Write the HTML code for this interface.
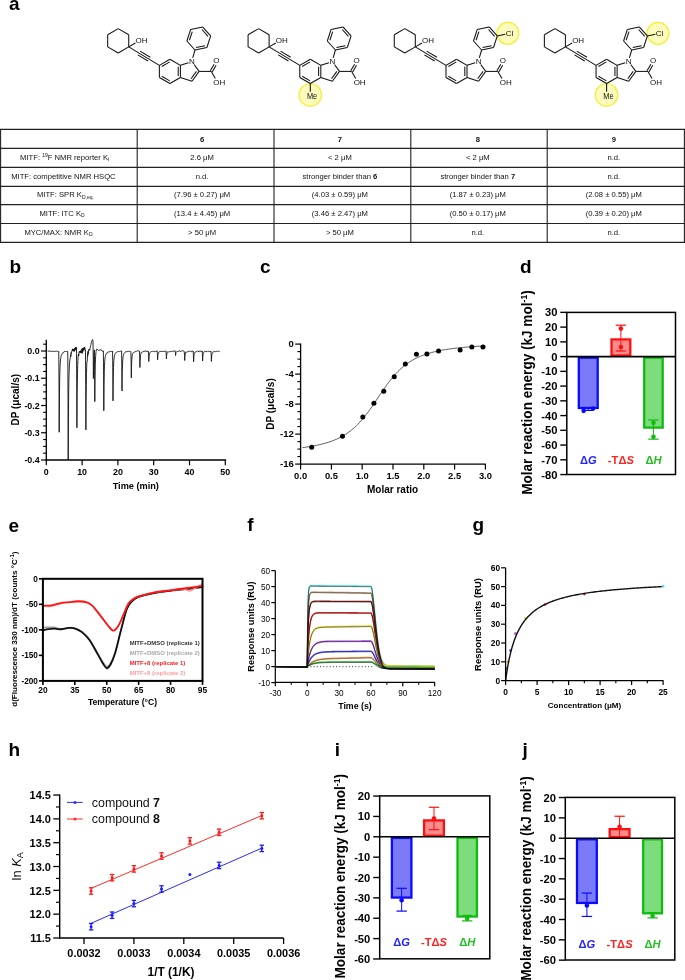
<!DOCTYPE html><html><head><meta charset="utf-8"><style>html,body{margin:0;padding:0;background:#fff;}svg{display:block;will-change:transform;}</style></head><body><svg width="685" height="980" viewBox="0 0 685 980" font-family='"Liberation Sans", sans-serif'>
<rect width="685" height="980" fill="#fff"/>
<text x="9.1" y="9.85" font-size="19" text-anchor="start" font-weight="bold" font-style="normal" fill="#000" >a</text>
<g>
<line x1="118.2" y1="28.65" x2="128.72" y2="34.72" stroke="#111" stroke-width="1.05" />
<line x1="128.72" y1="34.72" x2="128.72" y2="46.88" stroke="#111" stroke-width="1.05" />
<line x1="128.72" y1="46.88" x2="118.2" y2="52.95" stroke="#111" stroke-width="1.05" />
<line x1="118.2" y1="52.95" x2="107.68" y2="46.88" stroke="#111" stroke-width="1.05" />
<line x1="107.68" y1="46.88" x2="107.68" y2="34.72" stroke="#111" stroke-width="1.05" />
<line x1="107.68" y1="34.72" x2="118.2" y2="28.65" stroke="#111" stroke-width="1.05" />
<line x1="128.72" y1="46.88" x2="135.43" y2="43" stroke="#111" stroke-width="1.05" />
<text x="135.44" y="43.4" font-size="8.0" text-anchor="start" font-weight="normal" font-style="normal" fill="#111" >OH</text>
<line x1="128.72" y1="46.88" x2="159.38" y2="65.33" stroke="#111" stroke-width="1.05" />
<line x1="137.81" y1="54.91" x2="148.02" y2="61.06" stroke="#111" stroke-width="1.05" />
<line x1="140.08" y1="51.14" x2="150.29" y2="57.29" stroke="#111" stroke-width="1.05" />
<line x1="169.9" y1="59.25" x2="180.42" y2="65.33" stroke="#111" stroke-width="1.05" />
<line x1="180.42" y1="65.33" x2="180.42" y2="77.48" stroke="#111" stroke-width="1.05" />
<line x1="180.42" y1="77.48" x2="169.9" y2="83.55" stroke="#111" stroke-width="1.05" />
<line x1="169.9" y1="83.55" x2="159.38" y2="77.48" stroke="#111" stroke-width="1.05" />
<line x1="159.38" y1="77.48" x2="159.38" y2="65.33" stroke="#111" stroke-width="1.05" />
<line x1="159.38" y1="65.33" x2="169.9" y2="59.25" stroke="#111" stroke-width="1.05" />
<line x1="161.78" y1="66.48" x2="169.7" y2="61.91" stroke="#111" stroke-width="1.05" />
<line x1="178.22" y1="66.83" x2="178.22" y2="75.98" stroke="#111" stroke-width="1.05" />
<line x1="169.7" y1="80.89" x2="161.78" y2="76.32" stroke="#111" stroke-width="1.05" />
<line x1="180.42" y1="65.33" x2="188.55" y2="62.68" stroke="#111" stroke-width="1.05" />
<line x1="194.09" y1="64.48" x2="199.12" y2="71.4" stroke="#111" stroke-width="1.05" />
<line x1="199.12" y1="71.4" x2="191.98" y2="81.23" stroke="#111" stroke-width="1.05" />
<line x1="191.98" y1="81.23" x2="180.42" y2="77.48" stroke="#111" stroke-width="1.05" />
<line x1="196.46" y1="71.32" x2="191.08" y2="78.72" stroke="#111" stroke-width="1.05" />
<text x="191.98" y="64.37" font-size="8.0" text-anchor="middle" font-weight="normal" font-style="normal" fill="#111" >N</text>
<line x1="192.7" y1="57.92" x2="195.03" y2="50.01" stroke="#111" stroke-width="1.05" />
<line x1="195.03" y1="50.01" x2="206.91" y2="47.49" stroke="#111" stroke-width="1.05" />
<line x1="206.91" y1="47.49" x2="210.67" y2="35.93" stroke="#111" stroke-width="1.05" />
<line x1="210.67" y1="35.93" x2="202.54" y2="26.9" stroke="#111" stroke-width="1.05" />
<line x1="202.54" y1="26.9" x2="190.65" y2="29.43" stroke="#111" stroke-width="1.05" />
<line x1="190.65" y1="29.43" x2="186.9" y2="40.99" stroke="#111" stroke-width="1.05" />
<line x1="186.9" y1="40.99" x2="195.03" y2="50.01" stroke="#111" stroke-width="1.05" />
<line x1="196.04" y1="47.55" x2="204.99" y2="45.65" stroke="#111" stroke-width="1.05" />
<line x1="189.46" y1="40.24" x2="192.28" y2="31.54" stroke="#111" stroke-width="1.05" />
<line x1="201.91" y1="29.49" x2="208.03" y2="36.29" stroke="#111" stroke-width="1.05" />
<line x1="199.12" y1="71.4" x2="211.27" y2="71.4" stroke="#111" stroke-width="1.05" />
<line x1="212.22" y1="71.95" x2="216.1" y2="65.24" stroke="#111" stroke-width="1.05" />
<line x1="210.31" y1="70.85" x2="214.19" y2="64.14" stroke="#111" stroke-width="1.05" />
<line x1="211.27" y1="71.4" x2="215.34" y2="78.46" stroke="#111" stroke-width="1.05" />
<text x="216.34" y="62.88" font-size="8.0" text-anchor="middle" font-weight="normal" font-style="normal" fill="#111" >O</text>
<text x="213.24" y="84.62" font-size="8.0" text-anchor="start" font-weight="normal" font-style="normal" fill="#111" >OH</text>
</g>
<g>
<circle cx="310.3" cy="94.95" r="11.2" fill="#fcfcbf" stroke="#f4ee2c" stroke-width="1.2"/>
<line x1="258.6" y1="28.65" x2="269.12" y2="34.72" stroke="#111" stroke-width="1.05" />
<line x1="269.12" y1="34.72" x2="269.12" y2="46.88" stroke="#111" stroke-width="1.05" />
<line x1="269.12" y1="46.88" x2="258.6" y2="52.95" stroke="#111" stroke-width="1.05" />
<line x1="258.6" y1="52.95" x2="248.08" y2="46.88" stroke="#111" stroke-width="1.05" />
<line x1="248.08" y1="46.88" x2="248.08" y2="34.72" stroke="#111" stroke-width="1.05" />
<line x1="248.08" y1="34.72" x2="258.6" y2="28.65" stroke="#111" stroke-width="1.05" />
<line x1="269.12" y1="46.88" x2="275.83" y2="43" stroke="#111" stroke-width="1.05" />
<text x="275.84" y="43.4" font-size="8.0" text-anchor="start" font-weight="normal" font-style="normal" fill="#111" >OH</text>
<line x1="269.12" y1="46.88" x2="299.78" y2="65.33" stroke="#111" stroke-width="1.05" />
<line x1="278.21" y1="54.91" x2="288.42" y2="61.06" stroke="#111" stroke-width="1.05" />
<line x1="280.48" y1="51.14" x2="290.69" y2="57.29" stroke="#111" stroke-width="1.05" />
<line x1="310.3" y1="59.25" x2="320.82" y2="65.33" stroke="#111" stroke-width="1.05" />
<line x1="320.82" y1="65.33" x2="320.82" y2="77.48" stroke="#111" stroke-width="1.05" />
<line x1="320.82" y1="77.48" x2="310.3" y2="83.55" stroke="#111" stroke-width="1.05" />
<line x1="310.3" y1="83.55" x2="299.78" y2="77.48" stroke="#111" stroke-width="1.05" />
<line x1="299.78" y1="77.48" x2="299.78" y2="65.33" stroke="#111" stroke-width="1.05" />
<line x1="299.78" y1="65.33" x2="310.3" y2="59.25" stroke="#111" stroke-width="1.05" />
<line x1="302.18" y1="66.48" x2="310.1" y2="61.91" stroke="#111" stroke-width="1.05" />
<line x1="318.62" y1="66.83" x2="318.62" y2="75.98" stroke="#111" stroke-width="1.05" />
<line x1="310.1" y1="80.89" x2="302.18" y2="76.32" stroke="#111" stroke-width="1.05" />
<line x1="320.82" y1="65.33" x2="328.95" y2="62.68" stroke="#111" stroke-width="1.05" />
<line x1="334.49" y1="64.48" x2="339.52" y2="71.4" stroke="#111" stroke-width="1.05" />
<line x1="339.52" y1="71.4" x2="332.38" y2="81.23" stroke="#111" stroke-width="1.05" />
<line x1="332.38" y1="81.23" x2="320.82" y2="77.48" stroke="#111" stroke-width="1.05" />
<line x1="336.86" y1="71.32" x2="331.48" y2="78.72" stroke="#111" stroke-width="1.05" />
<text x="332.38" y="64.37" font-size="8.0" text-anchor="middle" font-weight="normal" font-style="normal" fill="#111" >N</text>
<line x1="333.1" y1="57.92" x2="335.43" y2="50.01" stroke="#111" stroke-width="1.05" />
<line x1="335.43" y1="50.01" x2="347.31" y2="47.49" stroke="#111" stroke-width="1.05" />
<line x1="347.31" y1="47.49" x2="351.07" y2="35.93" stroke="#111" stroke-width="1.05" />
<line x1="351.07" y1="35.93" x2="342.94" y2="26.9" stroke="#111" stroke-width="1.05" />
<line x1="342.94" y1="26.9" x2="331.05" y2="29.43" stroke="#111" stroke-width="1.05" />
<line x1="331.05" y1="29.43" x2="327.3" y2="40.99" stroke="#111" stroke-width="1.05" />
<line x1="327.3" y1="40.99" x2="335.43" y2="50.01" stroke="#111" stroke-width="1.05" />
<line x1="336.44" y1="47.55" x2="345.39" y2="45.65" stroke="#111" stroke-width="1.05" />
<line x1="329.86" y1="40.24" x2="332.68" y2="31.54" stroke="#111" stroke-width="1.05" />
<line x1="342.31" y1="29.49" x2="348.43" y2="36.29" stroke="#111" stroke-width="1.05" />
<line x1="339.52" y1="71.4" x2="351.67" y2="71.4" stroke="#111" stroke-width="1.05" />
<line x1="352.62" y1="71.95" x2="356.5" y2="65.24" stroke="#111" stroke-width="1.05" />
<line x1="350.71" y1="70.85" x2="354.59" y2="64.14" stroke="#111" stroke-width="1.05" />
<line x1="351.67" y1="71.4" x2="355.74" y2="78.46" stroke="#111" stroke-width="1.05" />
<text x="356.74" y="62.88" font-size="8.0" text-anchor="middle" font-weight="normal" font-style="normal" fill="#111" >O</text>
<text x="353.64" y="84.62" font-size="8.0" text-anchor="start" font-weight="normal" font-style="normal" fill="#111" >OH</text>
<line x1="310.3" y1="83.55" x2="310.3" y2="91.7" stroke="#111" stroke-width="1.05" />
<text x="307" y="98.7" font-size="8.6" text-anchor="start" font-weight="normal" font-style="normal" fill="#111" textLength="10.2" lengthAdjust="spacingAndGlyphs">Me</text>
</g>
<g>
<circle cx="507.87" cy="33.33" r="10.9" fill="#fcfcbf" stroke="#f4ee2c" stroke-width="1.2"/>
<line x1="404.8" y1="28.65" x2="415.32" y2="34.72" stroke="#111" stroke-width="1.05" />
<line x1="415.32" y1="34.72" x2="415.32" y2="46.88" stroke="#111" stroke-width="1.05" />
<line x1="415.32" y1="46.88" x2="404.8" y2="52.95" stroke="#111" stroke-width="1.05" />
<line x1="404.8" y1="52.95" x2="394.28" y2="46.88" stroke="#111" stroke-width="1.05" />
<line x1="394.28" y1="46.88" x2="394.28" y2="34.72" stroke="#111" stroke-width="1.05" />
<line x1="394.28" y1="34.72" x2="404.8" y2="28.65" stroke="#111" stroke-width="1.05" />
<line x1="415.32" y1="46.88" x2="422.03" y2="43" stroke="#111" stroke-width="1.05" />
<text x="422.04" y="43.4" font-size="8.0" text-anchor="start" font-weight="normal" font-style="normal" fill="#111" >OH</text>
<line x1="415.32" y1="46.88" x2="445.98" y2="65.33" stroke="#111" stroke-width="1.05" />
<line x1="424.41" y1="54.91" x2="434.62" y2="61.06" stroke="#111" stroke-width="1.05" />
<line x1="426.68" y1="51.14" x2="436.89" y2="57.29" stroke="#111" stroke-width="1.05" />
<line x1="456.5" y1="59.25" x2="467.02" y2="65.33" stroke="#111" stroke-width="1.05" />
<line x1="467.02" y1="65.33" x2="467.02" y2="77.48" stroke="#111" stroke-width="1.05" />
<line x1="467.02" y1="77.48" x2="456.5" y2="83.55" stroke="#111" stroke-width="1.05" />
<line x1="456.5" y1="83.55" x2="445.98" y2="77.48" stroke="#111" stroke-width="1.05" />
<line x1="445.98" y1="77.48" x2="445.98" y2="65.33" stroke="#111" stroke-width="1.05" />
<line x1="445.98" y1="65.33" x2="456.5" y2="59.25" stroke="#111" stroke-width="1.05" />
<line x1="448.38" y1="66.48" x2="456.3" y2="61.91" stroke="#111" stroke-width="1.05" />
<line x1="464.82" y1="66.83" x2="464.82" y2="75.98" stroke="#111" stroke-width="1.05" />
<line x1="456.3" y1="80.89" x2="448.38" y2="76.32" stroke="#111" stroke-width="1.05" />
<line x1="467.02" y1="65.33" x2="475.15" y2="62.68" stroke="#111" stroke-width="1.05" />
<line x1="480.69" y1="64.48" x2="485.72" y2="71.4" stroke="#111" stroke-width="1.05" />
<line x1="485.72" y1="71.4" x2="478.58" y2="81.23" stroke="#111" stroke-width="1.05" />
<line x1="478.58" y1="81.23" x2="467.02" y2="77.48" stroke="#111" stroke-width="1.05" />
<line x1="483.06" y1="71.32" x2="477.68" y2="78.72" stroke="#111" stroke-width="1.05" />
<text x="478.58" y="64.37" font-size="8.0" text-anchor="middle" font-weight="normal" font-style="normal" fill="#111" >N</text>
<line x1="479.3" y1="57.92" x2="481.63" y2="50.01" stroke="#111" stroke-width="1.05" />
<line x1="481.63" y1="50.01" x2="493.51" y2="47.49" stroke="#111" stroke-width="1.05" />
<line x1="493.51" y1="47.49" x2="497.27" y2="35.93" stroke="#111" stroke-width="1.05" />
<line x1="497.27" y1="35.93" x2="489.14" y2="26.9" stroke="#111" stroke-width="1.05" />
<line x1="489.14" y1="26.9" x2="477.25" y2="29.43" stroke="#111" stroke-width="1.05" />
<line x1="477.25" y1="29.43" x2="473.5" y2="40.99" stroke="#111" stroke-width="1.05" />
<line x1="473.5" y1="40.99" x2="481.63" y2="50.01" stroke="#111" stroke-width="1.05" />
<line x1="482.64" y1="47.55" x2="491.59" y2="45.65" stroke="#111" stroke-width="1.05" />
<line x1="476.06" y1="40.24" x2="478.88" y2="31.54" stroke="#111" stroke-width="1.05" />
<line x1="488.51" y1="29.49" x2="494.63" y2="36.29" stroke="#111" stroke-width="1.05" />
<line x1="485.72" y1="71.4" x2="497.87" y2="71.4" stroke="#111" stroke-width="1.05" />
<line x1="498.82" y1="71.95" x2="502.7" y2="65.24" stroke="#111" stroke-width="1.05" />
<line x1="496.91" y1="70.85" x2="500.79" y2="64.14" stroke="#111" stroke-width="1.05" />
<line x1="497.87" y1="71.4" x2="501.94" y2="78.46" stroke="#111" stroke-width="1.05" />
<text x="502.94" y="62.88" font-size="8.0" text-anchor="middle" font-weight="normal" font-style="normal" fill="#111" >O</text>
<text x="499.84" y="84.62" font-size="8.0" text-anchor="start" font-weight="normal" font-style="normal" fill="#111" >OH</text>
<line x1="497.27" y1="35.93" x2="505.24" y2="34.24" stroke="#111" stroke-width="1.05" />
<text x="505.65" y="36.01" font-size="8.0" text-anchor="start" font-weight="normal" font-style="normal" fill="#111" >Cl</text>
</g>
<g>
<circle cx="606.6" cy="94.95" r="11.2" fill="#fcfcbf" stroke="#f4ee2c" stroke-width="1.2"/>
<circle cx="657.97" cy="33.33" r="10.9" fill="#fcfcbf" stroke="#f4ee2c" stroke-width="1.2"/>
<line x1="554.9" y1="28.65" x2="565.42" y2="34.72" stroke="#111" stroke-width="1.05" />
<line x1="565.42" y1="34.72" x2="565.42" y2="46.88" stroke="#111" stroke-width="1.05" />
<line x1="565.42" y1="46.88" x2="554.9" y2="52.95" stroke="#111" stroke-width="1.05" />
<line x1="554.9" y1="52.95" x2="544.38" y2="46.88" stroke="#111" stroke-width="1.05" />
<line x1="544.38" y1="46.88" x2="544.38" y2="34.72" stroke="#111" stroke-width="1.05" />
<line x1="544.38" y1="34.72" x2="554.9" y2="28.65" stroke="#111" stroke-width="1.05" />
<line x1="565.42" y1="46.88" x2="572.13" y2="43" stroke="#111" stroke-width="1.05" />
<text x="572.14" y="43.4" font-size="8.0" text-anchor="start" font-weight="normal" font-style="normal" fill="#111" >OH</text>
<line x1="565.42" y1="46.88" x2="596.08" y2="65.33" stroke="#111" stroke-width="1.05" />
<line x1="574.51" y1="54.91" x2="584.72" y2="61.06" stroke="#111" stroke-width="1.05" />
<line x1="576.78" y1="51.14" x2="586.99" y2="57.29" stroke="#111" stroke-width="1.05" />
<line x1="606.6" y1="59.25" x2="617.12" y2="65.33" stroke="#111" stroke-width="1.05" />
<line x1="617.12" y1="65.33" x2="617.12" y2="77.48" stroke="#111" stroke-width="1.05" />
<line x1="617.12" y1="77.48" x2="606.6" y2="83.55" stroke="#111" stroke-width="1.05" />
<line x1="606.6" y1="83.55" x2="596.08" y2="77.48" stroke="#111" stroke-width="1.05" />
<line x1="596.08" y1="77.48" x2="596.08" y2="65.33" stroke="#111" stroke-width="1.05" />
<line x1="596.08" y1="65.33" x2="606.6" y2="59.25" stroke="#111" stroke-width="1.05" />
<line x1="598.48" y1="66.48" x2="606.4" y2="61.91" stroke="#111" stroke-width="1.05" />
<line x1="614.92" y1="66.83" x2="614.92" y2="75.98" stroke="#111" stroke-width="1.05" />
<line x1="606.4" y1="80.89" x2="598.48" y2="76.32" stroke="#111" stroke-width="1.05" />
<line x1="617.12" y1="65.33" x2="625.25" y2="62.68" stroke="#111" stroke-width="1.05" />
<line x1="630.79" y1="64.48" x2="635.82" y2="71.4" stroke="#111" stroke-width="1.05" />
<line x1="635.82" y1="71.4" x2="628.68" y2="81.23" stroke="#111" stroke-width="1.05" />
<line x1="628.68" y1="81.23" x2="617.12" y2="77.48" stroke="#111" stroke-width="1.05" />
<line x1="633.16" y1="71.32" x2="627.78" y2="78.72" stroke="#111" stroke-width="1.05" />
<text x="628.68" y="64.37" font-size="8.0" text-anchor="middle" font-weight="normal" font-style="normal" fill="#111" >N</text>
<line x1="629.4" y1="57.92" x2="631.73" y2="50.01" stroke="#111" stroke-width="1.05" />
<line x1="631.73" y1="50.01" x2="643.61" y2="47.49" stroke="#111" stroke-width="1.05" />
<line x1="643.61" y1="47.49" x2="647.37" y2="35.93" stroke="#111" stroke-width="1.05" />
<line x1="647.37" y1="35.93" x2="639.24" y2="26.9" stroke="#111" stroke-width="1.05" />
<line x1="639.24" y1="26.9" x2="627.35" y2="29.43" stroke="#111" stroke-width="1.05" />
<line x1="627.35" y1="29.43" x2="623.6" y2="40.99" stroke="#111" stroke-width="1.05" />
<line x1="623.6" y1="40.99" x2="631.73" y2="50.01" stroke="#111" stroke-width="1.05" />
<line x1="632.74" y1="47.55" x2="641.69" y2="45.65" stroke="#111" stroke-width="1.05" />
<line x1="626.16" y1="40.24" x2="628.98" y2="31.54" stroke="#111" stroke-width="1.05" />
<line x1="638.61" y1="29.49" x2="644.73" y2="36.29" stroke="#111" stroke-width="1.05" />
<line x1="635.82" y1="71.4" x2="647.97" y2="71.4" stroke="#111" stroke-width="1.05" />
<line x1="648.92" y1="71.95" x2="652.8" y2="65.24" stroke="#111" stroke-width="1.05" />
<line x1="647.01" y1="70.85" x2="650.89" y2="64.14" stroke="#111" stroke-width="1.05" />
<line x1="647.97" y1="71.4" x2="652.04" y2="78.46" stroke="#111" stroke-width="1.05" />
<text x="653.04" y="62.88" font-size="8.0" text-anchor="middle" font-weight="normal" font-style="normal" fill="#111" >O</text>
<text x="649.94" y="84.62" font-size="8.0" text-anchor="start" font-weight="normal" font-style="normal" fill="#111" >OH</text>
<line x1="606.6" y1="83.55" x2="606.6" y2="91.7" stroke="#111" stroke-width="1.05" />
<text x="603.3" y="98.7" font-size="8.6" text-anchor="start" font-weight="normal" font-style="normal" fill="#111" textLength="10.2" lengthAdjust="spacingAndGlyphs">Me</text>
<line x1="647.37" y1="35.93" x2="655.34" y2="34.24" stroke="#111" stroke-width="1.05" />
<text x="655.75" y="36.01" font-size="8.0" text-anchor="start" font-weight="normal" font-style="normal" fill="#111" >Cl</text>
</g>
<line x1="0" y1="129.4" x2="685" y2="129.4" stroke="#222" stroke-width="1.1" />
<line x1="0" y1="148.4" x2="685" y2="148.4" stroke="#222" stroke-width="1.1" />
<line x1="0" y1="167.4" x2="685" y2="167.4" stroke="#222" stroke-width="1.1" />
<line x1="0" y1="186.4" x2="685" y2="186.4" stroke="#222" stroke-width="1.1" />
<line x1="0" y1="204.6" x2="685" y2="204.6" stroke="#222" stroke-width="1.1" />
<line x1="0" y1="223.5" x2="685" y2="223.5" stroke="#222" stroke-width="1.1" />
<line x1="0" y1="242.4" x2="685" y2="242.4" stroke="#222" stroke-width="1.1" />
<line x1="0.6" y1="129.4" x2="0.6" y2="242.4" stroke="#222" stroke-width="1.1" />
<line x1="137.2" y1="129.4" x2="137.2" y2="242.4" stroke="#222" stroke-width="1.1" />
<line x1="274" y1="129.4" x2="274" y2="242.4" stroke="#222" stroke-width="1.1" />
<line x1="410.8" y1="129.4" x2="410.8" y2="242.4" stroke="#222" stroke-width="1.1" />
<line x1="547.2" y1="129.4" x2="547.2" y2="242.4" stroke="#222" stroke-width="1.1" />
<line x1="684.4" y1="129.4" x2="684.4" y2="242.4" stroke="#222" stroke-width="1.1" />
<text x="202.1" y="141.7" font-size="7.65" text-anchor="middle" font-weight="normal" font-style="normal" fill="#111" ><tspan font-weight="bold">6</tspan></text>
<text x="339.9" y="141.7" font-size="7.65" text-anchor="middle" font-weight="normal" font-style="normal" fill="#111" ><tspan font-weight="bold">7</tspan></text>
<text x="477.8" y="141.7" font-size="7.65" text-anchor="middle" font-weight="normal" font-style="normal" fill="#111" ><tspan font-weight="bold">8</tspan></text>
<text x="613.8" y="141.7" font-size="7.65" text-anchor="middle" font-weight="normal" font-style="normal" fill="#111" ><tspan font-weight="bold">9</tspan></text>
<text x="20.1" y="159.7" font-size="7.65" text-anchor="start" font-weight="normal" font-style="normal" fill="#111" >MITF: <tspan font-size="5" dy="-2.6">19</tspan><tspan dy="2.6">F NMR reporter K</tspan><tspan font-size="5" dy="1.6">i</tspan></text>
<text x="202.1" y="159.7" font-size="7.65" text-anchor="middle" font-weight="normal" font-style="normal" fill="#111" >2.6 μM</text>
<text x="339.9" y="159.7" font-size="7.65" text-anchor="middle" font-weight="normal" font-style="normal" fill="#111" >&lt; 2 μM</text>
<text x="477.8" y="159.7" font-size="7.65" text-anchor="middle" font-weight="normal" font-style="normal" fill="#111" >&lt; 2 μM</text>
<text x="613.8" y="159.7" font-size="7.65" text-anchor="middle" font-weight="normal" font-style="normal" fill="#111" >n.d.</text>
<text x="11.2" y="178.7" font-size="7.65" text-anchor="start" font-weight="normal" font-style="normal" fill="#111" >MITF: competitive NMR HSQC</text>
<text x="202.1" y="178.7" font-size="7.65" text-anchor="middle" font-weight="normal" font-style="normal" fill="#111" >n.d.</text>
<text x="339.9" y="178.7" font-size="7.65" text-anchor="middle" font-weight="normal" font-style="normal" fill="#111" >stronger binder than <tspan font-weight="bold">6</tspan></text>
<text x="477.8" y="178.7" font-size="7.65" text-anchor="middle" font-weight="normal" font-style="normal" fill="#111" >stronger binder than <tspan font-weight="bold">7</tspan></text>
<text x="613.8" y="178.7" font-size="7.65" text-anchor="middle" font-weight="normal" font-style="normal" fill="#111" >n.d.</text>
<text x="36.9" y="197.3" font-size="7.65" text-anchor="start" font-weight="normal" font-style="normal" fill="#111" >MITF: SPR K<tspan font-size="5" dy="1.6">D,eq.</tspan></text>
<text x="202.1" y="197.3" font-size="7.65" text-anchor="middle" font-weight="normal" font-style="normal" fill="#111" >(7.96 ± 0.27) μM</text>
<text x="339.9" y="197.3" font-size="7.65" text-anchor="middle" font-weight="normal" font-style="normal" fill="#111" >(4.03 ± 0.59) μM</text>
<text x="477.8" y="197.3" font-size="7.65" text-anchor="middle" font-weight="normal" font-style="normal" fill="#111" >(1.87 ± 0.23) μM</text>
<text x="613.8" y="197.3" font-size="7.65" text-anchor="middle" font-weight="normal" font-style="normal" fill="#111" >(2.08 ± 0.55) μM</text>
<text x="39.4" y="215.85" font-size="7.65" text-anchor="start" font-weight="normal" font-style="normal" fill="#111" >MITF: ITC K<tspan font-size="5" dy="1.6">D</tspan></text>
<text x="202.1" y="215.85" font-size="7.65" text-anchor="middle" font-weight="normal" font-style="normal" fill="#111" >(13.4 ± 4.45) μM</text>
<text x="339.9" y="215.85" font-size="7.65" text-anchor="middle" font-weight="normal" font-style="normal" fill="#111" >(3.46 ± 2.47) μM</text>
<text x="477.8" y="215.85" font-size="7.65" text-anchor="middle" font-weight="normal" font-style="normal" fill="#111" >(0.50 ± 0.17) μM</text>
<text x="613.8" y="215.85" font-size="7.65" text-anchor="middle" font-weight="normal" font-style="normal" fill="#111" >(0.39 ± 0.20) μM</text>
<text x="24.4" y="234.75" font-size="7.65" text-anchor="start" font-weight="normal" font-style="normal" fill="#111" >MYC/MAX: NMR K<tspan font-size="5" dy="1.6">D</tspan></text>
<text x="202.1" y="234.75" font-size="7.65" text-anchor="middle" font-weight="normal" font-style="normal" fill="#111" >&gt; 50 μM</text>
<text x="339.9" y="234.75" font-size="7.65" text-anchor="middle" font-weight="normal" font-style="normal" fill="#111" >&gt; 50 μM</text>
<text x="477.8" y="234.75" font-size="7.65" text-anchor="middle" font-weight="normal" font-style="normal" fill="#111" >n.d.</text>
<text x="613.8" y="234.75" font-size="7.65" text-anchor="middle" font-weight="normal" font-style="normal" fill="#111" >n.d.</text>
<text x="9.6" y="272.8" font-size="19" text-anchor="start" font-weight="bold" font-style="normal" fill="#000" >b</text>
<path d="M47.7,351.04 L47.9,351.13 L48.1,351.08 L48.3,351.19 L48.5,351.27 L48.7,350.98 L48.9,350.78 L49.1,351.15 L49.3,351.02 L49.5,350.94 L49.7,351.34 L49.9,351.27 L50.1,351.44 L50.3,351.33 L50.5,351.36 L50.7,351.09 L50.9,351.21 L51.1,351.43 L51.3,351.35 L51.5,351.44 L51.7,351.44 L51.9,351.08 L52.1,351.29 L52.3,351.31 L52.5,351.14 L52.7,350.89 L52.9,351.23 L53.1,351.2 L53.3,351.33 L53.5,351.51 L53.7,351.51 L53.9,351.64 L54.1,351.4 L54.3,351.5 L54.5,351.35 L54.7,351.55 L54.9,351.64 L55.1,351.22 L55.3,350.99 L55.5,350.91 L55.7,351.3 L55.9,351.22 L56.1,351.29 L56.3,351.13 L56.5,351.17 L56.7,351.11 L56.9,351.06 L57.1,351.17 L57.3,351.23 L57.5,351.46 L57.7,351.47 L57.9,351.62 L58.1,351.66 L58.3,351.77 L58.5,351.65 L58.7,351.27 L58.75,351.46 L58.9,367.16 L59,385.12 L59.1,406.9 L59.2,432.23 L59.3,414.9 L59.45,396.83 L59.5,392.15 L59.7,378.46 L59.9,370.08 L60.1,365.38 L60.3,362.42 L60.5,359.88 L60.7,358.56 L60.9,357.31 L61.1,356.22 L61.3,355.47 L61.5,355.14 L61.7,354.87 L61.9,354.08 L62.1,353.84 L62.3,353.25 L62.5,353.22 L62.7,352.89 L62.9,352.95 L63.1,352.99 L63.3,352.68 L63.5,352.74 L63.7,352.32 L63.9,351.89 L64.1,351.92 L64.3,351.56 L64.5,351.42 L64.7,351.45 L64.9,351.56 L65.1,351.34 L65.3,351.12 L65.5,351.48 L65.7,351.34 L65.9,351.64 L66.1,351.77 L66.3,351.53 L66.5,351.43 L66.7,351.4 L66.9,351.45 L67.1,351.44 L67.3,351.41 L67.5,351.43 L67.7,351.63 L67.75,351.49 L67.9,374.22 L68,400.64 L68.1,432.7 L68.2,460 L68.3,445.19 L68.45,418.23 L68.5,411.39 L68.7,391.17 L68.9,379.25 L69.1,371.97 L69.3,366.95 L69.5,363.96 L69.7,361.84 L69.9,359.91 L70.1,358.8 L70.3,357.78 L70.5,357.06 L70.7,354.78 L70.9,356.27 L71.1,352.71 L71.3,353.7 L71.5,351.69 L71.7,351.74 L71.9,351.14 L72.1,351.11 L72.3,349.14 L72.5,349.45 L72.7,350.59 L72.9,348.78 L73.1,351.01 L73.3,349.52 L73.5,350.96 L73.7,349.56 L73.9,349.94 L74.1,351.53 L74.3,349.3 L74.5,351.13 L74.7,349.42 L74.9,347.98 L75.1,350.18 L75.3,347.61 L75.5,347.59 L75.7,349.77 L75.9,347.36 L76.1,348.95 L76.3,348.91 L76.45,347.36 L76.5,353.36 L76.7,380.19 L76.9,427.72 L77,410.01 L77.1,398.05 L77.15,393.53 L77.3,383.32 L77.5,373.73 L77.7,365.63 L77.9,360.53 L78.1,357.09 L78.3,355.2 L78.5,354.01 L78.7,355.9 L78.9,354.51 L79.1,351.87 L79.3,352.22 L79.5,351.42 L79.7,352.25 L79.9,351.55 L80.1,352.07 L80.3,351.22 L80.5,352.86 L80.7,350.58 L80.9,351.28 L81.1,351.24 L81.3,352.93 L81.5,351.41 L81.7,350.4 L81.9,348.72 L82.1,353.52 L82.3,352.59 L82.5,348.18 L82.7,352.13 L82.9,350.7 L83.1,350.07 L83.3,348.82 L83.5,350.23 L83.7,350.24 L83.9,347.51 L84.1,350.22 L84.3,348.72 L84.5,347.07 L84.7,347.05 L84.9,348.99 L85.1,348.84 L85.3,349.6 L85.45,349.74 L85.5,352.2 L85.7,384.73 L85.9,429.96 L86,411.35 L86.1,398.8 L86.15,396.71 L86.3,385.5 L86.5,373.34 L86.7,366.17 L86.9,362 L87.1,361.73 L87.3,359.96 L87.5,354.56 L87.7,356.1 L87.9,351.4 L88.1,354.39 L88.3,353.65 L88.5,350.85 L88.7,349.31 L88.9,349.6 L89.1,349.17 L89.3,349.35 L89.5,349.88 L89.7,350.35 L89.9,348.82 L90.1,348.6 L90.3,347.46 L90.5,346.06 L90.7,345.54 L90.9,344.61 L91.1,344.03 L91.3,342.16 L91.5,341.63 L91.7,340.85 L91.9,340.56 L92.1,340.37 L92.3,339.69 L92.5,339.79 L92.7,339.64 L92.9,340.08 L92.95,340.41 L93.1,347.79 L93.2,356.21 L93.3,366.75 L93.4,378.52 L93.5,370.73 L93.65,362.5 L93.7,360.64 L93.9,354.83 L94.1,351.49 L94.3,349.87 L94.35,349.83 L94.5,359.15 L94.6,370.75 L94.7,384.89 L94.8,401.64 L94.9,390.09 L95.05,377.46 L95.1,374.14 L95.3,364.61 L95.5,359.02 L95.7,355.38 L95.9,352.84 L96.1,351.24 L96.3,350.12 L96.5,349.67 L96.7,349.02 L96.9,349.21 L97.1,349.12 L97.3,349.27 L97.5,349.41 L97.7,349.83 L97.9,350.15 L98.1,350.25 L98.3,350.28 L98.5,350.43 L98.7,350.57 L98.9,350.33 L99.1,350.32 L99.3,350.4 L99.5,350.11 L99.7,349.76 L99.9,349.54 L100.1,349.7 L100.3,349.79 L100.5,350.05 L100.7,350.19 L100.9,349.97 L101.1,349.86 L101.3,349.91 L101.5,349.95 L101.7,350.34 L101.9,350.73 L102.1,351.02 L102.3,350.85 L102.5,351.15 L102.7,351.02 L102.9,351.02 L103.1,351.4 L103.3,351.09 L103.35,350.92 L103.5,362.7 L103.6,375.76 L103.7,391.9 L103.8,410.7 L103.9,398.27 L104.05,384.47 L104.1,381.06 L104.3,371.16 L104.5,365.24 L104.7,361.4 L104.9,359.17 L105.1,357.88 L105.3,356.6 L105.5,355.76 L105.7,354.86 L105.9,354.28 L106.1,354.05 L106.3,353.48 L106.5,353.5 L106.7,353.45 L106.9,352.85 L107.1,352.94 L107.3,352.6 L107.5,352.58 L107.7,352.51 L107.9,352.16 L108.1,352.14 L108.3,352.09 L108.5,352.12 L108.7,351.79 L108.9,351.86 L109.1,352.01 L109.3,351.91 L109.5,351.76 L109.7,351.4 L109.9,351.4 L110.1,351.31 L110.3,351.46 L110.5,351.52 L110.7,351.48 L110.9,351.22 L111.1,351.34 L111.3,351.4 L111.5,351.16 L111.7,351.44 L111.9,351.46 L112.1,351.15 L112.3,351.45 L112.5,351.15 L112.55,351.09 L112.7,360.81 L112.8,371.82 L112.9,385.27 L113,400.87 L113.1,390.35 L113.25,379.01 L113.3,376 L113.5,367.56 L113.7,362.86 L113.9,359.97 L114.1,357.98 L114.3,356.77 L114.5,355.67 L114.7,354.82 L114.9,354.26 L115.1,354.11 L115.3,353.42 L115.5,353.2 L115.7,352.84 L115.9,352.86 L116.1,352.56 L116.3,352.32 L116.5,352.17 L116.7,352.12 L116.9,352.19 L117.1,351.95 L117.3,352.07 L117.5,351.68 L117.7,351.52 L117.9,351.3 L118.1,351.16 L118.3,351.46 L118.5,351.59 L118.7,351.34 L118.9,351.17 L119.1,351.2 L119.3,351.41 L119.5,351.57 L119.7,351.62 L119.9,351.55 L120.1,351.23 L120.3,351.19 L120.5,351.04 L120.7,351.15 L120.9,351.23 L121.1,351.06 L121.3,350.98 L121.5,351.26 L121.55,350.97 L121.7,358.88 L121.8,367.88 L121.9,378.82 L122,391.02 L122.1,382.62 L122.25,373.65 L122.3,371.4 L122.5,364.99 L122.7,360.97 L122.9,358.24 L123.1,356.83 L123.3,355.65 L123.5,354.9 L123.7,354.42 L123.9,353.6 L124.1,353.48 L124.3,353.27 L124.5,352.97 L124.7,352.75 L124.9,352.52 L125.1,352.17 L125.3,352.12 L125.5,351.76 L125.7,351.79 L125.9,351.86 L126.1,351.76 L126.3,351.75 L126.5,351.96 L126.7,352.02 L126.9,351.59 L127.1,351.72 L127.3,351.68 L127.5,351.3 L127.7,351.25 L127.9,351.13 L128.1,350.96 L128.3,351.13 L128.5,351.46 L128.7,351.29 L128.9,351.51 L129.1,351.53 L129.3,351.21 L129.5,351.44 L129.7,351.43 L129.9,351.61 L130.1,351.59 L130.3,351.59 L130.5,351.35 L130.7,351.49 L130.85,351.64 L130.9,352.67 L131.1,362.36 L131.3,377.82 L131.4,372.14 L131.5,367.61 L131.55,365.67 L131.7,361.56 L131.9,358.16 L132.1,356.07 L132.3,354.95 L132.5,354.32 L132.7,353.78 L132.9,353.31 L133.1,353.1 L133.3,352.7 L133.5,352.5 L133.7,352.51 L133.9,352.26 L134.1,351.93 L134.3,352.14 L134.5,352.12 L134.7,351.87 L134.9,351.7 L135.1,351.68 L135.3,351.68 L135.5,351.45 L135.7,351.16 L135.9,351.09 L136.1,351.39 L136.3,351.17 L136.5,351.23 L136.7,351.09 L136.9,351.01 L137.1,350.93 L137.3,351.02 L137.5,350.93 L137.7,350.78 L137.9,350.74 L138.1,350.75 L138.3,350.95 L138.5,350.8 L138.7,350.69 L138.9,350.88 L139.1,350.96 L139.3,351.19 L139.45,350.94 L139.5,351.61 L139.7,357.94 L139.9,367.52 L140,364.44 L140.1,361.57 L140.15,360.29 L140.3,357.87 L140.5,355.59 L140.7,354.47 L140.9,353.6 L141.1,352.9 L141.3,352.38 L141.5,352.43 L141.7,352.15 L141.9,352.25 L142.1,352.08 L142.3,352.23 L142.5,351.91 L142.7,351.66 L142.9,351.5 L143.1,351.72 L143.3,351.71 L143.5,351.53 L143.7,351.25 L143.9,351.43 L144.1,351.7 L144.3,351.62 L144.5,351.22 L144.7,350.98 L144.9,350.87 L145.1,350.85 L145.3,350.75 L145.5,350.69 L145.7,351.02 L145.9,351.36 L146.1,351.14 L146.3,351.47 L146.5,351.36 L146.7,351.49 L146.9,351.64 L147.1,351.74 L147.3,351.26 L147.5,351.13 L147.7,351.23 L147.9,351.49 L148.1,351.13 L148.3,351.04 L148.35,351.32 L148.5,353.03 L148.6,355.31 L148.7,358.08 L148.8,361.5 L148.9,359.59 L149.05,356.96 L149.1,356.53 L149.3,354.9 L149.5,353.98 L149.7,353.24 L149.9,352.99 L150.1,352.47 L150.3,352.17 L150.5,351.84 L150.7,351.95 L150.9,351.82 L151.1,351.59 L151.3,351.37 L151.5,351.56 L151.7,351.59 L151.9,351.65 L152.1,351.49 L152.3,351.44 L152.5,351.2 L152.7,351.38 L152.9,351.08 L153.1,351.15 L153.3,351.36 L153.5,351.44 L153.7,351.13 L153.9,351.03 L154.1,351.33 L154.3,351.38 L154.5,351.56 L154.7,351.65 L154.9,351.46 L155.1,351.6 L155.3,351.59 L155.5,351.35 L155.7,351.22 L155.9,350.96 L156.1,351 L156.3,351.36 L156.5,351.07 L156.7,351.17 L156.9,350.95 L157.1,350.8 L157.15,351.05 L157.3,352.64 L157.4,354.39 L157.5,356.72 L157.6,359.72 L157.7,358.01 L157.85,355.77 L157.9,355.24 L158.1,354.21 L158.3,353.14 L158.5,352.69 L158.7,352.31 L158.9,352.27 L159.1,352.12 L159.3,352.11 L159.5,351.94 L159.7,351.61 L159.9,351.38 L160.1,351.17 L160.3,351.48 L160.5,351.23 L160.7,351.01 L160.9,351.44 L161.1,351.22 L161.3,351.51 L161.5,351.18 L161.7,351.21 L161.9,351.08 L162.1,351.36 L162.3,351.39 L162.5,351.43 L162.7,351.52 L162.9,351.63 L163.1,351.39 L163.3,351.39 L163.5,351.29 L163.7,351.04 L163.9,351.31 L164.1,351.33 L164.3,351.48 L164.5,351.2 L164.7,351.23 L164.9,351.2 L165.1,351.34 L165.3,351.04 L165.5,351.01 L165.7,351.08 L165.9,350.88 L165.95,351.04 L166.1,352.71 L166.2,354.33 L166.3,356.5 L166.4,358.92 L166.5,357.1 L166.65,355.33 L166.7,355.25 L166.9,353.8 L167.1,352.98 L167.3,352.27 L167.5,351.9 L167.7,351.63 L167.9,351.9 L168.1,351.92 L168.3,352.01 L168.5,352.11 L168.7,351.93 L168.9,352 L169.1,351.79 L169.3,351.58 L169.5,351.77 L169.7,351.85 L169.9,351.91 L170.1,351.67 L170.3,351.69 L170.5,351.47 L170.7,351.7 L170.9,351.78 L171.1,351.45 L171.3,351.63 L171.5,351.29 L171.7,351.03 L171.9,351.25 L172.1,351.12 L172.3,351.17 L172.5,351.28 L172.7,350.98 L172.9,351.22 L173.1,351.09 L173.3,351.1 L173.5,351.05 L173.7,351.26 L173.9,351.39 L174.1,351.19 L174.3,350.96 L174.5,350.94 L174.7,350.99 L174.9,350.82 L175.1,350.77 L175.15,351.1 L175.3,352.01 L175.4,353.14 L175.5,354.36 L175.6,355.62 L175.7,354.51 L175.85,353.33 L175.9,353.02 L176.1,352.41 L176.3,352.08 L176.5,351.88 L176.7,351.64 L176.9,351.78 L177.1,351.52 L177.3,351.45 L177.5,351.66 L177.7,351.73 L177.9,351.45 L178.1,351.25 L178.3,351.46 L178.5,351.1 L178.7,350.96 L178.9,351.1 L179.1,351.19 L179.3,351.02 L179.5,350.84 L179.7,350.83 L179.9,351.16 L180.1,351.17 L180.3,351.48 L180.5,351.55 L180.7,351.71 L180.9,351.24 L181.1,351.04 L181.3,350.82 L181.5,350.94 L181.7,350.95 L181.9,350.79 L182.1,350.98 L182.3,350.83 L182.5,350.87 L182.7,350.85 L182.9,351.18 L183.1,351.14 L183.3,351.02 L183.5,350.82 L183.7,350.93 L183.9,351.12 L184.1,351.26 L184.25,351.48 L184.3,351.91 L184.5,355.2 L184.7,360.52 L184.8,358.74 L184.9,357.37 L184.95,356.67 L185.1,355.38 L185.3,354.07 L185.5,353.11 L185.7,352.45 L185.9,351.93 L186.1,351.97 L186.3,352.12 L186.5,352.19 L186.7,351.95 L186.9,351.9 L187.1,352.01 L187.3,352 L187.5,351.84 L187.7,351.63 L187.9,351.55 L188.1,351.29 L188.3,351.13 L188.5,351.32 L188.7,351.62 L188.9,351.52 L189.1,351.38 L189.3,351.25 L189.5,351.23 L189.7,351.43 L189.9,351.33 L190.1,351.58 L190.3,351.24 L190.5,351.13 L190.7,351.18 L190.9,351.15 L191.1,351.39 L191.3,351.52 L191.5,351.66 L191.7,351.55 L191.9,351.14 L192.1,351.21 L192.3,351.24 L192.5,351.22 L192.7,351.09 L192.9,351.26 L193.1,351.49 L193.15,351.14 L193.3,353.25 L193.4,355.43 L193.5,358.26 L193.6,361.73 L193.7,359.75 L193.85,357.34 L193.9,356.43 L194.1,354.95 L194.3,353.62 L194.5,352.92 L194.7,352.74 L194.9,352.29 L195.1,351.97 L195.3,352.16 L195.5,352.24 L195.7,351.89 L195.9,351.71 L196.1,351.51 L196.3,351.29 L196.5,351.21 L196.7,351.59 L196.9,351.26 L197.1,351.15 L197.3,351.06 L197.5,350.92 L197.7,351.1 L197.9,351.33 L198.1,351.52 L198.3,351.51 L198.5,351.6 L198.7,351.17 L198.9,351.08 L199.1,351.42 L199.3,351.09 L199.5,351.01 L199.7,351.09 L199.9,351.01 L200.1,351.12 L200.3,350.89 L200.5,350.87 L200.7,351.28 L200.9,351.04 L201.1,351.35 L201.3,351.11 L201.5,351.44 L201.7,351.46 L201.9,351.44 L202.1,351.14 L202.15,350.9 L202.3,353.06 L202.4,355.05 L202.5,357.62 L202.6,361.01 L202.7,359.17 L202.85,356.59 L202.9,356.35 L203.1,354.66 L203.3,353.54 L203.5,352.69 L203.7,352.32 L203.9,352.43 L204.1,352.05 L204.3,351.7 L204.5,351.48 L204.7,351.31 L204.9,351.33 L205.1,351.66 L205.3,351.34 L205.5,351.2 L205.7,351.55 L205.9,351.79 L206.1,351.91 L206.3,351.54 L206.5,351.37 L206.7,351.62 L206.9,351.49 L207.1,351.53 L207.3,351.32 L207.5,351.01 L207.7,351.02 L207.9,351.26 L208.1,351.43 L208.3,351.4 L208.5,351.31 L208.7,351.3 L208.9,351.24 L209.1,351.26 L209.3,351.44 L209.5,351.17 L209.7,351.25 L209.9,351.5 L210.1,351.59 L210.3,351.25 L210.5,351.51 L210.7,351.59 L210.9,351.24 L210.95,351.09 L211.1,352.94 L211.2,355.05 L211.3,358.31 L211.4,361.47 L211.5,359.54 L211.65,356.89 L211.7,356.05 L211.9,354.7 L212.1,353.83 L212.3,353.41 L212.5,352.95 L212.7,352.55 L212.9,352.42 L213.1,351.91 L213.3,351.85 L213.5,351.73 L213.7,351.46 L213.9,351.56 L214.1,351.43 L214.3,351.45 L214.5,351.37 L214.7,351.28 L214.9,351.23 L215.1,351.35 L215.3,351.63 L215.5,351.77 L215.7,351.81 L215.9,351.8 L216.1,351.47 L216.3,351.68 L216.5,351.38 L216.7,351.1 L216.9,351.16 L217.1,351.34 L217.3,351.2 L217.5,351.3 L217.7,351.14 L217.9,351.46 L218.1,351.34 L218.3,351.28 L218.5,351.27 L218.7,351.48 L218.9,351.66 L219.1,351.5 L219.3,351.35 L219.5,351.36 L219.7,351.04" fill="none" stroke="#111" stroke-width="0.9" stroke-linejoin="round" />
<line x1="46.3" y1="339.7" x2="46.3" y2="460.6" stroke="#000" stroke-width="1.3" />
<line x1="45.7" y1="460" x2="226.1" y2="460" stroke="#000" stroke-width="1.3" />
<line x1="41.1" y1="460" x2="46.3" y2="460" stroke="#000" stroke-width="1.2" />
<text x="39.7" y="463.2" font-size="8.9" text-anchor="end" font-weight="bold" font-style="normal" fill="#000" >-0.4</text>
<line x1="43.1" y1="453.19" x2="46.3" y2="453.19" stroke="#000" stroke-width="1.1" />
<line x1="43.1" y1="446.38" x2="46.3" y2="446.38" stroke="#000" stroke-width="1.1" />
<line x1="43.1" y1="439.56" x2="46.3" y2="439.56" stroke="#000" stroke-width="1.1" />
<line x1="41.1" y1="432.75" x2="46.3" y2="432.75" stroke="#000" stroke-width="1.2" />
<text x="39.7" y="435.95" font-size="8.9" text-anchor="end" font-weight="bold" font-style="normal" fill="#000" >-0.3</text>
<line x1="43.1" y1="425.94" x2="46.3" y2="425.94" stroke="#000" stroke-width="1.1" />
<line x1="43.1" y1="419.12" x2="46.3" y2="419.12" stroke="#000" stroke-width="1.1" />
<line x1="43.1" y1="412.31" x2="46.3" y2="412.31" stroke="#000" stroke-width="1.1" />
<line x1="41.1" y1="405.5" x2="46.3" y2="405.5" stroke="#000" stroke-width="1.2" />
<text x="39.7" y="408.7" font-size="8.9" text-anchor="end" font-weight="bold" font-style="normal" fill="#000" >-0.2</text>
<line x1="43.1" y1="398.69" x2="46.3" y2="398.69" stroke="#000" stroke-width="1.1" />
<line x1="43.1" y1="391.88" x2="46.3" y2="391.88" stroke="#000" stroke-width="1.1" />
<line x1="43.1" y1="385.06" x2="46.3" y2="385.06" stroke="#000" stroke-width="1.1" />
<line x1="41.1" y1="378.25" x2="46.3" y2="378.25" stroke="#000" stroke-width="1.2" />
<text x="39.7" y="381.45" font-size="8.9" text-anchor="end" font-weight="bold" font-style="normal" fill="#000" >-0.1</text>
<line x1="43.1" y1="371.44" x2="46.3" y2="371.44" stroke="#000" stroke-width="1.1" />
<line x1="43.1" y1="364.62" x2="46.3" y2="364.62" stroke="#000" stroke-width="1.1" />
<line x1="43.1" y1="357.81" x2="46.3" y2="357.81" stroke="#000" stroke-width="1.1" />
<line x1="41.1" y1="351" x2="46.3" y2="351" stroke="#000" stroke-width="1.2" />
<text x="39.7" y="354.2" font-size="8.9" text-anchor="end" font-weight="bold" font-style="normal" fill="#000" >0.0</text>
<line x1="43.1" y1="344.19" x2="46.3" y2="344.19" stroke="#000" stroke-width="1.1" />
<line x1="46.3" y1="460" x2="46.3" y2="465.3" stroke="#000" stroke-width="1.2" />
<text x="46.3" y="475.3" font-size="8.9" text-anchor="middle" font-weight="bold" font-style="normal" fill="#000" >0</text>
<line x1="82.1" y1="460" x2="82.1" y2="465.3" stroke="#000" stroke-width="1.2" />
<text x="82.1" y="475.3" font-size="8.9" text-anchor="middle" font-weight="bold" font-style="normal" fill="#000" >10</text>
<line x1="117.9" y1="460" x2="117.9" y2="465.3" stroke="#000" stroke-width="1.2" />
<text x="117.9" y="475.3" font-size="8.9" text-anchor="middle" font-weight="bold" font-style="normal" fill="#000" >20</text>
<line x1="153.7" y1="460" x2="153.7" y2="465.3" stroke="#000" stroke-width="1.2" />
<text x="153.7" y="475.3" font-size="8.9" text-anchor="middle" font-weight="bold" font-style="normal" fill="#000" >30</text>
<line x1="189.5" y1="460" x2="189.5" y2="465.3" stroke="#000" stroke-width="1.2" />
<text x="189.5" y="475.3" font-size="8.9" text-anchor="middle" font-weight="bold" font-style="normal" fill="#000" >40</text>
<line x1="225.3" y1="460" x2="225.3" y2="465.3" stroke="#000" stroke-width="1.2" />
<text x="225.3" y="475.3" font-size="8.9" text-anchor="middle" font-weight="bold" font-style="normal" fill="#000" >50</text>
<text x="135.8" y="489.3" font-size="9.2" text-anchor="middle" font-weight="bold" font-style="normal" fill="#000" >Time (min)</text>
<text transform="translate(18.6,399.7) rotate(-90)" x="0" y="0" font-size="10.0" text-anchor="middle" font-weight="bold" fill="#000" >DP (μcal/s)</text>
<text x="260" y="273" font-size="19" text-anchor="start" font-weight="bold" font-style="normal" fill="#000" >c</text>
<path d="M302.45,447.62 L303.99,447.42 L305.52,447.21 L307.06,446.99 L308.6,446.75 L310.14,446.51 L311.67,446.25 L313.21,445.98 L314.75,445.69 L316.28,445.38 L317.82,445.06 L319.36,444.72 L320.9,444.36 L322.43,443.98 L323.97,443.58 L325.51,443.15 L327.05,442.69 L328.58,442.21 L330.12,441.7 L331.66,441.16 L333.2,440.58 L334.73,439.96 L336.27,439.31 L337.81,438.61 L339.35,437.87 L340.88,437.08 L342.42,436.24 L343.96,435.35 L345.5,434.4 L347.03,433.39 L348.57,432.31 L350.11,431.17 L351.65,429.95 L353.18,428.66 L354.72,427.3 L356.26,425.85 L357.79,424.33 L359.33,422.72 L360.87,421.03 L362.41,419.26 L363.94,417.41 L365.48,415.48 L367.02,413.48 L368.56,411.4 L370.09,409.27 L371.63,407.08 L373.17,404.85 L374.71,402.59 L376.24,400.3 L377.78,398 L379.32,395.7 L380.86,393.41 L382.39,391.15 L383.93,388.92 L385.47,386.73 L387.01,384.6 L388.54,382.54 L390.08,380.54 L391.62,378.61 L393.16,376.77 L394.69,375 L396.23,373.32 L397.77,371.71 L399.3,370.19 L400.84,368.75 L402.38,367.39 L403.92,366.11 L405.45,364.9 L406.99,363.76 L408.53,362.69 L410.07,361.68 L411.6,360.73 L413.14,359.84 L414.68,359.01 L416.22,358.22 L417.75,357.48 L419.29,356.79 L420.83,356.14 L422.37,355.53 L423.9,354.95 L425.44,354.41 L426.98,353.9 L428.52,353.42 L430.05,352.97 L431.59,352.54 L433.13,352.14 L434.67,351.76 L436.2,351.4 L437.74,351.06 L439.28,350.74 L440.82,350.44 L442.35,350.15 L443.89,349.88 L445.43,349.62 L446.96,349.37 L448.5,349.14 L450.04,348.92 L451.58,348.71 L453.11,348.51 L454.65,348.32 L456.19,348.14 L457.73,347.97 L459.26,347.8 L460.8,347.65 L462.34,347.5 L463.88,347.35 L465.41,347.22 L466.95,347.09 L468.49,346.96 L470.03,346.84 L471.56,346.73 L473.1,346.62 L474.64,346.51 L476.18,346.41 L477.71,346.31 L479.25,346.22 L480.79,346.13 L482.33,346.04 L483.86,345.96 L485.4,345.88" fill="none" stroke="#333" stroke-width="0.8" stroke-linejoin="round" />
<circle cx="311.69" cy="447.3" r="2.5" fill="#000"/>
<circle cx="342.49" cy="436.35" r="2.5" fill="#000"/>
<circle cx="362.82" cy="417.08" r="2.5" fill="#000"/>
<circle cx="373.9" cy="403.35" r="2.5" fill="#000"/>
<circle cx="383.76" cy="391.35" r="2.5" fill="#000"/>
<circle cx="394.23" cy="376.73" r="2.5" fill="#000"/>
<circle cx="405.32" cy="363.9" r="2.5" fill="#000"/>
<circle cx="416.41" cy="354.3" r="2.5" fill="#000"/>
<circle cx="426.88" cy="354.08" r="2.5" fill="#000"/>
<circle cx="438.58" cy="351" r="2.5" fill="#000"/>
<circle cx="460.14" cy="350.1" r="2.5" fill="#000"/>
<circle cx="471.85" cy="347.1" r="2.5" fill="#000"/>
<circle cx="482.94" cy="347.1" r="2.5" fill="#000"/>
<line x1="300.6" y1="343.5" x2="300.6" y2="464.7" stroke="#000" stroke-width="1.3" />
<line x1="300" y1="464.1" x2="485.9" y2="464.1" stroke="#000" stroke-width="1.3" />
<line x1="295.2" y1="344.1" x2="300.6" y2="344.1" stroke="#000" stroke-width="1.2" />
<text x="293.8" y="346.7" font-size="9.5" text-anchor="end" font-weight="bold" font-style="normal" fill="#000" >0</text>
<line x1="297.4" y1="351.6" x2="300.6" y2="351.6" stroke="#000" stroke-width="1.1" />
<line x1="297.4" y1="359.1" x2="300.6" y2="359.1" stroke="#000" stroke-width="1.1" />
<line x1="297.4" y1="366.6" x2="300.6" y2="366.6" stroke="#000" stroke-width="1.1" />
<line x1="295.2" y1="374.1" x2="300.6" y2="374.1" stroke="#000" stroke-width="1.2" />
<text x="293.8" y="376.7" font-size="9.5" text-anchor="end" font-weight="bold" font-style="normal" fill="#000" >-4</text>
<line x1="297.4" y1="381.6" x2="300.6" y2="381.6" stroke="#000" stroke-width="1.1" />
<line x1="297.4" y1="389.1" x2="300.6" y2="389.1" stroke="#000" stroke-width="1.1" />
<line x1="297.4" y1="396.6" x2="300.6" y2="396.6" stroke="#000" stroke-width="1.1" />
<line x1="295.2" y1="404.1" x2="300.6" y2="404.1" stroke="#000" stroke-width="1.2" />
<text x="293.8" y="406.7" font-size="9.5" text-anchor="end" font-weight="bold" font-style="normal" fill="#000" >-8</text>
<line x1="297.4" y1="411.6" x2="300.6" y2="411.6" stroke="#000" stroke-width="1.1" />
<line x1="297.4" y1="419.1" x2="300.6" y2="419.1" stroke="#000" stroke-width="1.1" />
<line x1="297.4" y1="426.6" x2="300.6" y2="426.6" stroke="#000" stroke-width="1.1" />
<line x1="295.2" y1="434.1" x2="300.6" y2="434.1" stroke="#000" stroke-width="1.2" />
<text x="293.8" y="436.7" font-size="9.5" text-anchor="end" font-weight="bold" font-style="normal" fill="#000" >-12</text>
<line x1="297.4" y1="441.6" x2="300.6" y2="441.6" stroke="#000" stroke-width="1.1" />
<line x1="297.4" y1="449.1" x2="300.6" y2="449.1" stroke="#000" stroke-width="1.1" />
<line x1="297.4" y1="456.6" x2="300.6" y2="456.6" stroke="#000" stroke-width="1.1" />
<line x1="295.2" y1="464.1" x2="300.6" y2="464.1" stroke="#000" stroke-width="1.2" />
<text x="293.8" y="466.7" font-size="9.5" text-anchor="end" font-weight="bold" font-style="normal" fill="#000" >-16</text>
<line x1="300.6" y1="464.1" x2="300.6" y2="469.4" stroke="#000" stroke-width="1.2" />
<text x="300.6" y="479.3" font-size="9.4" text-anchor="middle" font-weight="bold" font-style="normal" fill="#000" >0.0</text>
<line x1="331.4" y1="464.1" x2="331.4" y2="469.4" stroke="#000" stroke-width="1.2" />
<text x="331.4" y="479.3" font-size="9.4" text-anchor="middle" font-weight="bold" font-style="normal" fill="#000" >0.5</text>
<line x1="362.2" y1="464.1" x2="362.2" y2="469.4" stroke="#000" stroke-width="1.2" />
<text x="362.2" y="479.3" font-size="9.4" text-anchor="middle" font-weight="bold" font-style="normal" fill="#000" >1.0</text>
<line x1="393" y1="464.1" x2="393" y2="469.4" stroke="#000" stroke-width="1.2" />
<text x="393" y="479.3" font-size="9.4" text-anchor="middle" font-weight="bold" font-style="normal" fill="#000" >1.5</text>
<line x1="423.8" y1="464.1" x2="423.8" y2="469.4" stroke="#000" stroke-width="1.2" />
<text x="423.8" y="479.3" font-size="9.4" text-anchor="middle" font-weight="bold" font-style="normal" fill="#000" >2.0</text>
<line x1="454.6" y1="464.1" x2="454.6" y2="469.4" stroke="#000" stroke-width="1.2" />
<text x="454.6" y="479.3" font-size="9.4" text-anchor="middle" font-weight="bold" font-style="normal" fill="#000" >2.5</text>
<line x1="485.4" y1="464.1" x2="485.4" y2="469.4" stroke="#000" stroke-width="1.2" />
<text x="485.4" y="479.3" font-size="9.4" text-anchor="middle" font-weight="bold" font-style="normal" fill="#000" >3.0</text>
<text x="392.6" y="493.3" font-size="10" text-anchor="middle" font-weight="bold" font-style="normal" fill="#000" >Molar ratio</text>
<text transform="translate(273.6,404) rotate(-90)" x="0" y="0" font-size="10.0" text-anchor="middle" font-weight="bold" fill="#000" >DP (μcal/s)</text>
<text x="520" y="273" font-size="19" text-anchor="start" font-weight="bold" font-style="normal" fill="#000" >d</text>
<rect x="578.8" y="357.7" width="18.9" height="50.29" fill="#7b7bf9" stroke="#0a0aff" stroke-width="2.3"/>
<line x1="588.25" y1="408.5" x2="588.25" y2="410.42" stroke="#0a0aff" stroke-width="1.0" />
<line x1="583.05" y1="408.5" x2="593.45" y2="408.5" stroke="#0a0aff" stroke-width="1.2" />
<line x1="583.05" y1="410.42" x2="593.45" y2="410.42" stroke="#0a0aff" stroke-width="1.2" />
<circle cx="583.65" cy="410.86" r="2.3" fill="#0a0aff"/>
<circle cx="593.05" cy="408.5" r="2.3" fill="#0a0aff"/>
<rect x="611.5" y="339.42" width="18.8" height="16.08" fill="#ff8c8c" stroke="#ff1010" stroke-width="2.3"/>
<line x1="620.9" y1="351" x2="620.9" y2="325.19" stroke="#ff1010" stroke-width="1.0" />
<line x1="615.7" y1="351" x2="626.1" y2="351" stroke="#ff1010" stroke-width="1.2" />
<line x1="615.7" y1="325.19" x2="626.1" y2="325.19" stroke="#ff1010" stroke-width="1.2" />
<circle cx="620.9" cy="328.58" r="2.3" fill="#ff1010"/>
<circle cx="620.9" cy="347.02" r="2.3" fill="#ff1010"/>
<rect x="644.2" y="357.7" width="18.5" height="69.9" fill="#7ddd7d" stroke="#10bb10" stroke-width="2.3"/>
<line x1="653.45" y1="420" x2="653.45" y2="439.17" stroke="#10bb10" stroke-width="1.0" />
<line x1="648.25" y1="420" x2="658.65" y2="420" stroke="#10bb10" stroke-width="1.2" />
<line x1="648.25" y1="439.17" x2="658.65" y2="439.17" stroke="#10bb10" stroke-width="1.2" />
<circle cx="653.45" cy="422.81" r="2.3" fill="#10bb10"/>
<circle cx="653.45" cy="436.81" r="2.3" fill="#10bb10"/>
<rect x="566.8" y="312.4" width="108.7" height="162.1" fill="none" stroke="#000" stroke-width="1.5"/>
<line x1="566.8" y1="356.6" x2="675.5" y2="356.6" stroke="#000" stroke-width="1.6" />
<line x1="560.3" y1="312.37" x2="566.8" y2="312.37" stroke="#000" stroke-width="1.4" />
<text x="557.4" y="316.37" font-size="11.2" text-anchor="end" font-weight="bold" font-style="normal" fill="#000" >30</text>
<line x1="560.3" y1="327.11" x2="566.8" y2="327.11" stroke="#000" stroke-width="1.4" />
<text x="557.4" y="331.11" font-size="11.2" text-anchor="end" font-weight="bold" font-style="normal" fill="#000" >20</text>
<line x1="560.3" y1="341.86" x2="566.8" y2="341.86" stroke="#000" stroke-width="1.4" />
<text x="557.4" y="345.86" font-size="11.2" text-anchor="end" font-weight="bold" font-style="normal" fill="#000" >10</text>
<line x1="560.3" y1="356.6" x2="566.8" y2="356.6" stroke="#000" stroke-width="1.4" />
<text x="557.4" y="360.6" font-size="11.2" text-anchor="end" font-weight="bold" font-style="normal" fill="#000" >0</text>
<line x1="560.3" y1="371.35" x2="566.8" y2="371.35" stroke="#000" stroke-width="1.4" />
<text x="557.4" y="375.35" font-size="11.2" text-anchor="end" font-weight="bold" font-style="normal" fill="#000" >-10</text>
<line x1="560.3" y1="386.09" x2="566.8" y2="386.09" stroke="#000" stroke-width="1.4" />
<text x="557.4" y="390.09" font-size="11.2" text-anchor="end" font-weight="bold" font-style="normal" fill="#000" >-20</text>
<line x1="560.3" y1="400.84" x2="566.8" y2="400.84" stroke="#000" stroke-width="1.4" />
<text x="557.4" y="404.84" font-size="11.2" text-anchor="end" font-weight="bold" font-style="normal" fill="#000" >-30</text>
<line x1="560.3" y1="415.58" x2="566.8" y2="415.58" stroke="#000" stroke-width="1.4" />
<text x="557.4" y="419.58" font-size="11.2" text-anchor="end" font-weight="bold" font-style="normal" fill="#000" >-40</text>
<line x1="560.3" y1="430.33" x2="566.8" y2="430.33" stroke="#000" stroke-width="1.4" />
<text x="557.4" y="434.33" font-size="11.2" text-anchor="end" font-weight="bold" font-style="normal" fill="#000" >-50</text>
<line x1="560.3" y1="445.07" x2="566.8" y2="445.07" stroke="#000" stroke-width="1.4" />
<text x="557.4" y="449.07" font-size="11.2" text-anchor="end" font-weight="bold" font-style="normal" fill="#000" >-60</text>
<line x1="560.3" y1="459.81" x2="566.8" y2="459.81" stroke="#000" stroke-width="1.4" />
<text x="557.4" y="463.81" font-size="11.2" text-anchor="end" font-weight="bold" font-style="normal" fill="#000" >-70</text>
<line x1="560.3" y1="474.56" x2="566.8" y2="474.56" stroke="#000" stroke-width="1.4" />
<text x="557.4" y="478.56" font-size="11.2" text-anchor="end" font-weight="bold" font-style="normal" fill="#000" >-80</text>
<text x="588.25" y="464.3" font-size="11.2" text-anchor="middle" font-weight="bold" font-style="normal" fill="#2222ff" >Δ<tspan font-style="italic">G</tspan></text>
<text x="620.9" y="464.3" font-size="11.2" text-anchor="middle" font-weight="bold" font-style="normal" fill="#ff2222" >-TΔ<tspan font-style="italic">S</tspan></text>
<text x="653.45" y="464.3" font-size="11.2" text-anchor="middle" font-weight="bold" font-style="normal" fill="#1fbf1f" >Δ<tspan font-style="italic">H</tspan></text>
<text transform="translate(532.4,392.5) rotate(-90) scale(0.97,1)" x="0" y="0" font-size="14.0" text-anchor="middle" font-weight="bold" fill="#000" >Molar reaction energy (kJ mol<tspan font-size="9" dy="-5.3">-1</tspan><tspan dy="5.3">)</tspan></text>
<text x="8.4" y="531.5" font-size="19" text-anchor="start" font-weight="bold" font-style="normal" fill="#000" >e</text>
<path d="M42.9,627.55 C43.79,627.51 46.34,627.34 48.22,627.3 C50.1,627.25 52.33,627.08 54.18,627.3 C56.02,627.51 57.44,628.4 59.29,628.57 C61.13,628.74 63.4,628.49 65.24,628.32 C67.09,628.15 68.58,627.51 70.35,627.55 C72.12,627.6 73.97,627.89 75.88,628.57 C77.8,629.25 79.64,629.94 81.84,631.64 C84.04,633.34 86.42,635.17 89.08,638.78 C91.74,642.4 95.5,649.46 97.8,653.33 C100.11,657.2 101.42,659.8 102.91,662.01 C104.4,664.22 105.46,666.44 106.74,666.61 C108.02,666.78 109.15,665.5 110.57,663.03 C111.99,660.57 113.48,657.5 115.25,651.8 C117.03,646.1 119.26,636.06 121.21,628.83 C123.16,621.6 125.04,613.09 126.96,608.41 C128.87,603.73 130.64,602.67 132.7,600.75 C134.76,598.84 135.82,598.16 139.3,596.92 C142.77,595.69 148.34,594.33 153.56,593.35 C158.77,592.37 164.91,591.73 170.58,591.05 C176.25,590.37 182.28,589.86 187.6,589.27 C192.92,588.67 200.02,587.78 202.5,587.48" fill="none" stroke="#9a9a9a" stroke-width="1.4" stroke-linecap="round" />
<path d="M42.9,630.36 C43.79,630.15 46.34,629.38 48.22,629.08 C50.1,628.79 52.33,628.53 54.18,628.57 C56.02,628.62 57.44,629.34 59.29,629.34 C61.13,629.34 63.4,628.83 65.24,628.57 C67.09,628.32 68.58,627.77 70.35,627.81 C72.12,627.85 73.97,628.11 75.88,628.83 C77.8,629.55 79.64,630.36 81.84,632.15 C84.04,633.93 86.42,635.85 89.08,639.55 C91.74,643.25 95.5,650.36 97.8,654.35 C100.11,658.35 101.42,661.23 102.91,663.54 C104.4,665.86 105.46,668.07 106.74,668.24 C108.02,668.41 109.15,667.13 110.57,664.56 C111.99,661.99 113.48,658.69 115.25,652.82 C117.03,646.95 119.26,636.7 121.21,629.34 C123.16,621.98 125.04,613.47 126.96,608.66 C128.87,603.86 130.64,602.5 132.7,600.5 C134.76,598.5 135.82,597.9 139.3,596.67 C142.77,595.43 148.34,594.11 153.56,593.09 C158.77,592.07 164.91,591.26 170.58,590.54 C176.25,589.82 182.28,589.35 187.6,588.75 C192.92,588.16 200.02,587.27 202.5,586.97" fill="none" stroke="#111" stroke-width="1.8" stroke-linecap="round" />
<path d="M42.9,605.86 C44.32,605.94 48.29,606.79 51.41,606.37 C54.53,605.94 58.79,603.98 61.63,603.3 C64.46,602.62 65.78,602.54 68.44,602.28 C71.1,602.03 74.61,601.73 77.59,601.77 C80.57,601.82 83.86,601.82 86.31,602.54 C88.76,603.26 89.86,603.77 92.27,606.11 C94.68,608.45 98.12,613.22 100.78,616.58 C103.44,619.94 106.14,623.98 108.23,626.28 C110.32,628.57 111.63,630.53 113.34,630.36 C115.04,630.19 116.74,627.98 118.44,625.26 C120.15,622.53 121.85,617.77 123.55,614.02 C125.25,610.28 126.85,605.43 128.66,602.79 C130.47,600.16 132.63,599.31 134.4,598.2 C136.18,597.09 136.11,597.14 139.3,596.16 C142.49,595.18 148.34,593.35 153.56,592.33 C158.77,591.31 165.61,590.58 170.58,590.03 C175.55,589.48 180.16,588.84 183.35,589.01 C186.54,589.18 187.6,591.31 189.73,591.05 C191.86,590.8 193.99,588.67 196.12,587.48 C198.24,586.29 201.44,584.5 202.5,583.9" fill="none" stroke="#ff9a9a" stroke-width="1.4" stroke-linecap="round" />
<path d="M42.9,605.6 C44.32,605.56 48.29,605.81 51.41,605.35 C54.53,604.88 58.79,603.3 61.63,602.79 C64.46,602.28 65.78,602.54 68.44,602.28 C71.1,602.03 74.61,601.3 77.59,601.26 C80.57,601.22 83.86,601.3 86.31,602.03 C88.76,602.75 89.86,603.26 92.27,605.6 C94.68,607.94 98.12,612.71 100.78,616.07 C103.44,619.43 106.14,623.34 108.23,625.77 C110.32,628.19 111.63,630.62 113.34,630.62 C115.04,630.62 116.74,628.45 118.44,625.77 C120.15,623.09 121.85,618.28 123.55,614.53 C125.25,610.79 126.85,606.03 128.66,603.3 C130.47,600.58 132.63,599.39 134.4,598.2 C136.18,597.01 136.11,597.09 139.3,596.16 C142.49,595.22 148.34,593.56 153.56,592.58 C158.77,591.61 164.91,591.05 170.58,590.29 C176.25,589.52 182.28,588.71 187.6,587.99 C192.92,587.27 200.02,586.29 202.5,585.95" fill="none" stroke="#ff1515" stroke-width="1.8" stroke-linecap="round" />
<rect x="42.9" y="578.8" width="159.6" height="102.1" fill="none" stroke="#000" stroke-width="2"/>
<line x1="38.9" y1="578.8" x2="42.9" y2="578.8" stroke="#000" stroke-width="1.6" />
<text x="37.9" y="581.7" font-size="8.2" text-anchor="end" font-weight="bold" font-style="normal" fill="#000" >0</text>
<line x1="38.9" y1="604.32" x2="42.9" y2="604.32" stroke="#000" stroke-width="1.6" />
<text x="37.9" y="607.22" font-size="8.2" text-anchor="end" font-weight="bold" font-style="normal" fill="#000" >-50</text>
<line x1="38.9" y1="629.85" x2="42.9" y2="629.85" stroke="#000" stroke-width="1.6" />
<text x="37.9" y="632.75" font-size="8.2" text-anchor="end" font-weight="bold" font-style="normal" fill="#000" >-100</text>
<line x1="38.9" y1="655.38" x2="42.9" y2="655.38" stroke="#000" stroke-width="1.6" />
<text x="37.9" y="658.27" font-size="8.2" text-anchor="end" font-weight="bold" font-style="normal" fill="#000" >-150</text>
<line x1="38.9" y1="680.9" x2="42.9" y2="680.9" stroke="#000" stroke-width="1.6" />
<text x="37.9" y="683.8" font-size="8.2" text-anchor="end" font-weight="bold" font-style="normal" fill="#000" >-200</text>
<line x1="42.9" y1="680.9" x2="42.9" y2="684.9" stroke="#000" stroke-width="1.6" />
<text x="42.9" y="693.2" font-size="8.4" text-anchor="middle" font-weight="bold" font-style="normal" fill="#000" >20</text>
<line x1="74.82" y1="680.9" x2="74.82" y2="684.9" stroke="#000" stroke-width="1.6" />
<text x="74.82" y="693.2" font-size="8.4" text-anchor="middle" font-weight="bold" font-style="normal" fill="#000" >35</text>
<line x1="106.74" y1="680.9" x2="106.74" y2="684.9" stroke="#000" stroke-width="1.6" />
<text x="106.74" y="693.2" font-size="8.4" text-anchor="middle" font-weight="bold" font-style="normal" fill="#000" >50</text>
<line x1="138.66" y1="680.9" x2="138.66" y2="684.9" stroke="#000" stroke-width="1.6" />
<text x="138.66" y="693.2" font-size="8.4" text-anchor="middle" font-weight="bold" font-style="normal" fill="#000" >65</text>
<line x1="170.58" y1="680.9" x2="170.58" y2="684.9" stroke="#000" stroke-width="1.6" />
<text x="170.58" y="693.2" font-size="8.4" text-anchor="middle" font-weight="bold" font-style="normal" fill="#000" >80</text>
<line x1="202.5" y1="680.9" x2="202.5" y2="684.9" stroke="#000" stroke-width="1.6" />
<text x="202.5" y="693.2" font-size="8.4" text-anchor="middle" font-weight="bold" font-style="normal" fill="#000" >95</text>
<text x="122.5" y="704.6" font-size="8.6" text-anchor="middle" font-weight="bold" font-style="normal" fill="#000" >Temperature (°C)</text>
<text transform="translate(17.3,629.2) rotate(-90)" x="0" y="0" font-size="8.1" text-anchor="middle" font-weight="bold" fill="#000" >d(Fluorescence 330 nm)/dT (counts °C<tspan font-size="5.5" dy="-3">-1</tspan><tspan dy="3">)</tspan></text>
<text x="129.7" y="644.9" font-size="5.95" text-anchor="start" font-weight="bold" font-style="normal" fill="#333" >MITF+DMSO (replicate 1)</text>
<text x="129.7" y="655.05" font-size="5.95" text-anchor="start" font-weight="bold" font-style="normal" fill="#a8a8a8" >MITF+DMSO (replicate 2)</text>
<text x="129.7" y="665.2" font-size="5.95" text-anchor="start" font-weight="bold" font-style="normal" fill="#ff1a1a" >MITF+8 (replicate 1)</text>
<text x="129.7" y="675.35" font-size="5.95" text-anchor="start" font-weight="bold" font-style="normal" fill="#ff9d9d" >MITF+8 (replicate 2)</text>
<text x="247.2" y="530.8" font-size="19" text-anchor="start" font-weight="bold" font-style="normal" fill="#000" >f</text>
<line x1="310.39" y1="666.6" x2="373.04" y2="666.6" stroke="#666" stroke-width="1.1" stroke-dasharray="1.1,2.1"/>
<path d="M275.34,666.6 L305.08,666.6 L305.34,666.6 L305.61,666.6 L305.87,666.6 L306.14,666.6 L306.4,666.6 L306.67,666.6 L306.93,666.6 L307.2,666.6 L307.47,634.75 L307.73,615.43 L308,603.71 L308.26,596.6 L308.53,592.3 L308.79,589.68 L309.06,588.1 L309.32,587.14 L309.59,586.56 L309.85,586.21 L310.12,585.99 L310.39,585.86 L310.65,585.79 L310.92,585.74 L311.18,585.71 L311.45,585.7 L311.71,585.69 L311.98,585.69 L312.24,585.68 L312.51,585.68 L312.78,585.68 L313.04,585.69 L313.31,585.69 L313.57,585.69 L313.84,585.69 L314.1,585.69 L314.37,585.69 L314.63,585.7 L314.9,585.7 L315.16,585.7 L315.43,585.7 L315.7,585.7 L315.96,585.71 L316.23,585.71 L316.49,585.71 L316.76,585.71 L317.02,585.71 L317.29,585.72 L317.55,585.72 L317.82,585.72 L318.09,585.72 L318.35,585.72 L318.62,585.73 L318.88,585.73 L319.15,585.73 L319.41,585.73 L319.68,585.73 L319.94,585.74 L320.21,585.74 L320.47,585.74 L320.74,585.74 L321.01,585.74 L321.27,585.75 L321.54,585.75 L321.8,585.75 L322.07,585.75 L322.33,585.75 L322.6,585.76 L322.86,585.76 L323.13,585.76 L323.4,585.76 L323.66,585.76 L323.93,585.77 L324.19,585.77 L324.46,585.77 L324.72,585.77 L324.99,585.77 L325.25,585.78 L325.52,585.78 L325.78,585.78 L326.05,585.78 L326.32,585.78 L326.58,585.79 L326.85,585.79 L327.11,585.79 L327.38,585.79 L327.64,585.79 L327.91,585.8 L328.17,585.8 L328.44,585.8 L328.71,585.8 L328.97,585.8 L329.24,585.81 L329.5,585.81 L329.77,585.81 L330.03,585.81 L330.3,585.81 L330.56,585.82 L330.83,585.82 L331.09,585.82 L331.36,585.82 L331.63,585.82 L331.89,585.83 L332.16,585.83 L332.42,585.83 L332.69,585.83 L332.95,585.83 L333.22,585.84 L333.48,585.84 L333.75,585.84 L334.02,585.84 L334.28,585.84 L334.55,585.85 L334.81,585.85 L335.08,585.85 L335.34,585.85 L335.61,585.85 L335.87,585.86 L336.14,585.86 L336.4,585.86 L336.67,585.86 L336.94,585.86 L337.2,585.87 L337.47,585.87 L337.73,585.87 L338,585.87 L338.26,585.87 L338.53,585.88 L338.79,585.88 L339.06,585.88 L339.33,585.88 L339.59,585.88 L339.86,585.89 L340.12,585.89 L340.39,585.89 L340.65,585.89 L340.92,585.89 L341.18,585.9 L341.45,585.9 L341.71,585.9 L341.98,585.9 L342.25,585.9 L342.51,585.91 L342.78,585.91 L343.04,585.91 L343.31,585.91 L343.57,585.91 L343.84,585.92 L344.1,585.92 L344.37,585.92 L344.64,585.92 L344.9,585.92 L345.17,585.93 L345.43,585.93 L345.7,585.93 L345.96,585.93 L346.23,585.93 L346.49,585.94 L346.76,585.94 L347.02,585.94 L347.29,585.94 L347.56,585.94 L347.82,585.95 L348.09,585.95 L348.35,585.95 L348.62,585.95 L348.88,585.95 L349.15,585.96 L349.41,585.96 L349.68,585.96 L349.95,585.96 L350.21,585.96 L350.48,585.97 L350.74,585.97 L351.01,585.97 L351.27,585.97 L351.54,585.97 L351.8,585.98 L352.07,585.98 L352.33,585.98 L352.6,585.98 L352.87,585.98 L353.13,585.99 L353.4,585.99 L353.66,585.99 L353.93,585.99 L354.19,585.99 L354.46,586 L354.72,586 L354.99,586 L355.26,586 L355.52,586 L355.79,586.01 L356.05,586.01 L356.32,586.01 L356.58,586.01 L356.85,586.01 L357.11,586.02 L357.38,586.02 L357.64,586.02 L357.91,586.02 L358.18,586.02 L358.44,586.03 L358.71,586.03 L358.97,586.03 L359.24,586.03 L359.5,586.03 L359.77,586.04 L360.03,586.04 L360.3,586.04 L360.57,586.04 L360.83,586.04 L361.1,586.05 L361.36,586.05 L361.63,586.05 L361.89,586.05 L362.16,586.05 L362.42,586.06 L362.69,586.06 L362.95,586.06 L363.22,586.06 L363.49,586.06 L363.75,586.07 L364.02,586.07 L364.28,586.07 L364.55,586.07 L364.81,586.07 L365.08,586.08 L365.34,586.08 L365.61,586.08 L365.88,586.08 L366.14,586.08 L366.41,586.09 L366.67,586.09 L366.94,586.09 L367.2,586.09 L367.47,586.09 L367.73,586.1 L368,586.1 L368.26,586.1 L368.53,586.1 L368.8,586.1 L369.06,586.11 L369.33,586.11 L369.59,586.11 L369.86,586.11 L370.12,586.11 L370.39,586.12 L370.65,586.12 L370.92,586.12 L371.19,586.38 L371.45,587.03 L371.72,587.99 L371.98,589.23 L372.25,590.72 L372.51,592.43 L372.78,594.33 L373.04,596.41 L373.31,598.64 L373.57,601 L373.84,603.46 L374.11,605.99 L374.37,608.59 L374.64,611.23 L374.9,613.9 L375.17,616.56 L375.43,619.22 L375.7,621.85 L375.96,624.44 L376.23,626.98 L376.5,629.46 L376.76,631.87 L377.03,634.19 L377.29,636.43 L377.56,638.58 L377.82,640.64 L378.09,642.59 L378.35,644.45 L378.62,646.2 L378.88,647.86 L379.15,649.41 L379.42,650.86 L379.68,652.21 L379.95,653.48 L380.21,654.64 L380.48,655.73 L380.74,656.72 L381.01,657.64 L381.27,658.48 L381.54,659.24 L381.81,659.94 L382.07,660.58 L382.34,661.16 L382.6,661.68 L382.87,662.15 L383.13,662.57 L383.4,662.95 L383.66,663.29 L383.93,663.6 L384.19,663.87 L384.46,664.11 L384.73,664.32 L384.99,664.51 L385.26,664.67 L385.52,664.82 L385.79,664.95 L386.05,665.06 L386.32,665.16 L386.58,665.25 L386.85,665.32 L387.12,665.39 L387.38,665.45 L387.65,665.49 L387.91,665.54 L388.18,665.57 L388.44,665.61 L388.71,665.63 L388.97,665.66 L389.24,665.68 L389.5,665.7 L389.77,665.71 L390.04,665.73 L390.3,665.74 L390.57,665.75 L390.83,665.76 L391.1,665.76 L391.36,665.77 L391.63,665.78 L391.89,665.78 L392.16,665.79 L394.28,665.81 L396.41,665.83 L398.53,665.85 L400.66,665.86 L402.78,665.88 L404.9,665.9 L407.03,665.91 L409.15,665.93 L411.28,665.94 L413.4,665.96 L415.52,665.98 L417.65,665.99 L419.77,666.01 L421.9,666.02 L424.02,666.04 L426.14,666.06 L428.27,666.07 L430.39,666.09 L432.52,666.1 L434.64,666.12" fill="none" stroke="#3fdede" stroke-width="1.3" stroke-linejoin="round" />
<path d="M275.34,666.6 L305.08,666.6 L305.34,666.6 L305.61,666.6 L305.87,666.6 L306.14,666.6 L306.4,666.6 L306.67,666.6 L306.93,666.6 L307.2,666.6 L307.47,644.16 L307.73,628.47 L308,617.49 L308.26,609.8 L308.53,604.43 L308.79,600.67 L309.06,598.04 L309.32,596.2 L309.59,594.92 L309.85,594.02 L310.12,593.39 L310.39,592.96 L310.65,592.65 L310.92,592.44 L311.18,592.29 L311.45,592.19 L311.71,592.12 L311.98,592.07 L312.24,592.04 L312.51,592.02 L312.78,592.01 L313.04,592 L313.31,591.99 L313.57,591.99 L313.84,591.99 L314.1,591.99 L314.37,591.99 L314.63,592 L314.9,592 L315.16,592 L315.43,592.01 L315.7,592.01 L315.96,592.01 L316.23,592.02 L316.49,592.02 L316.76,592.02 L317.02,592.03 L317.29,592.03 L317.55,592.04 L317.82,592.04 L318.09,592.04 L318.35,592.05 L318.62,592.05 L318.88,592.06 L319.15,592.06 L319.41,592.06 L319.68,592.07 L319.94,592.07 L320.21,592.08 L320.47,592.08 L320.74,592.08 L321.01,592.09 L321.27,592.09 L321.54,592.1 L321.8,592.1 L322.07,592.1 L322.33,592.11 L322.6,592.11 L322.86,592.12 L323.13,592.12 L323.4,592.12 L323.66,592.13 L323.93,592.13 L324.19,592.14 L324.46,592.14 L324.72,592.14 L324.99,592.15 L325.25,592.15 L325.52,592.16 L325.78,592.16 L326.05,592.16 L326.32,592.17 L326.58,592.17 L326.85,592.18 L327.11,592.18 L327.38,592.18 L327.64,592.19 L327.91,592.19 L328.17,592.2 L328.44,592.2 L328.71,592.2 L328.97,592.21 L329.24,592.21 L329.5,592.22 L329.77,592.22 L330.03,592.22 L330.3,592.23 L330.56,592.23 L330.83,592.24 L331.09,592.24 L331.36,592.24 L331.63,592.25 L331.89,592.25 L332.16,592.26 L332.42,592.26 L332.69,592.26 L332.95,592.27 L333.22,592.27 L333.48,592.28 L333.75,592.28 L334.02,592.28 L334.28,592.29 L334.55,592.29 L334.81,592.3 L335.08,592.3 L335.34,592.3 L335.61,592.31 L335.87,592.31 L336.14,592.32 L336.4,592.32 L336.67,592.32 L336.94,592.33 L337.2,592.33 L337.47,592.34 L337.73,592.34 L338,592.34 L338.26,592.35 L338.53,592.35 L338.79,592.36 L339.06,592.36 L339.33,592.36 L339.59,592.37 L339.86,592.37 L340.12,592.38 L340.39,592.38 L340.65,592.38 L340.92,592.39 L341.18,592.39 L341.45,592.4 L341.71,592.4 L341.98,592.4 L342.25,592.41 L342.51,592.41 L342.78,592.42 L343.04,592.42 L343.31,592.42 L343.57,592.43 L343.84,592.43 L344.1,592.44 L344.37,592.44 L344.64,592.44 L344.9,592.45 L345.17,592.45 L345.43,592.46 L345.7,592.46 L345.96,592.46 L346.23,592.47 L346.49,592.47 L346.76,592.48 L347.02,592.48 L347.29,592.48 L347.56,592.49 L347.82,592.49 L348.09,592.5 L348.35,592.5 L348.62,592.5 L348.88,592.51 L349.15,592.51 L349.41,592.52 L349.68,592.52 L349.95,592.52 L350.21,592.53 L350.48,592.53 L350.74,592.54 L351.01,592.54 L351.27,592.54 L351.54,592.55 L351.8,592.55 L352.07,592.56 L352.33,592.56 L352.6,592.56 L352.87,592.57 L353.13,592.57 L353.4,592.58 L353.66,592.58 L353.93,592.58 L354.19,592.59 L354.46,592.59 L354.72,592.6 L354.99,592.6 L355.26,592.6 L355.52,592.61 L355.79,592.61 L356.05,592.62 L356.32,592.62 L356.58,592.62 L356.85,592.63 L357.11,592.63 L357.38,592.64 L357.64,592.64 L357.91,592.64 L358.18,592.65 L358.44,592.65 L358.71,592.66 L358.97,592.66 L359.24,592.66 L359.5,592.67 L359.77,592.67 L360.03,592.68 L360.3,592.68 L360.57,592.68 L360.83,592.69 L361.1,592.69 L361.36,592.7 L361.63,592.7 L361.89,592.7 L362.16,592.71 L362.42,592.71 L362.69,592.72 L362.95,592.72 L363.22,592.72 L363.49,592.73 L363.75,592.73 L364.02,592.74 L364.28,592.74 L364.55,592.74 L364.81,592.75 L365.08,592.75 L365.34,592.76 L365.61,592.76 L365.88,592.76 L366.14,592.77 L366.41,592.77 L366.67,592.78 L366.94,592.78 L367.2,592.78 L367.47,592.79 L367.73,592.79 L368,592.8 L368.26,592.8 L368.53,592.8 L368.8,592.81 L369.06,592.81 L369.33,592.82 L369.59,592.82 L369.86,592.82 L370.12,592.83 L370.39,592.83 L370.65,592.84 L370.92,592.84 L371.19,593.08 L371.45,593.68 L371.72,594.56 L371.98,595.7 L372.25,597.08 L372.51,598.65 L372.78,600.41 L373.04,602.33 L373.31,604.38 L373.57,606.55 L373.84,608.82 L374.11,611.16 L374.37,613.55 L374.64,615.98 L374.9,618.44 L375.17,620.9 L375.43,623.35 L375.7,625.77 L375.96,628.16 L376.23,630.5 L376.5,632.78 L376.76,635 L377.03,637.14 L377.29,639.21 L377.56,641.19 L377.82,643.08 L378.09,644.89 L378.35,646.6 L378.62,648.21 L378.88,649.74 L379.15,651.17 L379.42,652.5 L379.68,653.75 L379.95,654.92 L380.21,655.99 L380.48,656.99 L380.74,657.91 L381.01,658.75 L381.27,659.53 L381.54,660.23 L381.81,660.88 L382.07,661.46 L382.34,662 L382.6,662.48 L382.87,662.91 L383.13,663.3 L383.4,663.65 L383.66,663.96 L383.93,664.24 L384.19,664.49 L384.46,664.71 L384.73,664.91 L384.99,665.08 L385.26,665.24 L385.52,665.37 L385.79,665.49 L386.05,665.6 L386.32,665.69 L386.58,665.77 L386.85,665.84 L387.12,665.9 L387.38,665.95 L387.65,666 L387.91,666.04 L388.18,666.07 L388.44,666.1 L388.71,666.13 L388.97,666.15 L389.24,666.17 L389.5,666.18 L389.77,666.2 L390.04,666.21 L390.3,666.22 L390.57,666.23 L390.83,666.24 L391.1,666.25 L391.36,666.25 L391.63,666.26 L391.89,666.26 L392.16,666.27 L394.28,666.29 L396.41,666.31 L398.53,666.33 L400.66,666.34 L402.78,666.36 L404.9,666.38 L407.03,666.39 L409.15,666.41 L411.28,666.42 L413.4,666.44 L415.52,666.46 L417.65,666.47 L419.77,666.49 L421.9,666.5 L424.02,666.52 L426.14,666.54 L428.27,666.55 L430.39,666.57 L432.52,666.58 L434.64,666.6" fill="none" stroke="#c99a6e" stroke-width="1.3" stroke-linejoin="round" />
<path d="M275.34,666.6 L305.08,666.6 L305.34,666.6 L305.61,666.6 L305.87,666.6 L306.14,666.6 L306.4,666.6 L306.67,666.6 L306.93,666.6 L307.2,666.6 L307.47,652.13 L307.73,640.85 L308,632.08 L308.26,625.24 L308.53,619.92 L308.79,615.77 L309.06,612.54 L309.32,610.03 L309.59,608.07 L309.85,606.54 L310.12,605.36 L310.39,604.43 L310.65,603.71 L310.92,603.15 L311.18,602.72 L311.45,602.38 L311.71,602.12 L311.98,601.91 L312.24,601.75 L312.51,601.63 L312.78,601.53 L313.04,601.46 L313.31,601.4 L313.57,601.35 L313.84,601.32 L314.1,601.29 L314.37,601.27 L314.63,601.26 L314.9,601.25 L315.16,601.24 L315.43,601.23 L315.7,601.22 L315.96,601.22 L316.23,601.22 L316.49,601.22 L316.76,601.22 L317.02,601.22 L317.29,601.22 L317.55,601.22 L317.82,601.22 L318.09,601.22 L318.35,601.22 L318.62,601.22 L318.88,601.22 L319.15,601.22 L319.41,601.22 L319.68,601.22 L319.94,601.22 L320.21,601.23 L320.47,601.23 L320.74,601.23 L321.01,601.23 L321.27,601.23 L321.54,601.23 L321.8,601.23 L322.07,601.23 L322.33,601.24 L322.6,601.24 L322.86,601.24 L323.13,601.24 L323.4,601.24 L323.66,601.24 L323.93,601.24 L324.19,601.25 L324.46,601.25 L324.72,601.25 L324.99,601.25 L325.25,601.25 L325.52,601.25 L325.78,601.25 L326.05,601.25 L326.32,601.26 L326.58,601.26 L326.85,601.26 L327.11,601.26 L327.38,601.26 L327.64,601.26 L327.91,601.26 L328.17,601.27 L328.44,601.27 L328.71,601.27 L328.97,601.27 L329.24,601.27 L329.5,601.27 L329.77,601.27 L330.03,601.27 L330.3,601.28 L330.56,601.28 L330.83,601.28 L331.09,601.28 L331.36,601.28 L331.63,601.28 L331.89,601.28 L332.16,601.29 L332.42,601.29 L332.69,601.29 L332.95,601.29 L333.22,601.29 L333.48,601.29 L333.75,601.29 L334.02,601.29 L334.28,601.3 L334.55,601.3 L334.81,601.3 L335.08,601.3 L335.34,601.3 L335.61,601.3 L335.87,601.3 L336.14,601.31 L336.4,601.31 L336.67,601.31 L336.94,601.31 L337.2,601.31 L337.47,601.31 L337.73,601.31 L338,601.31 L338.26,601.32 L338.53,601.32 L338.79,601.32 L339.06,601.32 L339.33,601.32 L339.59,601.32 L339.86,601.32 L340.12,601.33 L340.39,601.33 L340.65,601.33 L340.92,601.33 L341.18,601.33 L341.45,601.33 L341.71,601.33 L341.98,601.33 L342.25,601.34 L342.51,601.34 L342.78,601.34 L343.04,601.34 L343.31,601.34 L343.57,601.34 L343.84,601.34 L344.1,601.35 L344.37,601.35 L344.64,601.35 L344.9,601.35 L345.17,601.35 L345.43,601.35 L345.7,601.35 L345.96,601.35 L346.23,601.36 L346.49,601.36 L346.76,601.36 L347.02,601.36 L347.29,601.36 L347.56,601.36 L347.82,601.36 L348.09,601.37 L348.35,601.37 L348.62,601.37 L348.88,601.37 L349.15,601.37 L349.41,601.37 L349.68,601.37 L349.95,601.37 L350.21,601.38 L350.48,601.38 L350.74,601.38 L351.01,601.38 L351.27,601.38 L351.54,601.38 L351.8,601.38 L352.07,601.39 L352.33,601.39 L352.6,601.39 L352.87,601.39 L353.13,601.39 L353.4,601.39 L353.66,601.39 L353.93,601.39 L354.19,601.4 L354.46,601.4 L354.72,601.4 L354.99,601.4 L355.26,601.4 L355.52,601.4 L355.79,601.4 L356.05,601.41 L356.32,601.41 L356.58,601.41 L356.85,601.41 L357.11,601.41 L357.38,601.41 L357.64,601.41 L357.91,601.41 L358.18,601.42 L358.44,601.42 L358.71,601.42 L358.97,601.42 L359.24,601.42 L359.5,601.42 L359.77,601.42 L360.03,601.43 L360.3,601.43 L360.57,601.43 L360.83,601.43 L361.1,601.43 L361.36,601.43 L361.63,601.43 L361.89,601.43 L362.16,601.44 L362.42,601.44 L362.69,601.44 L362.95,601.44 L363.22,601.44 L363.49,601.44 L363.75,601.44 L364.02,601.45 L364.28,601.45 L364.55,601.45 L364.81,601.45 L365.08,601.45 L365.34,601.45 L365.61,601.45 L365.88,601.45 L366.14,601.46 L366.41,601.46 L366.67,601.46 L366.94,601.46 L367.2,601.46 L367.47,601.46 L367.73,601.46 L368,601.47 L368.26,601.47 L368.53,601.47 L368.8,601.47 L369.06,601.47 L369.33,601.47 L369.59,601.47 L369.86,601.47 L370.12,601.48 L370.39,601.48 L370.65,601.48 L370.92,601.48 L371.19,601.7 L371.45,602.22 L371.72,603.01 L371.98,604.03 L372.25,605.25 L372.51,606.65 L372.78,608.21 L373.04,609.91 L373.31,611.74 L373.57,613.67 L373.84,615.68 L374.11,617.76 L374.37,619.89 L374.64,622.05 L374.9,624.23 L375.17,626.42 L375.43,628.59 L375.7,630.75 L375.96,632.87 L376.23,634.95 L376.5,636.98 L376.76,638.95 L377.03,640.86 L377.29,642.69 L377.56,644.45 L377.82,646.13 L378.09,647.74 L378.35,649.26 L378.62,650.69 L378.88,652.05 L379.15,653.32 L379.42,654.51 L379.68,655.62 L379.95,656.65 L380.21,657.61 L380.48,658.49 L380.74,659.31 L381.01,660.06 L381.27,660.75 L381.54,661.38 L381.81,661.95 L382.07,662.47 L382.34,662.94 L382.6,663.37 L382.87,663.76 L383.13,664.1 L383.4,664.42 L383.66,664.69 L383.93,664.94 L384.19,665.17 L384.46,665.36 L384.73,665.54 L384.99,665.69 L385.26,665.83 L385.52,665.95 L385.79,666.05 L386.05,666.15 L386.32,666.23 L386.58,666.3 L386.85,666.36 L387.12,666.42 L387.38,666.46 L387.65,666.5 L387.91,666.54 L388.18,666.57 L388.44,666.6 L388.71,666.62 L388.97,666.64 L389.24,666.66 L389.5,666.67 L389.77,666.69 L390.04,666.7 L390.3,666.71 L390.57,666.72 L390.83,666.72 L391.1,666.73 L391.36,666.74 L391.63,666.74 L391.89,666.75 L392.16,666.75 L394.28,666.77 L396.41,666.79 L398.53,666.81 L400.66,666.82 L402.78,666.84 L404.9,666.86 L407.03,666.87 L409.15,666.89 L411.28,666.9 L413.4,666.92 L415.52,666.94 L417.65,666.95 L419.77,666.97 L421.9,666.98 L424.02,667 L426.14,667.02 L428.27,667.03 L430.39,667.05 L432.52,667.06 L434.64,667.08" fill="none" stroke="#8b1c1c" stroke-width="1.3" stroke-linejoin="round" />
<path d="M275.34,666.6 L305.08,666.6 L305.34,666.6 L305.61,666.6 L305.87,666.6 L306.14,666.6 L306.4,666.6 L306.67,666.6 L306.93,666.6 L307.2,666.6 L307.47,659.21 L307.73,652.82 L308,647.31 L308.26,642.56 L308.53,638.45 L308.79,634.91 L309.06,631.85 L309.32,629.21 L309.59,626.93 L309.85,624.96 L310.12,623.26 L310.39,621.8 L310.65,620.53 L310.92,619.44 L311.18,618.5 L311.45,617.68 L311.71,616.98 L311.98,616.38 L312.24,615.85 L312.51,615.4 L312.78,615.01 L313.04,614.68 L313.31,614.39 L313.57,614.14 L313.84,613.92 L314.1,613.74 L314.37,613.58 L314.63,613.44 L314.9,613.32 L315.16,613.22 L315.43,613.13 L315.7,613.05 L315.96,612.99 L316.23,612.93 L316.49,612.88 L316.76,612.84 L317.02,612.8 L317.29,612.77 L317.55,612.75 L317.82,612.72 L318.09,612.7 L318.35,612.69 L318.62,612.67 L318.88,612.66 L319.15,612.65 L319.41,612.64 L319.68,612.64 L319.94,612.63 L320.21,612.63 L320.47,612.62 L320.74,612.62 L321.01,612.62 L321.27,612.61 L321.54,612.61 L321.8,612.61 L322.07,612.61 L322.33,612.61 L322.6,612.61 L322.86,612.61 L323.13,612.61 L323.4,612.61 L323.66,612.61 L323.93,612.61 L324.19,612.61 L324.46,612.61 L324.72,612.61 L324.99,612.61 L325.25,612.61 L325.52,612.61 L325.78,612.62 L326.05,612.62 L326.32,612.62 L326.58,612.62 L326.85,612.62 L327.11,612.62 L327.38,612.62 L327.64,612.62 L327.91,612.62 L328.17,612.63 L328.44,612.63 L328.71,612.63 L328.97,612.63 L329.24,612.63 L329.5,612.63 L329.77,612.63 L330.03,612.63 L330.3,612.64 L330.56,612.64 L330.83,612.64 L331.09,612.64 L331.36,612.64 L331.63,612.64 L331.89,612.64 L332.16,612.65 L332.42,612.65 L332.69,612.65 L332.95,612.65 L333.22,612.65 L333.48,612.65 L333.75,612.65 L334.02,612.65 L334.28,612.66 L334.55,612.66 L334.81,612.66 L335.08,612.66 L335.34,612.66 L335.61,612.66 L335.87,612.66 L336.14,612.67 L336.4,612.67 L336.67,612.67 L336.94,612.67 L337.2,612.67 L337.47,612.67 L337.73,612.67 L338,612.67 L338.26,612.68 L338.53,612.68 L338.79,612.68 L339.06,612.68 L339.33,612.68 L339.59,612.68 L339.86,612.68 L340.12,612.69 L340.39,612.69 L340.65,612.69 L340.92,612.69 L341.18,612.69 L341.45,612.69 L341.71,612.69 L341.98,612.69 L342.25,612.7 L342.51,612.7 L342.78,612.7 L343.04,612.7 L343.31,612.7 L343.57,612.7 L343.84,612.7 L344.1,612.71 L344.37,612.71 L344.64,612.71 L344.9,612.71 L345.17,612.71 L345.43,612.71 L345.7,612.71 L345.96,612.71 L346.23,612.72 L346.49,612.72 L346.76,612.72 L347.02,612.72 L347.29,612.72 L347.56,612.72 L347.82,612.72 L348.09,612.73 L348.35,612.73 L348.62,612.73 L348.88,612.73 L349.15,612.73 L349.41,612.73 L349.68,612.73 L349.95,612.73 L350.21,612.74 L350.48,612.74 L350.74,612.74 L351.01,612.74 L351.27,612.74 L351.54,612.74 L351.8,612.74 L352.07,612.75 L352.33,612.75 L352.6,612.75 L352.87,612.75 L353.13,612.75 L353.4,612.75 L353.66,612.75 L353.93,612.75 L354.19,612.76 L354.46,612.76 L354.72,612.76 L354.99,612.76 L355.26,612.76 L355.52,612.76 L355.79,612.76 L356.05,612.77 L356.32,612.77 L356.58,612.77 L356.85,612.77 L357.11,612.77 L357.38,612.77 L357.64,612.77 L357.91,612.77 L358.18,612.78 L358.44,612.78 L358.71,612.78 L358.97,612.78 L359.24,612.78 L359.5,612.78 L359.77,612.78 L360.03,612.79 L360.3,612.79 L360.57,612.79 L360.83,612.79 L361.1,612.79 L361.36,612.79 L361.63,612.79 L361.89,612.79 L362.16,612.8 L362.42,612.8 L362.69,612.8 L362.95,612.8 L363.22,612.8 L363.49,612.8 L363.75,612.8 L364.02,612.81 L364.28,612.81 L364.55,612.81 L364.81,612.81 L365.08,612.81 L365.34,612.81 L365.61,612.81 L365.88,612.81 L366.14,612.82 L366.41,612.82 L366.67,612.82 L366.94,612.82 L367.2,612.82 L367.47,612.82 L367.73,612.82 L368,612.83 L368.26,612.83 L368.53,612.83 L368.8,612.83 L369.06,612.83 L369.33,612.83 L369.59,612.83 L369.86,612.83 L370.12,612.84 L370.39,612.84 L370.65,612.84 L370.92,612.84 L371.19,613.02 L371.45,613.46 L371.72,614.12 L371.98,614.96 L372.25,615.98 L372.51,617.15 L372.78,618.45 L373.04,619.87 L373.31,621.39 L373.57,622.99 L373.84,624.67 L374.11,626.4 L374.37,628.18 L374.64,629.98 L374.9,631.8 L375.17,633.62 L375.43,635.43 L375.7,637.22 L375.96,638.99 L376.23,640.72 L376.5,642.42 L376.76,644.06 L377.03,645.65 L377.29,647.17 L377.56,648.64 L377.82,650.04 L378.09,651.38 L378.35,652.64 L378.62,653.84 L378.88,654.97 L379.15,656.03 L379.42,657.02 L379.68,657.94 L379.95,658.8 L380.21,659.6 L380.48,660.34 L380.74,661.02 L381.01,661.65 L381.27,662.22 L381.54,662.74 L381.81,663.22 L382.07,663.66 L382.34,664.05 L382.6,664.41 L382.87,664.73 L383.13,665.02 L383.4,665.28 L383.66,665.51 L383.93,665.72 L384.19,665.9 L384.46,666.07 L384.73,666.21 L384.99,666.34 L385.26,666.46 L385.52,666.56 L385.79,666.64 L386.05,666.72 L386.32,666.79 L386.58,666.85 L386.85,666.9 L387.12,666.95 L387.38,666.99 L387.65,667.02 L387.91,667.05 L388.18,667.08 L388.44,667.1 L388.71,667.12 L388.97,667.14 L389.24,667.15 L389.5,667.16 L389.77,667.17 L390.04,667.18 L390.3,667.19 L390.57,667.2 L390.83,667.21 L391.1,667.21 L391.36,667.22 L391.63,667.22 L391.89,667.23 L392.16,667.23 L394.28,667.25 L396.41,667.27 L398.53,667.29 L400.66,667.3 L402.78,667.32 L404.9,667.34 L407.03,667.35 L409.15,667.37 L411.28,667.38 L413.4,667.4 L415.52,667.42 L417.65,667.43 L419.77,667.45 L421.9,667.46 L424.02,667.48 L426.14,667.5 L428.27,667.51 L430.39,667.53 L432.52,667.54 L434.64,667.56" fill="none" stroke="#ff1f1f" stroke-width="1.3" stroke-linejoin="round" />
<path d="M275.34,666.6 L305.08,666.6 L305.34,666.6 L305.61,666.6 L305.87,666.6 L306.14,666.6 L306.4,666.6 L306.67,666.6 L306.93,666.6 L307.2,666.6 L307.47,662.82 L307.73,659.4 L308,656.3 L308.26,653.5 L308.53,650.97 L308.79,648.67 L309.06,646.6 L309.32,644.72 L309.59,643.02 L309.85,641.48 L310.12,640.08 L310.39,638.82 L310.65,637.68 L310.92,636.65 L311.18,635.71 L311.45,634.87 L311.71,634.1 L311.98,633.41 L312.24,632.78 L312.51,632.21 L312.78,631.7 L313.04,631.23 L313.31,630.81 L313.57,630.42 L313.84,630.08 L314.1,629.76 L314.37,629.48 L314.63,629.22 L314.9,628.99 L315.16,628.78 L315.43,628.58 L315.7,628.41 L315.96,628.25 L316.23,628.11 L316.49,627.98 L316.76,627.86 L317.02,627.75 L317.29,627.66 L317.55,627.57 L317.82,627.49 L318.09,627.41 L318.35,627.35 L318.62,627.29 L318.88,627.23 L319.15,627.18 L319.41,627.13 L319.68,627.09 L319.94,627.05 L320.21,627.02 L320.47,626.99 L320.74,626.96 L321.01,626.93 L321.27,626.91 L321.54,626.88 L321.8,626.86 L322.07,626.84 L322.33,626.82 L322.6,626.81 L322.86,626.79 L323.13,626.78 L323.4,626.76 L323.66,626.75 L323.93,626.74 L324.19,626.73 L324.46,626.72 L324.72,626.71 L324.99,626.7 L325.25,626.69 L325.52,626.68 L325.78,626.68 L326.05,626.67 L326.32,626.66 L326.58,626.65 L326.85,626.65 L327.11,626.64 L327.38,626.64 L327.64,626.63 L327.91,626.62 L328.17,626.62 L328.44,626.61 L328.71,626.61 L328.97,626.6 L329.24,626.6 L329.5,626.59 L329.77,626.59 L330.03,626.58 L330.3,626.58 L330.56,626.57 L330.83,626.57 L331.09,626.56 L331.36,626.56 L331.63,626.56 L331.89,626.55 L332.16,626.55 L332.42,626.54 L332.69,626.54 L332.95,626.53 L333.22,626.53 L333.48,626.53 L333.75,626.52 L334.02,626.52 L334.28,626.51 L334.55,626.51 L334.81,626.51 L335.08,626.5 L335.34,626.5 L335.61,626.49 L335.87,626.49 L336.14,626.48 L336.4,626.48 L336.67,626.48 L336.94,626.47 L337.2,626.47 L337.47,626.46 L337.73,626.46 L338,626.46 L338.26,626.45 L338.53,626.45 L338.79,626.44 L339.06,626.44 L339.33,626.44 L339.59,626.43 L339.86,626.43 L340.12,626.42 L340.39,626.42 L340.65,626.42 L340.92,626.41 L341.18,626.41 L341.45,626.4 L341.71,626.4 L341.98,626.4 L342.25,626.39 L342.51,626.39 L342.78,626.38 L343.04,626.38 L343.31,626.38 L343.57,626.37 L343.84,626.37 L344.1,626.36 L344.37,626.36 L344.64,626.36 L344.9,626.35 L345.17,626.35 L345.43,626.34 L345.7,626.34 L345.96,626.34 L346.23,626.33 L346.49,626.33 L346.76,626.32 L347.02,626.32 L347.29,626.32 L347.56,626.31 L347.82,626.31 L348.09,626.3 L348.35,626.3 L348.62,626.3 L348.88,626.29 L349.15,626.29 L349.41,626.28 L349.68,626.28 L349.95,626.28 L350.21,626.27 L350.48,626.27 L350.74,626.26 L351.01,626.26 L351.27,626.26 L351.54,626.25 L351.8,626.25 L352.07,626.24 L352.33,626.24 L352.6,626.24 L352.87,626.23 L353.13,626.23 L353.4,626.22 L353.66,626.22 L353.93,626.22 L354.19,626.21 L354.46,626.21 L354.72,626.2 L354.99,626.2 L355.26,626.2 L355.52,626.19 L355.79,626.19 L356.05,626.18 L356.32,626.18 L356.58,626.18 L356.85,626.17 L357.11,626.17 L357.38,626.16 L357.64,626.16 L357.91,626.16 L358.18,626.15 L358.44,626.15 L358.71,626.14 L358.97,626.14 L359.24,626.14 L359.5,626.13 L359.77,626.13 L360.03,626.12 L360.3,626.12 L360.57,626.12 L360.83,626.11 L361.1,626.11 L361.36,626.1 L361.63,626.1 L361.89,626.1 L362.16,626.09 L362.42,626.09 L362.69,626.08 L362.95,626.08 L363.22,626.08 L363.49,626.07 L363.75,626.07 L364.02,626.06 L364.28,626.06 L364.55,626.06 L364.81,626.05 L365.08,626.05 L365.34,626.04 L365.61,626.04 L365.88,626.04 L366.14,626.03 L366.41,626.03 L366.67,626.02 L366.94,626.02 L367.2,626.02 L367.47,626.01 L367.73,626.01 L368,626 L368.26,626 L368.53,626 L368.8,625.99 L369.06,625.99 L369.33,625.98 L369.59,625.98 L369.86,625.98 L370.12,625.97 L370.39,625.97 L370.65,625.96 L370.92,625.96 L371.19,626.09 L371.45,626.42 L371.72,626.9 L371.98,627.52 L372.25,628.27 L372.51,629.13 L372.78,630.08 L373.04,631.13 L373.31,632.24 L373.57,633.42 L373.84,634.66 L374.11,635.93 L374.37,637.23 L374.64,638.56 L374.9,639.89 L375.17,641.23 L375.43,642.56 L375.7,643.88 L375.96,645.18 L376.23,646.45 L376.5,647.69 L376.76,648.9 L377.03,650.07 L377.29,651.19 L377.56,652.27 L377.82,653.3 L378.09,654.28 L378.35,655.21 L378.62,656.09 L378.88,656.92 L379.15,657.7 L379.42,658.43 L379.68,659.11 L379.95,659.74 L380.21,660.33 L380.48,660.87 L380.74,661.37 L381.01,661.83 L381.27,662.25 L381.54,662.64 L381.81,662.99 L382.07,663.31 L382.34,663.6 L382.6,663.86 L382.87,664.1 L383.13,664.31 L383.4,664.5 L383.66,664.67 L383.93,664.82 L384.19,664.96 L384.46,665.08 L384.73,665.19 L384.99,665.29 L385.26,665.37 L385.52,665.44 L385.79,665.51 L386.05,665.57 L386.32,665.62 L386.58,665.66 L386.85,665.7 L387.12,665.73 L387.38,665.76 L387.65,665.79 L387.91,665.81 L388.18,665.83 L388.44,665.85 L388.71,665.86 L388.97,665.88 L389.24,665.89 L389.5,665.9 L389.77,665.91 L390.04,665.91 L390.3,665.92 L390.57,665.93 L390.83,665.93 L391.1,665.94 L391.36,665.94 L391.63,665.95 L391.89,665.95 L392.16,665.95 L394.28,665.97 L396.41,665.99 L398.53,666.01 L400.66,666.02 L402.78,666.04 L404.9,666.06 L407.03,666.07 L409.15,666.09 L411.28,666.1 L413.4,666.12 L415.52,666.14 L417.65,666.15 L419.77,666.17 L421.9,666.18 L424.02,666.2 L426.14,666.22 L428.27,666.23 L430.39,666.25 L432.52,666.26 L434.64,666.28" fill="none" stroke="#e0dc10" stroke-width="1.3" stroke-linejoin="round" />
<path d="M275.34,666.6 L305.08,666.6 L305.34,666.6 L305.61,666.6 L305.87,666.6 L306.14,666.6 L306.4,666.6 L306.67,666.6 L306.93,666.6 L307.2,666.6 L307.47,664.85 L307.73,663.21 L308,661.69 L308.26,660.27 L308.53,658.96 L308.79,657.73 L309.06,656.59 L309.32,655.52 L309.59,654.53 L309.85,653.61 L310.12,652.75 L310.39,651.95 L310.65,651.2 L310.92,650.51 L311.18,649.86 L311.45,649.26 L311.71,648.7 L311.98,648.18 L312.24,647.7 L312.51,647.24 L312.78,646.82 L313.04,646.43 L313.31,646.07 L313.57,645.73 L313.84,645.41 L314.1,645.11 L314.37,644.84 L314.63,644.58 L314.9,644.35 L315.16,644.12 L315.43,643.92 L315.7,643.73 L315.96,643.55 L316.23,643.38 L316.49,643.22 L316.76,643.08 L317.02,642.95 L317.29,642.82 L317.55,642.7 L317.82,642.59 L318.09,642.49 L318.35,642.4 L318.62,642.31 L318.88,642.23 L319.15,642.15 L319.41,642.08 L319.68,642.01 L319.94,641.95 L320.21,641.9 L320.47,641.84 L320.74,641.79 L321.01,641.75 L321.27,641.7 L321.54,641.66 L321.8,641.62 L322.07,641.59 L322.33,641.56 L322.6,641.53 L322.86,641.5 L323.13,641.47 L323.4,641.45 L323.66,641.42 L323.93,641.4 L324.19,641.38 L324.46,641.36 L324.72,641.34 L324.99,641.33 L325.25,641.31 L325.52,641.3 L325.78,641.28 L326.05,641.27 L326.32,641.26 L326.58,641.25 L326.85,641.24 L327.11,641.23 L327.38,641.22 L327.64,641.21 L327.91,641.2 L328.17,641.2 L328.44,641.19 L328.71,641.18 L328.97,641.18 L329.24,641.17 L329.5,641.17 L329.77,641.16 L330.03,641.16 L330.3,641.15 L330.56,641.15 L330.83,641.14 L331.09,641.14 L331.36,641.14 L331.63,641.13 L331.89,641.13 L332.16,641.13 L332.42,641.13 L332.69,641.12 L332.95,641.12 L333.22,641.12 L333.48,641.12 L333.75,641.11 L334.02,641.11 L334.28,641.11 L334.55,641.11 L334.81,641.11 L335.08,641.1 L335.34,641.1 L335.61,641.1 L335.87,641.1 L336.14,641.1 L336.4,641.1 L336.67,641.1 L336.94,641.09 L337.2,641.09 L337.47,641.09 L337.73,641.09 L338,641.09 L338.26,641.09 L338.53,641.09 L338.79,641.09 L339.06,641.08 L339.33,641.08 L339.59,641.08 L339.86,641.08 L340.12,641.08 L340.39,641.08 L340.65,641.08 L340.92,641.08 L341.18,641.08 L341.45,641.08 L341.71,641.08 L341.98,641.07 L342.25,641.07 L342.51,641.07 L342.78,641.07 L343.04,641.07 L343.31,641.07 L343.57,641.07 L343.84,641.07 L344.1,641.07 L344.37,641.07 L344.64,641.07 L344.9,641.07 L345.17,641.07 L345.43,641.06 L345.7,641.06 L345.96,641.06 L346.23,641.06 L346.49,641.06 L346.76,641.06 L347.02,641.06 L347.29,641.06 L347.56,641.06 L347.82,641.06 L348.09,641.06 L348.35,641.06 L348.62,641.06 L348.88,641.06 L349.15,641.05 L349.41,641.05 L349.68,641.05 L349.95,641.05 L350.21,641.05 L350.48,641.05 L350.74,641.05 L351.01,641.05 L351.27,641.05 L351.54,641.05 L351.8,641.05 L352.07,641.05 L352.33,641.05 L352.6,641.05 L352.87,641.05 L353.13,641.04 L353.4,641.04 L353.66,641.04 L353.93,641.04 L354.19,641.04 L354.46,641.04 L354.72,641.04 L354.99,641.04 L355.26,641.04 L355.52,641.04 L355.79,641.04 L356.05,641.04 L356.32,641.04 L356.58,641.04 L356.85,641.04 L357.11,641.03 L357.38,641.03 L357.64,641.03 L357.91,641.03 L358.18,641.03 L358.44,641.03 L358.71,641.03 L358.97,641.03 L359.24,641.03 L359.5,641.03 L359.77,641.03 L360.03,641.03 L360.3,641.03 L360.57,641.03 L360.83,641.03 L361.1,641.02 L361.36,641.02 L361.63,641.02 L361.89,641.02 L362.16,641.02 L362.42,641.02 L362.69,641.02 L362.95,641.02 L363.22,641.02 L363.49,641.02 L363.75,641.02 L364.02,641.02 L364.28,641.02 L364.55,641.02 L364.81,641.02 L365.08,641.01 L365.34,641.01 L365.61,641.01 L365.88,641.01 L366.14,641.01 L366.41,641.01 L366.67,641.01 L366.94,641.01 L367.2,641.01 L367.47,641.01 L367.73,641.01 L368,641.01 L368.26,641.01 L368.53,641.01 L368.8,641.01 L369.06,641 L369.33,641 L369.59,641 L369.86,641 L370.12,641 L370.39,641 L370.65,641 L370.92,641 L371.19,641.09 L371.45,641.31 L371.72,641.63 L371.98,642.04 L372.25,642.54 L372.51,643.11 L372.78,643.75 L373.04,644.45 L373.31,645.19 L373.57,645.98 L373.84,646.8 L374.11,647.65 L374.37,648.52 L374.64,649.41 L374.9,650.3 L375.17,651.19 L375.43,652.08 L375.7,652.96 L375.96,653.83 L376.23,654.67 L376.5,655.5 L376.76,656.31 L377.03,657.09 L377.29,657.84 L377.56,658.56 L377.82,659.24 L378.09,659.9 L378.35,660.52 L378.62,661.11 L378.88,661.66 L379.15,662.18 L379.42,662.67 L379.68,663.12 L379.95,663.54 L380.21,663.93 L380.48,664.3 L380.74,664.63 L381.01,664.94 L381.27,665.22 L381.54,665.48 L381.81,665.71 L382.07,665.93 L382.34,666.12 L382.6,666.3 L382.87,666.45 L383.13,666.6 L383.4,666.72 L383.66,666.84 L383.93,666.94 L384.19,667.03 L384.46,667.12 L384.73,667.19 L384.99,667.25 L385.26,667.31 L385.52,667.36 L385.79,667.4 L386.05,667.44 L386.32,667.48 L386.58,667.51 L386.85,667.53 L387.12,667.56 L387.38,667.58 L387.65,667.6 L387.91,667.61 L388.18,667.62 L388.44,667.64 L388.71,667.65 L388.97,667.66 L389.24,667.67 L389.5,667.67 L389.77,667.68 L390.04,667.68 L390.3,667.69 L390.57,667.69 L390.83,667.7 L391.1,667.7 L391.36,667.71 L391.63,667.71 L391.89,667.71 L392.16,667.72 L394.28,667.74 L396.41,667.75 L398.53,667.77 L400.66,667.78 L402.78,667.8 L404.9,667.82 L407.03,667.83 L409.15,667.85 L411.28,667.86 L413.4,667.88 L415.52,667.9 L417.65,667.91 L419.77,667.93 L421.9,667.94 L424.02,667.96 L426.14,667.98 L428.27,667.99 L430.39,668.01 L432.52,668.02 L434.64,668.04" fill="none" stroke="#a040e0" stroke-width="1.3" stroke-linejoin="round" />
<path d="M275.34,666.6 L305.08,666.6 L305.34,666.6 L305.61,666.6 L305.87,666.6 L306.14,666.6 L306.4,666.6 L306.67,666.6 L306.93,666.6 L307.2,666.6 L307.47,665.74 L307.73,664.92 L308,664.16 L308.26,663.44 L308.53,662.76 L308.79,662.12 L309.06,661.51 L309.32,660.94 L309.59,660.4 L309.85,659.9 L310.12,659.42 L310.39,658.97 L310.65,658.55 L310.92,658.15 L311.18,657.77 L311.45,657.42 L311.71,657.08 L311.98,656.77 L312.24,656.47 L312.51,656.19 L312.78,655.93 L313.04,655.68 L313.31,655.44 L313.57,655.22 L313.84,655.01 L314.1,654.82 L314.37,654.63 L314.63,654.46 L314.9,654.29 L315.16,654.14 L315.43,653.99 L315.7,653.85 L315.96,653.72 L316.23,653.6 L316.49,653.48 L316.76,653.37 L317.02,653.27 L317.29,653.17 L317.55,653.08 L317.82,652.99 L318.09,652.91 L318.35,652.83 L318.62,652.76 L318.88,652.69 L319.15,652.62 L319.41,652.56 L319.68,652.5 L319.94,652.45 L320.21,652.39 L320.47,652.35 L320.74,652.3 L321.01,652.25 L321.27,652.21 L321.54,652.17 L321.8,652.14 L322.07,652.1 L322.33,652.07 L322.6,652.04 L322.86,652.01 L323.13,651.98 L323.4,651.95 L323.66,651.93 L323.93,651.9 L324.19,651.88 L324.46,651.86 L324.72,651.84 L324.99,651.82 L325.25,651.8 L325.52,651.78 L325.78,651.76 L326.05,651.75 L326.32,651.73 L326.58,651.72 L326.85,651.7 L327.11,651.69 L327.38,651.68 L327.64,651.67 L327.91,651.66 L328.17,651.64 L328.44,651.63 L328.71,651.62 L328.97,651.61 L329.24,651.61 L329.5,651.6 L329.77,651.59 L330.03,651.58 L330.3,651.57 L330.56,651.56 L330.83,651.56 L331.09,651.55 L331.36,651.54 L331.63,651.54 L331.89,651.53 L332.16,651.52 L332.42,651.52 L332.69,651.51 L332.95,651.51 L333.22,651.5 L333.48,651.5 L333.75,651.49 L334.02,651.49 L334.28,651.48 L334.55,651.48 L334.81,651.47 L335.08,651.47 L335.34,651.46 L335.61,651.46 L335.87,651.46 L336.14,651.45 L336.4,651.45 L336.67,651.44 L336.94,651.44 L337.2,651.44 L337.47,651.43 L337.73,651.43 L338,651.43 L338.26,651.42 L338.53,651.42 L338.79,651.42 L339.06,651.41 L339.33,651.41 L339.59,651.41 L339.86,651.4 L340.12,651.4 L340.39,651.4 L340.65,651.39 L340.92,651.39 L341.18,651.39 L341.45,651.38 L341.71,651.38 L341.98,651.38 L342.25,651.37 L342.51,651.37 L342.78,651.37 L343.04,651.36 L343.31,651.36 L343.57,651.36 L343.84,651.36 L344.1,651.35 L344.37,651.35 L344.64,651.35 L344.9,651.34 L345.17,651.34 L345.43,651.34 L345.7,651.34 L345.96,651.33 L346.23,651.33 L346.49,651.33 L346.76,651.32 L347.02,651.32 L347.29,651.32 L347.56,651.32 L347.82,651.31 L348.09,651.31 L348.35,651.31 L348.62,651.31 L348.88,651.3 L349.15,651.3 L349.41,651.3 L349.68,651.29 L349.95,651.29 L350.21,651.29 L350.48,651.29 L350.74,651.28 L351.01,651.28 L351.27,651.28 L351.54,651.28 L351.8,651.27 L352.07,651.27 L352.33,651.27 L352.6,651.26 L352.87,651.26 L353.13,651.26 L353.4,651.26 L353.66,651.25 L353.93,651.25 L354.19,651.25 L354.46,651.25 L354.72,651.24 L354.99,651.24 L355.26,651.24 L355.52,651.23 L355.79,651.23 L356.05,651.23 L356.32,651.23 L356.58,651.22 L356.85,651.22 L357.11,651.22 L357.38,651.22 L357.64,651.21 L357.91,651.21 L358.18,651.21 L358.44,651.21 L358.71,651.2 L358.97,651.2 L359.24,651.2 L359.5,651.19 L359.77,651.19 L360.03,651.19 L360.3,651.19 L360.57,651.18 L360.83,651.18 L361.1,651.18 L361.36,651.18 L361.63,651.17 L361.89,651.17 L362.16,651.17 L362.42,651.17 L362.69,651.16 L362.95,651.16 L363.22,651.16 L363.49,651.15 L363.75,651.15 L364.02,651.15 L364.28,651.15 L364.55,651.14 L364.81,651.14 L365.08,651.14 L365.34,651.14 L365.61,651.13 L365.88,651.13 L366.14,651.13 L366.41,651.13 L366.67,651.12 L366.94,651.12 L367.2,651.12 L367.47,651.11 L367.73,651.11 L368,651.11 L368.26,651.11 L368.53,651.1 L368.8,651.1 L369.06,651.1 L369.33,651.1 L369.59,651.09 L369.86,651.09 L370.12,651.09 L370.39,651.09 L370.65,651.08 L370.92,651.08 L371.19,651.14 L371.45,651.28 L371.72,651.48 L371.98,651.75 L372.25,652.07 L372.51,652.43 L372.78,652.84 L373.04,653.29 L373.31,653.77 L373.57,654.27 L373.84,654.79 L374.11,655.34 L374.37,655.89 L374.64,656.46 L374.9,657.03 L375.17,657.6 L375.43,658.17 L375.7,658.73 L375.96,659.28 L376.23,659.83 L376.5,660.36 L376.76,660.87 L377.03,661.37 L377.29,661.85 L377.56,662.31 L377.82,662.75 L378.09,663.17 L378.35,663.56 L378.62,663.94 L378.88,664.29 L379.15,664.63 L379.42,664.94 L379.68,665.23 L379.95,665.5 L380.21,665.75 L380.48,665.98 L380.74,666.2 L381.01,666.39 L381.27,666.57 L381.54,666.74 L381.81,666.89 L382.07,667.03 L382.34,667.15 L382.6,667.26 L382.87,667.37 L383.13,667.46 L383.4,667.54 L383.66,667.61 L383.93,667.68 L384.19,667.74 L384.46,667.79 L384.73,667.84 L384.99,667.88 L385.26,667.92 L385.52,667.95 L385.79,667.98 L386.05,668.01 L386.32,668.03 L386.58,668.05 L386.85,668.07 L387.12,668.08 L387.38,668.1 L387.65,668.11 L387.91,668.12 L388.18,668.13 L388.44,668.14 L388.71,668.14 L388.97,668.15 L389.24,668.16 L389.5,668.16 L389.77,668.17 L390.04,668.17 L390.3,668.18 L390.57,668.18 L390.83,668.18 L391.1,668.19 L391.36,668.19 L391.63,668.19 L391.89,668.19 L392.16,668.2 L394.28,668.22 L396.41,668.23 L398.53,668.25 L400.66,668.26 L402.78,668.28 L404.9,668.3 L407.03,668.31 L409.15,668.33 L411.28,668.34 L413.4,668.36 L415.52,668.38 L417.65,668.39 L419.77,668.41 L421.9,668.42 L424.02,668.44 L426.14,668.46 L428.27,668.47 L430.39,668.49 L432.52,668.5 L434.64,668.52" fill="none" stroke="#4848ff" stroke-width="1.3" stroke-linejoin="round" />
<path d="M275.34,666.6 L305.08,666.6 L305.34,666.6 L305.61,666.6 L305.87,666.6 L306.14,666.6 L306.4,666.6 L306.67,666.6 L306.93,666.6 L307.2,666.6 L307.47,666.24 L307.73,665.89 L308,665.56 L308.26,665.25 L308.53,664.95 L308.79,664.66 L309.06,664.38 L309.32,664.12 L309.59,663.87 L309.85,663.62 L310.12,663.39 L310.39,663.17 L310.65,662.96 L310.92,662.76 L311.18,662.57 L311.45,662.38 L311.71,662.2 L311.98,662.03 L312.24,661.87 L312.51,661.72 L312.78,661.57 L313.04,661.43 L313.31,661.29 L313.57,661.16 L313.84,661.03 L314.1,660.92 L314.37,660.8 L314.63,660.69 L314.9,660.59 L315.16,660.49 L315.43,660.39 L315.7,660.3 L315.96,660.21 L316.23,660.12 L316.49,660.04 L316.76,659.97 L317.02,659.89 L317.29,659.82 L317.55,659.75 L317.82,659.69 L318.09,659.62 L318.35,659.56 L318.62,659.5 L318.88,659.45 L319.15,659.39 L319.41,659.34 L319.68,659.29 L319.94,659.25 L320.21,659.2 L320.47,659.16 L320.74,659.12 L321.01,659.08 L321.27,659.04 L321.54,659 L321.8,658.96 L322.07,658.93 L322.33,658.9 L322.6,658.86 L322.86,658.83 L323.13,658.8 L323.4,658.77 L323.66,658.75 L323.93,658.72 L324.19,658.69 L324.46,658.67 L324.72,658.65 L324.99,658.62 L325.25,658.6 L325.52,658.58 L325.78,658.56 L326.05,658.54 L326.32,658.52 L326.58,658.5 L326.85,658.48 L327.11,658.46 L327.38,658.45 L327.64,658.43 L327.91,658.41 L328.17,658.4 L328.44,658.38 L328.71,658.37 L328.97,658.36 L329.24,658.34 L329.5,658.33 L329.77,658.31 L330.03,658.3 L330.3,658.29 L330.56,658.28 L330.83,658.27 L331.09,658.25 L331.36,658.24 L331.63,658.23 L331.89,658.22 L332.16,658.21 L332.42,658.2 L332.69,658.19 L332.95,658.18 L333.22,658.17 L333.48,658.16 L333.75,658.15 L334.02,658.14 L334.28,658.13 L334.55,658.12 L334.81,658.12 L335.08,658.11 L335.34,658.1 L335.61,658.09 L335.87,658.08 L336.14,658.08 L336.4,658.07 L336.67,658.06 L336.94,658.05 L337.2,658.04 L337.47,658.04 L337.73,658.03 L338,658.02 L338.26,658.02 L338.53,658.01 L338.79,658 L339.06,657.99 L339.33,657.99 L339.59,657.98 L339.86,657.97 L340.12,657.97 L340.39,657.96 L340.65,657.95 L340.92,657.95 L341.18,657.94 L341.45,657.93 L341.71,657.93 L341.98,657.92 L342.25,657.92 L342.51,657.91 L342.78,657.9 L343.04,657.9 L343.31,657.89 L343.57,657.89 L343.84,657.88 L344.1,657.87 L344.37,657.87 L344.64,657.86 L344.9,657.86 L345.17,657.85 L345.43,657.84 L345.7,657.84 L345.96,657.83 L346.23,657.83 L346.49,657.82 L346.76,657.81 L347.02,657.81 L347.29,657.8 L347.56,657.8 L347.82,657.79 L348.09,657.79 L348.35,657.78 L348.62,657.77 L348.88,657.77 L349.15,657.76 L349.41,657.76 L349.68,657.75 L349.95,657.75 L350.21,657.74 L350.48,657.74 L350.74,657.73 L351.01,657.72 L351.27,657.72 L351.54,657.71 L351.8,657.71 L352.07,657.7 L352.33,657.7 L352.6,657.69 L352.87,657.69 L353.13,657.68 L353.4,657.67 L353.66,657.67 L353.93,657.66 L354.19,657.66 L354.46,657.65 L354.72,657.65 L354.99,657.64 L355.26,657.64 L355.52,657.63 L355.79,657.63 L356.05,657.62 L356.32,657.62 L356.58,657.61 L356.85,657.6 L357.11,657.6 L357.38,657.59 L357.64,657.59 L357.91,657.58 L358.18,657.58 L358.44,657.57 L358.71,657.57 L358.97,657.56 L359.24,657.56 L359.5,657.55 L359.77,657.54 L360.03,657.54 L360.3,657.53 L360.57,657.53 L360.83,657.52 L361.1,657.52 L361.36,657.51 L361.63,657.51 L361.89,657.5 L362.16,657.5 L362.42,657.49 L362.69,657.49 L362.95,657.48 L363.22,657.48 L363.49,657.47 L363.75,657.46 L364.02,657.46 L364.28,657.45 L364.55,657.45 L364.81,657.44 L365.08,657.44 L365.34,657.43 L365.61,657.43 L365.88,657.42 L366.14,657.42 L366.41,657.41 L366.67,657.41 L366.94,657.4 L367.2,657.39 L367.47,657.39 L367.73,657.38 L368,657.38 L368.26,657.37 L368.53,657.37 L368.8,657.36 L369.06,657.36 L369.33,657.35 L369.59,657.35 L369.86,657.34 L370.12,657.34 L370.39,657.33 L370.65,657.33 L370.92,657.32 L371.19,657.35 L371.45,657.43 L371.72,657.54 L371.98,657.68 L372.25,657.85 L372.51,658.04 L372.78,658.26 L373.04,658.49 L373.31,658.75 L373.57,659.01 L373.84,659.29 L374.11,659.58 L374.37,659.88 L374.64,660.17 L374.9,660.48 L375.17,660.78 L375.43,661.08 L375.7,661.38 L375.96,661.67 L376.23,661.96 L376.5,662.24 L376.76,662.51 L377.03,662.78 L377.29,663.03 L377.56,663.28 L377.82,663.51 L378.09,663.73 L378.35,663.94 L378.62,664.14 L378.88,664.33 L379.15,664.51 L379.42,664.67 L379.68,664.83 L379.95,664.97 L380.21,665.1 L380.48,665.23 L380.74,665.34 L381.01,665.45 L381.27,665.54 L381.54,665.63 L381.81,665.71 L382.07,665.78 L382.34,665.85 L382.6,665.91 L382.87,665.97 L383.13,666.02 L383.4,666.06 L383.66,666.1 L383.93,666.14 L384.19,666.17 L384.46,666.2 L384.73,666.22 L384.99,666.25 L385.26,666.27 L385.52,666.29 L385.79,666.3 L386.05,666.32 L386.32,666.33 L386.58,666.34 L386.85,666.35 L387.12,666.36 L387.38,666.37 L387.65,666.38 L387.91,666.38 L388.18,666.39 L388.44,666.39 L388.71,666.4 L388.97,666.4 L389.24,666.41 L389.5,666.41 L389.77,666.41 L390.04,666.42 L390.3,666.42 L390.57,666.42 L390.83,666.43 L391.1,666.43 L391.36,666.43 L391.63,666.43 L391.89,666.44 L392.16,666.44 L394.28,666.46 L396.41,666.47 L398.53,666.49 L400.66,666.5 L402.78,666.52 L404.9,666.54 L407.03,666.55 L409.15,666.57 L411.28,666.58 L413.4,666.6 L415.52,666.62 L417.65,666.63 L419.77,666.65 L421.9,666.66 L424.02,666.68 L426.14,666.7 L428.27,666.71 L430.39,666.73 L432.52,666.74 L434.64,666.76" fill="none" stroke="#ffa048" stroke-width="1.3" stroke-linejoin="round" />
<path d="M275.34,666.6 L305.08,666.6 L305.34,666.6 L305.61,666.6 L305.87,666.6 L306.14,666.6 L306.4,666.6 L306.67,666.6 L306.93,666.6 L307.2,666.6 L307.47,666.37 L307.73,666.16 L308,665.95 L308.26,665.76 L308.53,665.57 L308.79,665.39 L309.06,665.23 L309.32,665.06 L309.59,664.91 L309.85,664.77 L310.12,664.63 L310.39,664.5 L310.65,664.37 L310.92,664.25 L311.18,664.14 L311.45,664.03 L311.71,663.93 L311.98,663.83 L312.24,663.74 L312.51,663.65 L312.78,663.57 L313.04,663.49 L313.31,663.41 L313.57,663.34 L313.84,663.27 L314.1,663.21 L314.37,663.14 L314.63,663.09 L314.9,663.03 L315.16,662.98 L315.43,662.92 L315.7,662.88 L315.96,662.83 L316.23,662.78 L316.49,662.74 L316.76,662.7 L317.02,662.66 L317.29,662.63 L317.55,662.59 L317.82,662.56 L318.09,662.53 L318.35,662.5 L318.62,662.47 L318.88,662.44 L319.15,662.42 L319.41,662.39 L319.68,662.37 L319.94,662.35 L320.21,662.33 L320.47,662.31 L320.74,662.29 L321.01,662.27 L321.27,662.25 L321.54,662.24 L321.8,662.22 L322.07,662.2 L322.33,662.19 L322.6,662.18 L322.86,662.16 L323.13,662.15 L323.4,662.14 L323.66,662.13 L323.93,662.12 L324.19,662.11 L324.46,662.1 L324.72,662.09 L324.99,662.08 L325.25,662.07 L325.52,662.06 L325.78,662.05 L326.05,662.05 L326.32,662.04 L326.58,662.03 L326.85,662.03 L327.11,662.02 L327.38,662.01 L327.64,662.01 L327.91,662 L328.17,662 L328.44,661.99 L328.71,661.99 L328.97,661.98 L329.24,661.98 L329.5,661.97 L329.77,661.97 L330.03,661.97 L330.3,661.96 L330.56,661.96 L330.83,661.95 L331.09,661.95 L331.36,661.95 L331.63,661.95 L331.89,661.94 L332.16,661.94 L332.42,661.94 L332.69,661.93 L332.95,661.93 L333.22,661.93 L333.48,661.93 L333.75,661.92 L334.02,661.92 L334.28,661.92 L334.55,661.92 L334.81,661.92 L335.08,661.91 L335.34,661.91 L335.61,661.91 L335.87,661.91 L336.14,661.91 L336.4,661.91 L336.67,661.9 L336.94,661.9 L337.2,661.9 L337.47,661.9 L337.73,661.9 L338,661.9 L338.26,661.9 L338.53,661.89 L338.79,661.89 L339.06,661.89 L339.33,661.89 L339.59,661.89 L339.86,661.89 L340.12,661.89 L340.39,661.89 L340.65,661.88 L340.92,661.88 L341.18,661.88 L341.45,661.88 L341.71,661.88 L341.98,661.88 L342.25,661.88 L342.51,661.88 L342.78,661.88 L343.04,661.88 L343.31,661.87 L343.57,661.87 L343.84,661.87 L344.1,661.87 L344.37,661.87 L344.64,661.87 L344.9,661.87 L345.17,661.87 L345.43,661.87 L345.7,661.87 L345.96,661.87 L346.23,661.86 L346.49,661.86 L346.76,661.86 L347.02,661.86 L347.29,661.86 L347.56,661.86 L347.82,661.86 L348.09,661.86 L348.35,661.86 L348.62,661.86 L348.88,661.86 L349.15,661.86 L349.41,661.86 L349.68,661.85 L349.95,661.85 L350.21,661.85 L350.48,661.85 L350.74,661.85 L351.01,661.85 L351.27,661.85 L351.54,661.85 L351.8,661.85 L352.07,661.85 L352.33,661.85 L352.6,661.85 L352.87,661.85 L353.13,661.85 L353.4,661.84 L353.66,661.84 L353.93,661.84 L354.19,661.84 L354.46,661.84 L354.72,661.84 L354.99,661.84 L355.26,661.84 L355.52,661.84 L355.79,661.84 L356.05,661.84 L356.32,661.84 L356.58,661.84 L356.85,661.84 L357.11,661.84 L357.38,661.83 L357.64,661.83 L357.91,661.83 L358.18,661.83 L358.44,661.83 L358.71,661.83 L358.97,661.83 L359.24,661.83 L359.5,661.83 L359.77,661.83 L360.03,661.83 L360.3,661.83 L360.57,661.83 L360.83,661.83 L361.1,661.82 L361.36,661.82 L361.63,661.82 L361.89,661.82 L362.16,661.82 L362.42,661.82 L362.69,661.82 L362.95,661.82 L363.22,661.82 L363.49,661.82 L363.75,661.82 L364.02,661.82 L364.28,661.82 L364.55,661.82 L364.81,661.82 L365.08,661.81 L365.34,661.81 L365.61,661.81 L365.88,661.81 L366.14,661.81 L366.41,661.81 L366.67,661.81 L366.94,661.81 L367.2,661.81 L367.47,661.81 L367.73,661.81 L368,661.81 L368.26,661.81 L368.53,661.81 L368.8,661.81 L369.06,661.8 L369.33,661.8 L369.59,661.8 L369.86,661.8 L370.12,661.8 L370.39,661.8 L370.65,661.8 L370.92,661.8 L371.19,661.82 L371.45,661.86 L371.72,661.93 L371.98,662.01 L372.25,662.11 L372.51,662.22 L372.78,662.34 L373.04,662.48 L373.31,662.62 L373.57,662.78 L373.84,662.94 L374.11,663.1 L374.37,663.27 L374.64,663.44 L374.9,663.62 L375.17,663.79 L375.43,663.96 L375.7,664.13 L375.96,664.3 L376.23,664.47 L376.5,664.63 L376.76,664.79 L377.03,664.94 L377.29,665.08 L377.56,665.22 L377.82,665.36 L378.09,665.49 L378.35,665.61 L378.62,665.72 L378.88,665.83 L379.15,665.93 L379.42,666.03 L379.68,666.12 L379.95,666.2 L380.21,666.28 L380.48,666.35 L380.74,666.42 L381.01,666.48 L381.27,666.53 L381.54,666.58 L381.81,666.63 L382.07,666.67 L382.34,666.71 L382.6,666.75 L382.87,666.78 L383.13,666.81 L383.4,666.83 L383.66,666.86 L383.93,666.88 L384.19,666.9 L384.46,666.92 L384.73,666.93 L384.99,666.95 L385.26,666.96 L385.52,666.97 L385.79,666.98 L386.05,666.99 L386.32,667 L386.58,667.01 L386.85,667.01 L387.12,667.02 L387.38,667.02 L387.65,667.03 L387.91,667.03 L388.18,667.04 L388.44,667.04 L388.71,667.05 L388.97,667.05 L389.24,667.05 L389.5,667.05 L389.77,667.06 L390.04,667.06 L390.3,667.06 L390.57,667.07 L390.83,667.07 L391.1,667.07 L391.36,667.07 L391.63,667.07 L391.89,667.08 L392.16,667.08 L394.28,667.1 L396.41,667.11 L398.53,667.13 L400.66,667.14 L402.78,667.16 L404.9,667.18 L407.03,667.19 L409.15,667.21 L411.28,667.22 L413.4,667.24 L415.52,667.26 L417.65,667.27 L419.77,667.29 L421.9,667.3 L424.02,667.32 L426.14,667.34 L428.27,667.35 L430.39,667.37 L432.52,667.38 L434.64,667.4" fill="none" stroke="#20b020" stroke-width="1.3" stroke-linejoin="round" />
<path d="M275.34,666.6 L305.08,667.2 L305.34,667.2 L305.61,667.2 L305.87,667.2 L306.14,667.2 L306.4,667.2 L306.67,667.2 L306.93,667.2 L307.2,667.2 L307.47,635.35 L307.73,616.03 L308,604.31 L308.26,597.2 L308.53,592.9 L308.79,590.28 L309.06,588.7 L309.32,587.74 L309.59,587.16 L309.85,586.81 L310.12,586.59 L310.39,586.46 L310.65,586.39 L310.92,586.34 L311.18,586.31 L311.45,586.3 L311.71,586.29 L311.98,586.29 L312.24,586.28 L312.51,586.28 L312.78,586.28 L313.04,586.29 L313.31,586.29 L313.57,586.29 L313.84,586.29 L314.1,586.29 L314.37,586.29 L314.63,586.3 L314.9,586.3 L315.16,586.3 L315.43,586.3 L315.7,586.3 L315.96,586.31 L316.23,586.31 L316.49,586.31 L316.76,586.31 L317.02,586.31 L317.29,586.32 L317.55,586.32 L317.82,586.32 L318.09,586.32 L318.35,586.32 L318.62,586.33 L318.88,586.33 L319.15,586.33 L319.41,586.33 L319.68,586.33 L319.94,586.34 L320.21,586.34 L320.47,586.34 L320.74,586.34 L321.01,586.34 L321.27,586.35 L321.54,586.35 L321.8,586.35 L322.07,586.35 L322.33,586.35 L322.6,586.36 L322.86,586.36 L323.13,586.36 L323.4,586.36 L323.66,586.36 L323.93,586.37 L324.19,586.37 L324.46,586.37 L324.72,586.37 L324.99,586.37 L325.25,586.38 L325.52,586.38 L325.78,586.38 L326.05,586.38 L326.32,586.38 L326.58,586.39 L326.85,586.39 L327.11,586.39 L327.38,586.39 L327.64,586.39 L327.91,586.4 L328.17,586.4 L328.44,586.4 L328.71,586.4 L328.97,586.4 L329.24,586.41 L329.5,586.41 L329.77,586.41 L330.03,586.41 L330.3,586.41 L330.56,586.42 L330.83,586.42 L331.09,586.42 L331.36,586.42 L331.63,586.42 L331.89,586.43 L332.16,586.43 L332.42,586.43 L332.69,586.43 L332.95,586.43 L333.22,586.44 L333.48,586.44 L333.75,586.44 L334.02,586.44 L334.28,586.44 L334.55,586.45 L334.81,586.45 L335.08,586.45 L335.34,586.45 L335.61,586.45 L335.87,586.46 L336.14,586.46 L336.4,586.46 L336.67,586.46 L336.94,586.46 L337.2,586.47 L337.47,586.47 L337.73,586.47 L338,586.47 L338.26,586.47 L338.53,586.48 L338.79,586.48 L339.06,586.48 L339.33,586.48 L339.59,586.48 L339.86,586.49 L340.12,586.49 L340.39,586.49 L340.65,586.49 L340.92,586.49 L341.18,586.5 L341.45,586.5 L341.71,586.5 L341.98,586.5 L342.25,586.5 L342.51,586.51 L342.78,586.51 L343.04,586.51 L343.31,586.51 L343.57,586.51 L343.84,586.52 L344.1,586.52 L344.37,586.52 L344.64,586.52 L344.9,586.52 L345.17,586.53 L345.43,586.53 L345.7,586.53 L345.96,586.53 L346.23,586.53 L346.49,586.54 L346.76,586.54 L347.02,586.54 L347.29,586.54 L347.56,586.54 L347.82,586.55 L348.09,586.55 L348.35,586.55 L348.62,586.55 L348.88,586.55 L349.15,586.56 L349.41,586.56 L349.68,586.56 L349.95,586.56 L350.21,586.56 L350.48,586.57 L350.74,586.57 L351.01,586.57 L351.27,586.57 L351.54,586.57 L351.8,586.58 L352.07,586.58 L352.33,586.58 L352.6,586.58 L352.87,586.58 L353.13,586.59 L353.4,586.59 L353.66,586.59 L353.93,586.59 L354.19,586.59 L354.46,586.6 L354.72,586.6 L354.99,586.6 L355.26,586.6 L355.52,586.6 L355.79,586.61 L356.05,586.61 L356.32,586.61 L356.58,586.61 L356.85,586.61 L357.11,586.62 L357.38,586.62 L357.64,586.62 L357.91,586.62 L358.18,586.62 L358.44,586.63 L358.71,586.63 L358.97,586.63 L359.24,586.63 L359.5,586.63 L359.77,586.64 L360.03,586.64 L360.3,586.64 L360.57,586.64 L360.83,586.64 L361.1,586.65 L361.36,586.65 L361.63,586.65 L361.89,586.65 L362.16,586.65 L362.42,586.66 L362.69,586.66 L362.95,586.66 L363.22,586.66 L363.49,586.66 L363.75,586.67 L364.02,586.67 L364.28,586.67 L364.55,586.67 L364.81,586.67 L365.08,586.68 L365.34,586.68 L365.61,586.68 L365.88,586.68 L366.14,586.68 L366.41,586.69 L366.67,586.69 L366.94,586.69 L367.2,586.69 L367.47,586.69 L367.73,586.7 L368,586.7 L368.26,586.7 L368.53,586.7 L368.8,586.7 L369.06,586.71 L369.33,586.71 L369.59,586.71 L369.86,586.71 L370.12,586.71 L370.39,586.72 L370.65,586.72 L370.92,586.72 L371.19,586.99 L371.45,587.65 L371.72,588.64 L371.98,589.92 L372.25,591.45 L372.51,593.22 L372.78,595.18 L373.04,597.33 L373.31,599.62 L373.57,602.05 L373.84,604.58 L374.11,607.19 L374.37,609.87 L374.64,612.59 L374.9,615.33 L375.17,618.08 L375.43,620.82 L375.7,623.53 L375.96,626.2 L376.23,628.81 L376.5,631.37 L376.76,633.85 L377.03,636.24 L377.29,638.55 L377.56,640.77 L377.82,642.88 L378.09,644.9 L378.35,646.81 L378.62,648.61 L378.88,650.32 L379.15,651.92 L379.42,653.41 L379.68,654.81 L379.95,656.11 L380.21,657.31 L380.48,658.42 L380.74,659.45 L381.01,660.39 L381.27,661.26 L381.54,662.05 L381.81,662.77 L382.07,663.42 L382.34,664.02 L382.6,664.56 L382.87,665.04 L383.13,665.48 L383.4,665.87 L383.66,666.22 L383.93,666.53 L384.19,666.81 L384.46,667.06 L384.73,667.28 L384.99,667.47 L385.26,667.64 L385.52,667.79 L385.79,667.93 L386.05,668.04 L386.32,668.14 L386.58,668.23 L386.85,668.31 L387.12,668.38 L387.38,668.44 L387.65,668.49 L387.91,668.53 L388.18,668.57 L388.44,668.6 L388.71,668.63 L388.97,668.66 L389.24,668.68 L389.5,668.69 L389.77,668.71 L390.04,668.72 L390.3,668.74 L390.57,668.75 L390.83,668.76 L391.1,668.76 L391.36,668.77 L391.63,668.78 L391.89,668.78 L392.16,668.79 L394.28,668.81 L396.41,668.83 L398.53,668.85 L400.66,668.86 L402.78,668.88 L404.9,668.9 L407.03,668.91 L409.15,668.93 L411.28,668.94 L413.4,668.96 L415.52,668.98 L417.65,668.99 L419.77,669.01 L421.9,669.02 L424.02,669.04 L426.14,669.06 L428.27,669.07 L430.39,669.09 L432.52,669.1 L434.64,669.12" fill="none" stroke="#111" stroke-width="0.6" stroke-linejoin="round" />
<path d="M275.34,666.6 L305.08,667.2 L305.34,667.2 L305.61,667.2 L305.87,667.2 L306.14,667.2 L306.4,667.2 L306.67,667.2 L306.93,667.2 L307.2,667.2 L307.47,644.76 L307.73,629.07 L308,618.09 L308.26,610.4 L308.53,605.03 L308.79,601.27 L309.06,598.64 L309.32,596.8 L309.59,595.52 L309.85,594.62 L310.12,593.99 L310.39,593.56 L310.65,593.25 L310.92,593.04 L311.18,592.89 L311.45,592.79 L311.71,592.72 L311.98,592.67 L312.24,592.64 L312.51,592.62 L312.78,592.61 L313.04,592.6 L313.31,592.59 L313.57,592.59 L313.84,592.59 L314.1,592.59 L314.37,592.59 L314.63,592.6 L314.9,592.6 L315.16,592.6 L315.43,592.61 L315.7,592.61 L315.96,592.61 L316.23,592.62 L316.49,592.62 L316.76,592.62 L317.02,592.63 L317.29,592.63 L317.55,592.64 L317.82,592.64 L318.09,592.64 L318.35,592.65 L318.62,592.65 L318.88,592.66 L319.15,592.66 L319.41,592.66 L319.68,592.67 L319.94,592.67 L320.21,592.68 L320.47,592.68 L320.74,592.68 L321.01,592.69 L321.27,592.69 L321.54,592.7 L321.8,592.7 L322.07,592.7 L322.33,592.71 L322.6,592.71 L322.86,592.72 L323.13,592.72 L323.4,592.72 L323.66,592.73 L323.93,592.73 L324.19,592.74 L324.46,592.74 L324.72,592.74 L324.99,592.75 L325.25,592.75 L325.52,592.76 L325.78,592.76 L326.05,592.76 L326.32,592.77 L326.58,592.77 L326.85,592.78 L327.11,592.78 L327.38,592.78 L327.64,592.79 L327.91,592.79 L328.17,592.8 L328.44,592.8 L328.71,592.8 L328.97,592.81 L329.24,592.81 L329.5,592.82 L329.77,592.82 L330.03,592.82 L330.3,592.83 L330.56,592.83 L330.83,592.84 L331.09,592.84 L331.36,592.84 L331.63,592.85 L331.89,592.85 L332.16,592.86 L332.42,592.86 L332.69,592.86 L332.95,592.87 L333.22,592.87 L333.48,592.88 L333.75,592.88 L334.02,592.88 L334.28,592.89 L334.55,592.89 L334.81,592.9 L335.08,592.9 L335.34,592.9 L335.61,592.91 L335.87,592.91 L336.14,592.92 L336.4,592.92 L336.67,592.92 L336.94,592.93 L337.2,592.93 L337.47,592.94 L337.73,592.94 L338,592.94 L338.26,592.95 L338.53,592.95 L338.79,592.96 L339.06,592.96 L339.33,592.96 L339.59,592.97 L339.86,592.97 L340.12,592.98 L340.39,592.98 L340.65,592.98 L340.92,592.99 L341.18,592.99 L341.45,593 L341.71,593 L341.98,593 L342.25,593.01 L342.51,593.01 L342.78,593.02 L343.04,593.02 L343.31,593.02 L343.57,593.03 L343.84,593.03 L344.1,593.04 L344.37,593.04 L344.64,593.04 L344.9,593.05 L345.17,593.05 L345.43,593.06 L345.7,593.06 L345.96,593.06 L346.23,593.07 L346.49,593.07 L346.76,593.08 L347.02,593.08 L347.29,593.08 L347.56,593.09 L347.82,593.09 L348.09,593.1 L348.35,593.1 L348.62,593.1 L348.88,593.11 L349.15,593.11 L349.41,593.12 L349.68,593.12 L349.95,593.12 L350.21,593.13 L350.48,593.13 L350.74,593.14 L351.01,593.14 L351.27,593.14 L351.54,593.15 L351.8,593.15 L352.07,593.16 L352.33,593.16 L352.6,593.16 L352.87,593.17 L353.13,593.17 L353.4,593.18 L353.66,593.18 L353.93,593.18 L354.19,593.19 L354.46,593.19 L354.72,593.2 L354.99,593.2 L355.26,593.2 L355.52,593.21 L355.79,593.21 L356.05,593.22 L356.32,593.22 L356.58,593.22 L356.85,593.23 L357.11,593.23 L357.38,593.24 L357.64,593.24 L357.91,593.24 L358.18,593.25 L358.44,593.25 L358.71,593.26 L358.97,593.26 L359.24,593.26 L359.5,593.27 L359.77,593.27 L360.03,593.28 L360.3,593.28 L360.57,593.28 L360.83,593.29 L361.1,593.29 L361.36,593.3 L361.63,593.3 L361.89,593.3 L362.16,593.31 L362.42,593.31 L362.69,593.32 L362.95,593.32 L363.22,593.32 L363.49,593.33 L363.75,593.33 L364.02,593.34 L364.28,593.34 L364.55,593.34 L364.81,593.35 L365.08,593.35 L365.34,593.36 L365.61,593.36 L365.88,593.36 L366.14,593.37 L366.41,593.37 L366.67,593.38 L366.94,593.38 L367.2,593.38 L367.47,593.39 L367.73,593.39 L368,593.4 L368.26,593.4 L368.53,593.4 L368.8,593.41 L369.06,593.41 L369.33,593.42 L369.59,593.42 L369.86,593.42 L370.12,593.43 L370.39,593.43 L370.65,593.44 L370.92,593.44 L371.19,593.69 L371.45,594.3 L371.72,595.21 L371.98,596.38 L372.25,597.79 L372.51,599.4 L372.78,601.21 L373.04,603.18 L373.31,605.28 L373.57,607.51 L373.84,609.83 L374.11,612.24 L374.37,614.69 L374.64,617.19 L374.9,619.71 L375.17,622.23 L375.43,624.74 L375.7,627.23 L375.96,629.68 L376.23,632.08 L376.5,634.43 L376.76,636.7 L377.03,638.9 L377.29,641.02 L377.56,643.06 L377.82,645 L378.09,646.85 L378.35,648.6 L378.62,650.26 L378.88,651.82 L379.15,653.29 L379.42,654.67 L379.68,655.95 L379.95,657.14 L380.21,658.25 L380.48,659.27 L380.74,660.21 L381.01,661.08 L381.27,661.87 L381.54,662.6 L381.81,663.26 L382.07,663.86 L382.34,664.41 L382.6,664.9 L382.87,665.34 L383.13,665.74 L383.4,666.1 L383.66,666.42 L383.93,666.71 L384.19,666.97 L384.46,667.19 L384.73,667.4 L384.99,667.57 L385.26,667.73 L385.52,667.87 L385.79,667.99 L386.05,668.1 L386.32,668.19 L386.58,668.28 L386.85,668.35 L387.12,668.41 L387.38,668.46 L387.65,668.51 L387.91,668.55 L388.18,668.59 L388.44,668.62 L388.71,668.64 L388.97,668.66 L389.24,668.68 L389.5,668.7 L389.77,668.72 L390.04,668.73 L390.3,668.74 L390.57,668.75 L390.83,668.76 L391.1,668.77 L391.36,668.77 L391.63,668.78 L391.89,668.78 L392.16,668.79 L394.28,668.81 L396.41,668.83 L398.53,668.85 L400.66,668.86 L402.78,668.88 L404.9,668.9 L407.03,668.91 L409.15,668.93 L411.28,668.94 L413.4,668.96 L415.52,668.98 L417.65,668.99 L419.77,669.01 L421.9,669.02 L424.02,669.04 L426.14,669.06 L428.27,669.07 L430.39,669.09 L432.52,669.1 L434.64,669.12" fill="none" stroke="#111" stroke-width="0.6" stroke-linejoin="round" />
<path d="M275.34,666.6 L305.08,667.2 L305.34,667.2 L305.61,667.2 L305.87,667.2 L306.14,667.2 L306.4,667.2 L306.67,667.2 L306.93,667.2 L307.2,667.2 L307.47,652.73 L307.73,641.45 L308,632.68 L308.26,625.84 L308.53,620.52 L308.79,616.37 L309.06,613.14 L309.32,610.63 L309.59,608.67 L309.85,607.14 L310.12,605.96 L310.39,605.03 L310.65,604.31 L310.92,603.75 L311.18,603.32 L311.45,602.98 L311.71,602.72 L311.98,602.51 L312.24,602.35 L312.51,602.23 L312.78,602.13 L313.04,602.06 L313.31,602 L313.57,601.95 L313.84,601.92 L314.1,601.89 L314.37,601.87 L314.63,601.86 L314.9,601.85 L315.16,601.84 L315.43,601.83 L315.7,601.82 L315.96,601.82 L316.23,601.82 L316.49,601.82 L316.76,601.82 L317.02,601.82 L317.29,601.82 L317.55,601.82 L317.82,601.82 L318.09,601.82 L318.35,601.82 L318.62,601.82 L318.88,601.82 L319.15,601.82 L319.41,601.82 L319.68,601.82 L319.94,601.82 L320.21,601.83 L320.47,601.83 L320.74,601.83 L321.01,601.83 L321.27,601.83 L321.54,601.83 L321.8,601.83 L322.07,601.83 L322.33,601.84 L322.6,601.84 L322.86,601.84 L323.13,601.84 L323.4,601.84 L323.66,601.84 L323.93,601.84 L324.19,601.85 L324.46,601.85 L324.72,601.85 L324.99,601.85 L325.25,601.85 L325.52,601.85 L325.78,601.85 L326.05,601.85 L326.32,601.86 L326.58,601.86 L326.85,601.86 L327.11,601.86 L327.38,601.86 L327.64,601.86 L327.91,601.86 L328.17,601.87 L328.44,601.87 L328.71,601.87 L328.97,601.87 L329.24,601.87 L329.5,601.87 L329.77,601.87 L330.03,601.87 L330.3,601.88 L330.56,601.88 L330.83,601.88 L331.09,601.88 L331.36,601.88 L331.63,601.88 L331.89,601.88 L332.16,601.89 L332.42,601.89 L332.69,601.89 L332.95,601.89 L333.22,601.89 L333.48,601.89 L333.75,601.89 L334.02,601.89 L334.28,601.9 L334.55,601.9 L334.81,601.9 L335.08,601.9 L335.34,601.9 L335.61,601.9 L335.87,601.9 L336.14,601.91 L336.4,601.91 L336.67,601.91 L336.94,601.91 L337.2,601.91 L337.47,601.91 L337.73,601.91 L338,601.91 L338.26,601.92 L338.53,601.92 L338.79,601.92 L339.06,601.92 L339.33,601.92 L339.59,601.92 L339.86,601.92 L340.12,601.93 L340.39,601.93 L340.65,601.93 L340.92,601.93 L341.18,601.93 L341.45,601.93 L341.71,601.93 L341.98,601.93 L342.25,601.94 L342.51,601.94 L342.78,601.94 L343.04,601.94 L343.31,601.94 L343.57,601.94 L343.84,601.94 L344.1,601.95 L344.37,601.95 L344.64,601.95 L344.9,601.95 L345.17,601.95 L345.43,601.95 L345.7,601.95 L345.96,601.95 L346.23,601.96 L346.49,601.96 L346.76,601.96 L347.02,601.96 L347.29,601.96 L347.56,601.96 L347.82,601.96 L348.09,601.97 L348.35,601.97 L348.62,601.97 L348.88,601.97 L349.15,601.97 L349.41,601.97 L349.68,601.97 L349.95,601.97 L350.21,601.98 L350.48,601.98 L350.74,601.98 L351.01,601.98 L351.27,601.98 L351.54,601.98 L351.8,601.98 L352.07,601.99 L352.33,601.99 L352.6,601.99 L352.87,601.99 L353.13,601.99 L353.4,601.99 L353.66,601.99 L353.93,601.99 L354.19,602 L354.46,602 L354.72,602 L354.99,602 L355.26,602 L355.52,602 L355.79,602 L356.05,602.01 L356.32,602.01 L356.58,602.01 L356.85,602.01 L357.11,602.01 L357.38,602.01 L357.64,602.01 L357.91,602.01 L358.18,602.02 L358.44,602.02 L358.71,602.02 L358.97,602.02 L359.24,602.02 L359.5,602.02 L359.77,602.02 L360.03,602.03 L360.3,602.03 L360.57,602.03 L360.83,602.03 L361.1,602.03 L361.36,602.03 L361.63,602.03 L361.89,602.03 L362.16,602.04 L362.42,602.04 L362.69,602.04 L362.95,602.04 L363.22,602.04 L363.49,602.04 L363.75,602.04 L364.02,602.05 L364.28,602.05 L364.55,602.05 L364.81,602.05 L365.08,602.05 L365.34,602.05 L365.61,602.05 L365.88,602.05 L366.14,602.06 L366.41,602.06 L366.67,602.06 L366.94,602.06 L367.2,602.06 L367.47,602.06 L367.73,602.06 L368,602.07 L368.26,602.07 L368.53,602.07 L368.8,602.07 L369.06,602.07 L369.33,602.07 L369.59,602.07 L369.86,602.07 L370.12,602.08 L370.39,602.08 L370.65,602.08 L370.92,602.08 L371.19,602.3 L371.45,602.84 L371.72,603.64 L371.98,604.68 L372.25,605.93 L372.51,607.36 L372.78,608.96 L373.04,610.7 L373.31,612.57 L373.57,614.54 L373.84,616.59 L374.11,618.72 L374.37,620.89 L374.64,623.11 L374.9,625.33 L375.17,627.57 L375.43,629.79 L375.7,631.99 L375.96,634.16 L376.23,636.29 L376.5,638.36 L376.76,640.38 L377.03,642.33 L377.29,644.2 L377.56,646 L377.82,647.72 L378.09,649.36 L378.35,650.91 L378.62,652.38 L378.88,653.76 L379.15,655.06 L379.42,656.28 L379.68,657.41 L379.95,658.47 L380.21,659.45 L380.48,660.35 L380.74,661.19 L381.01,661.95 L381.27,662.66 L381.54,663.3 L381.81,663.89 L382.07,664.42 L382.34,664.9 L382.6,665.34 L382.87,665.73 L383.13,666.09 L383.4,666.41 L383.66,666.69 L383.93,666.94 L384.19,667.17 L384.46,667.37 L384.73,667.55 L384.99,667.71 L385.26,667.85 L385.52,667.97 L385.79,668.08 L386.05,668.17 L386.32,668.26 L386.58,668.33 L386.85,668.39 L387.12,668.45 L387.38,668.5 L387.65,668.54 L387.91,668.58 L388.18,668.61 L388.44,668.63 L388.71,668.66 L388.97,668.68 L389.24,668.7 L389.5,668.71 L389.77,668.72 L390.04,668.74 L390.3,668.75 L390.57,668.75 L390.83,668.76 L391.1,668.77 L391.36,668.77 L391.63,668.78 L391.89,668.78 L392.16,668.79 L394.28,668.81 L396.41,668.83 L398.53,668.85 L400.66,668.86 L402.78,668.88 L404.9,668.9 L407.03,668.91 L409.15,668.93 L411.28,668.94 L413.4,668.96 L415.52,668.98 L417.65,668.99 L419.77,669.01 L421.9,669.02 L424.02,669.04 L426.14,669.06 L428.27,669.07 L430.39,669.09 L432.52,669.1 L434.64,669.12" fill="none" stroke="#111" stroke-width="0.6" stroke-linejoin="round" />
<path d="M275.34,666.6 L305.08,667.2 L305.34,667.2 L305.61,667.2 L305.87,667.2 L306.14,667.2 L306.4,667.2 L306.67,667.2 L306.93,667.2 L307.2,667.2 L307.47,659.81 L307.73,653.42 L308,647.91 L308.26,643.16 L308.53,639.05 L308.79,635.51 L309.06,632.45 L309.32,629.81 L309.59,627.53 L309.85,625.56 L310.12,623.86 L310.39,622.4 L310.65,621.13 L310.92,620.04 L311.18,619.1 L311.45,618.28 L311.71,617.58 L311.98,616.98 L312.24,616.45 L312.51,616 L312.78,615.61 L313.04,615.28 L313.31,614.99 L313.57,614.74 L313.84,614.52 L314.1,614.34 L314.37,614.18 L314.63,614.04 L314.9,613.92 L315.16,613.82 L315.43,613.73 L315.7,613.65 L315.96,613.59 L316.23,613.53 L316.49,613.48 L316.76,613.44 L317.02,613.4 L317.29,613.37 L317.55,613.35 L317.82,613.32 L318.09,613.3 L318.35,613.29 L318.62,613.27 L318.88,613.26 L319.15,613.25 L319.41,613.24 L319.68,613.24 L319.94,613.23 L320.21,613.23 L320.47,613.22 L320.74,613.22 L321.01,613.22 L321.27,613.21 L321.54,613.21 L321.8,613.21 L322.07,613.21 L322.33,613.21 L322.6,613.21 L322.86,613.21 L323.13,613.21 L323.4,613.21 L323.66,613.21 L323.93,613.21 L324.19,613.21 L324.46,613.21 L324.72,613.21 L324.99,613.21 L325.25,613.21 L325.52,613.21 L325.78,613.22 L326.05,613.22 L326.32,613.22 L326.58,613.22 L326.85,613.22 L327.11,613.22 L327.38,613.22 L327.64,613.22 L327.91,613.22 L328.17,613.23 L328.44,613.23 L328.71,613.23 L328.97,613.23 L329.24,613.23 L329.5,613.23 L329.77,613.23 L330.03,613.23 L330.3,613.24 L330.56,613.24 L330.83,613.24 L331.09,613.24 L331.36,613.24 L331.63,613.24 L331.89,613.24 L332.16,613.25 L332.42,613.25 L332.69,613.25 L332.95,613.25 L333.22,613.25 L333.48,613.25 L333.75,613.25 L334.02,613.25 L334.28,613.26 L334.55,613.26 L334.81,613.26 L335.08,613.26 L335.34,613.26 L335.61,613.26 L335.87,613.26 L336.14,613.27 L336.4,613.27 L336.67,613.27 L336.94,613.27 L337.2,613.27 L337.47,613.27 L337.73,613.27 L338,613.27 L338.26,613.28 L338.53,613.28 L338.79,613.28 L339.06,613.28 L339.33,613.28 L339.59,613.28 L339.86,613.28 L340.12,613.29 L340.39,613.29 L340.65,613.29 L340.92,613.29 L341.18,613.29 L341.45,613.29 L341.71,613.29 L341.98,613.29 L342.25,613.3 L342.51,613.3 L342.78,613.3 L343.04,613.3 L343.31,613.3 L343.57,613.3 L343.84,613.3 L344.1,613.31 L344.37,613.31 L344.64,613.31 L344.9,613.31 L345.17,613.31 L345.43,613.31 L345.7,613.31 L345.96,613.31 L346.23,613.32 L346.49,613.32 L346.76,613.32 L347.02,613.32 L347.29,613.32 L347.56,613.32 L347.82,613.32 L348.09,613.33 L348.35,613.33 L348.62,613.33 L348.88,613.33 L349.15,613.33 L349.41,613.33 L349.68,613.33 L349.95,613.33 L350.21,613.34 L350.48,613.34 L350.74,613.34 L351.01,613.34 L351.27,613.34 L351.54,613.34 L351.8,613.34 L352.07,613.35 L352.33,613.35 L352.6,613.35 L352.87,613.35 L353.13,613.35 L353.4,613.35 L353.66,613.35 L353.93,613.35 L354.19,613.36 L354.46,613.36 L354.72,613.36 L354.99,613.36 L355.26,613.36 L355.52,613.36 L355.79,613.36 L356.05,613.37 L356.32,613.37 L356.58,613.37 L356.85,613.37 L357.11,613.37 L357.38,613.37 L357.64,613.37 L357.91,613.37 L358.18,613.38 L358.44,613.38 L358.71,613.38 L358.97,613.38 L359.24,613.38 L359.5,613.38 L359.77,613.38 L360.03,613.39 L360.3,613.39 L360.57,613.39 L360.83,613.39 L361.1,613.39 L361.36,613.39 L361.63,613.39 L361.89,613.39 L362.16,613.4 L362.42,613.4 L362.69,613.4 L362.95,613.4 L363.22,613.4 L363.49,613.4 L363.75,613.4 L364.02,613.41 L364.28,613.41 L364.55,613.41 L364.81,613.41 L365.08,613.41 L365.34,613.41 L365.61,613.41 L365.88,613.41 L366.14,613.42 L366.41,613.42 L366.67,613.42 L366.94,613.42 L367.2,613.42 L367.47,613.42 L367.73,613.42 L368,613.43 L368.26,613.43 L368.53,613.43 L368.8,613.43 L369.06,613.43 L369.33,613.43 L369.59,613.43 L369.86,613.43 L370.12,613.44 L370.39,613.44 L370.65,613.44 L370.92,613.44 L371.19,613.62 L371.45,614.07 L371.72,614.74 L371.98,615.6 L372.25,616.63 L372.51,617.82 L372.78,619.15 L373.04,620.59 L373.31,622.14 L373.57,623.77 L373.84,625.48 L374.11,627.24 L374.37,629.05 L374.64,630.88 L374.9,632.73 L375.17,634.58 L375.43,636.43 L375.7,638.25 L375.96,640.05 L376.23,641.82 L376.5,643.54 L376.76,645.21 L377.03,646.82 L377.29,648.38 L377.56,649.87 L377.82,651.3 L378.09,652.66 L378.35,653.95 L378.62,655.17 L378.88,656.31 L379.15,657.39 L379.42,658.4 L379.68,659.34 L379.95,660.22 L380.21,661.03 L380.48,661.78 L380.74,662.47 L381.01,663.11 L381.27,663.69 L381.54,664.23 L381.81,664.71 L382.07,665.15 L382.34,665.55 L382.6,665.92 L382.87,666.24 L383.13,666.54 L383.4,666.8 L383.66,667.04 L383.93,667.25 L384.19,667.44 L384.46,667.61 L384.73,667.75 L384.99,667.89 L385.26,668 L385.52,668.1 L385.79,668.19 L386.05,668.27 L386.32,668.34 L386.58,668.4 L386.85,668.46 L387.12,668.5 L387.38,668.54 L387.65,668.58 L387.91,668.61 L388.18,668.63 L388.44,668.66 L388.71,668.68 L388.97,668.69 L389.24,668.71 L389.5,668.72 L389.77,668.73 L390.04,668.74 L390.3,668.75 L390.57,668.76 L390.83,668.77 L391.1,668.77 L391.36,668.78 L391.63,668.78 L391.89,668.79 L392.16,668.79 L394.28,668.81 L396.41,668.83 L398.53,668.85 L400.66,668.86 L402.78,668.88 L404.9,668.9 L407.03,668.91 L409.15,668.93 L411.28,668.94 L413.4,668.96 L415.52,668.98 L417.65,668.99 L419.77,669.01 L421.9,669.02 L424.02,669.04 L426.14,669.06 L428.27,669.07 L430.39,669.09 L432.52,669.1 L434.64,669.12" fill="none" stroke="#111" stroke-width="0.6" stroke-linejoin="round" />
<path d="M275.34,666.6 L305.08,667.2 L305.34,667.2 L305.61,667.2 L305.87,667.2 L306.14,667.2 L306.4,667.2 L306.67,667.2 L306.93,667.2 L307.2,667.2 L307.47,663.42 L307.73,660 L308,656.9 L308.26,654.1 L308.53,651.57 L308.79,649.27 L309.06,647.2 L309.32,645.32 L309.59,643.62 L309.85,642.08 L310.12,640.68 L310.39,639.42 L310.65,638.28 L310.92,637.25 L311.18,636.31 L311.45,635.47 L311.71,634.7 L311.98,634.01 L312.24,633.38 L312.51,632.81 L312.78,632.3 L313.04,631.83 L313.31,631.41 L313.57,631.02 L313.84,630.68 L314.1,630.36 L314.37,630.08 L314.63,629.82 L314.9,629.59 L315.16,629.38 L315.43,629.18 L315.7,629.01 L315.96,628.85 L316.23,628.71 L316.49,628.58 L316.76,628.46 L317.02,628.35 L317.29,628.26 L317.55,628.17 L317.82,628.09 L318.09,628.01 L318.35,627.95 L318.62,627.89 L318.88,627.83 L319.15,627.78 L319.41,627.73 L319.68,627.69 L319.94,627.65 L320.21,627.62 L320.47,627.59 L320.74,627.56 L321.01,627.53 L321.27,627.51 L321.54,627.48 L321.8,627.46 L322.07,627.44 L322.33,627.42 L322.6,627.41 L322.86,627.39 L323.13,627.38 L323.4,627.36 L323.66,627.35 L323.93,627.34 L324.19,627.33 L324.46,627.32 L324.72,627.31 L324.99,627.3 L325.25,627.29 L325.52,627.28 L325.78,627.28 L326.05,627.27 L326.32,627.26 L326.58,627.25 L326.85,627.25 L327.11,627.24 L327.38,627.24 L327.64,627.23 L327.91,627.22 L328.17,627.22 L328.44,627.21 L328.71,627.21 L328.97,627.2 L329.24,627.2 L329.5,627.19 L329.77,627.19 L330.03,627.18 L330.3,627.18 L330.56,627.17 L330.83,627.17 L331.09,627.16 L331.36,627.16 L331.63,627.16 L331.89,627.15 L332.16,627.15 L332.42,627.14 L332.69,627.14 L332.95,627.13 L333.22,627.13 L333.48,627.13 L333.75,627.12 L334.02,627.12 L334.28,627.11 L334.55,627.11 L334.81,627.11 L335.08,627.1 L335.34,627.1 L335.61,627.09 L335.87,627.09 L336.14,627.08 L336.4,627.08 L336.67,627.08 L336.94,627.07 L337.2,627.07 L337.47,627.06 L337.73,627.06 L338,627.06 L338.26,627.05 L338.53,627.05 L338.79,627.04 L339.06,627.04 L339.33,627.04 L339.59,627.03 L339.86,627.03 L340.12,627.02 L340.39,627.02 L340.65,627.02 L340.92,627.01 L341.18,627.01 L341.45,627 L341.71,627 L341.98,627 L342.25,626.99 L342.51,626.99 L342.78,626.98 L343.04,626.98 L343.31,626.98 L343.57,626.97 L343.84,626.97 L344.1,626.96 L344.37,626.96 L344.64,626.96 L344.9,626.95 L345.17,626.95 L345.43,626.94 L345.7,626.94 L345.96,626.94 L346.23,626.93 L346.49,626.93 L346.76,626.92 L347.02,626.92 L347.29,626.92 L347.56,626.91 L347.82,626.91 L348.09,626.9 L348.35,626.9 L348.62,626.9 L348.88,626.89 L349.15,626.89 L349.41,626.88 L349.68,626.88 L349.95,626.88 L350.21,626.87 L350.48,626.87 L350.74,626.86 L351.01,626.86 L351.27,626.86 L351.54,626.85 L351.8,626.85 L352.07,626.84 L352.33,626.84 L352.6,626.84 L352.87,626.83 L353.13,626.83 L353.4,626.82 L353.66,626.82 L353.93,626.82 L354.19,626.81 L354.46,626.81 L354.72,626.8 L354.99,626.8 L355.26,626.8 L355.52,626.79 L355.79,626.79 L356.05,626.78 L356.32,626.78 L356.58,626.78 L356.85,626.77 L357.11,626.77 L357.38,626.76 L357.64,626.76 L357.91,626.76 L358.18,626.75 L358.44,626.75 L358.71,626.74 L358.97,626.74 L359.24,626.74 L359.5,626.73 L359.77,626.73 L360.03,626.72 L360.3,626.72 L360.57,626.72 L360.83,626.71 L361.1,626.71 L361.36,626.7 L361.63,626.7 L361.89,626.7 L362.16,626.69 L362.42,626.69 L362.69,626.68 L362.95,626.68 L363.22,626.68 L363.49,626.67 L363.75,626.67 L364.02,626.66 L364.28,626.66 L364.55,626.66 L364.81,626.65 L365.08,626.65 L365.34,626.64 L365.61,626.64 L365.88,626.64 L366.14,626.63 L366.41,626.63 L366.67,626.62 L366.94,626.62 L367.2,626.62 L367.47,626.61 L367.73,626.61 L368,626.6 L368.26,626.6 L368.53,626.6 L368.8,626.59 L369.06,626.59 L369.33,626.58 L369.59,626.58 L369.86,626.58 L370.12,626.57 L370.39,626.57 L370.65,626.56 L370.92,626.56 L371.19,626.7 L371.45,627.04 L371.72,627.55 L371.98,628.21 L372.25,629 L372.51,629.9 L372.78,630.91 L373.04,632.02 L373.31,633.2 L373.57,634.44 L373.84,635.74 L374.11,637.09 L374.37,638.46 L374.64,639.86 L374.9,641.27 L375.17,642.69 L375.43,644.09 L375.7,645.49 L375.96,646.86 L376.23,648.2 L376.5,649.51 L376.76,650.79 L377.03,652.02 L377.29,653.21 L377.56,654.35 L377.82,655.43 L378.09,656.47 L378.35,657.45 L378.62,658.38 L378.88,659.26 L379.15,660.08 L379.42,660.85 L379.68,661.57 L379.95,662.23 L380.21,662.85 L380.48,663.43 L380.74,663.96 L381.01,664.44 L381.27,664.89 L381.54,665.29 L381.81,665.66 L382.07,666 L382.34,666.31 L382.6,666.59 L382.87,666.83 L383.13,667.06 L383.4,667.26 L383.66,667.44 L383.93,667.6 L384.19,667.75 L384.46,667.88 L384.73,667.99 L384.99,668.09 L385.26,668.18 L385.52,668.26 L385.79,668.33 L386.05,668.39 L386.32,668.44 L386.58,668.49 L386.85,668.53 L387.12,668.56 L387.38,668.6 L387.65,668.62 L387.91,668.65 L388.18,668.67 L388.44,668.68 L388.71,668.7 L388.97,668.71 L389.24,668.73 L389.5,668.74 L389.77,668.75 L390.04,668.75 L390.3,668.76 L390.57,668.77 L390.83,668.77 L391.1,668.78 L391.36,668.78 L391.63,668.79 L391.89,668.79 L392.16,668.79 L394.28,668.81 L396.41,668.83 L398.53,668.85 L400.66,668.86 L402.78,668.88 L404.9,668.9 L407.03,668.91 L409.15,668.93 L411.28,668.94 L413.4,668.96 L415.52,668.98 L417.65,668.99 L419.77,669.01 L421.9,669.02 L424.02,669.04 L426.14,669.06 L428.27,669.07 L430.39,669.09 L432.52,669.1 L434.64,669.12" fill="none" stroke="#111" stroke-width="0.6" stroke-linejoin="round" />
<path d="M275.34,666.6 L305.08,667.2 L305.34,667.2 L305.61,667.2 L305.87,667.2 L306.14,667.2 L306.4,667.2 L306.67,667.2 L306.93,667.2 L307.2,667.2 L307.47,665.45 L307.73,663.81 L308,662.29 L308.26,660.87 L308.53,659.56 L308.79,658.33 L309.06,657.19 L309.32,656.12 L309.59,655.13 L309.85,654.21 L310.12,653.35 L310.39,652.55 L310.65,651.8 L310.92,651.11 L311.18,650.46 L311.45,649.86 L311.71,649.3 L311.98,648.78 L312.24,648.3 L312.51,647.84 L312.78,647.42 L313.04,647.03 L313.31,646.67 L313.57,646.33 L313.84,646.01 L314.1,645.71 L314.37,645.44 L314.63,645.18 L314.9,644.95 L315.16,644.72 L315.43,644.52 L315.7,644.33 L315.96,644.15 L316.23,643.98 L316.49,643.82 L316.76,643.68 L317.02,643.55 L317.29,643.42 L317.55,643.3 L317.82,643.19 L318.09,643.09 L318.35,643 L318.62,642.91 L318.88,642.83 L319.15,642.75 L319.41,642.68 L319.68,642.61 L319.94,642.55 L320.21,642.5 L320.47,642.44 L320.74,642.39 L321.01,642.35 L321.27,642.3 L321.54,642.26 L321.8,642.22 L322.07,642.19 L322.33,642.16 L322.6,642.13 L322.86,642.1 L323.13,642.07 L323.4,642.05 L323.66,642.02 L323.93,642 L324.19,641.98 L324.46,641.96 L324.72,641.94 L324.99,641.93 L325.25,641.91 L325.52,641.9 L325.78,641.88 L326.05,641.87 L326.32,641.86 L326.58,641.85 L326.85,641.84 L327.11,641.83 L327.38,641.82 L327.64,641.81 L327.91,641.8 L328.17,641.8 L328.44,641.79 L328.71,641.78 L328.97,641.78 L329.24,641.77 L329.5,641.77 L329.77,641.76 L330.03,641.76 L330.3,641.75 L330.56,641.75 L330.83,641.74 L331.09,641.74 L331.36,641.74 L331.63,641.73 L331.89,641.73 L332.16,641.73 L332.42,641.73 L332.69,641.72 L332.95,641.72 L333.22,641.72 L333.48,641.72 L333.75,641.71 L334.02,641.71 L334.28,641.71 L334.55,641.71 L334.81,641.71 L335.08,641.7 L335.34,641.7 L335.61,641.7 L335.87,641.7 L336.14,641.7 L336.4,641.7 L336.67,641.7 L336.94,641.69 L337.2,641.69 L337.47,641.69 L337.73,641.69 L338,641.69 L338.26,641.69 L338.53,641.69 L338.79,641.69 L339.06,641.68 L339.33,641.68 L339.59,641.68 L339.86,641.68 L340.12,641.68 L340.39,641.68 L340.65,641.68 L340.92,641.68 L341.18,641.68 L341.45,641.68 L341.71,641.68 L341.98,641.67 L342.25,641.67 L342.51,641.67 L342.78,641.67 L343.04,641.67 L343.31,641.67 L343.57,641.67 L343.84,641.67 L344.1,641.67 L344.37,641.67 L344.64,641.67 L344.9,641.67 L345.17,641.67 L345.43,641.66 L345.7,641.66 L345.96,641.66 L346.23,641.66 L346.49,641.66 L346.76,641.66 L347.02,641.66 L347.29,641.66 L347.56,641.66 L347.82,641.66 L348.09,641.66 L348.35,641.66 L348.62,641.66 L348.88,641.66 L349.15,641.65 L349.41,641.65 L349.68,641.65 L349.95,641.65 L350.21,641.65 L350.48,641.65 L350.74,641.65 L351.01,641.65 L351.27,641.65 L351.54,641.65 L351.8,641.65 L352.07,641.65 L352.33,641.65 L352.6,641.65 L352.87,641.65 L353.13,641.64 L353.4,641.64 L353.66,641.64 L353.93,641.64 L354.19,641.64 L354.46,641.64 L354.72,641.64 L354.99,641.64 L355.26,641.64 L355.52,641.64 L355.79,641.64 L356.05,641.64 L356.32,641.64 L356.58,641.64 L356.85,641.64 L357.11,641.63 L357.38,641.63 L357.64,641.63 L357.91,641.63 L358.18,641.63 L358.44,641.63 L358.71,641.63 L358.97,641.63 L359.24,641.63 L359.5,641.63 L359.77,641.63 L360.03,641.63 L360.3,641.63 L360.57,641.63 L360.83,641.63 L361.1,641.62 L361.36,641.62 L361.63,641.62 L361.89,641.62 L362.16,641.62 L362.42,641.62 L362.69,641.62 L362.95,641.62 L363.22,641.62 L363.49,641.62 L363.75,641.62 L364.02,641.62 L364.28,641.62 L364.55,641.62 L364.81,641.62 L365.08,641.61 L365.34,641.61 L365.61,641.61 L365.88,641.61 L366.14,641.61 L366.41,641.61 L366.67,641.61 L366.94,641.61 L367.2,641.61 L367.47,641.61 L367.73,641.61 L368,641.61 L368.26,641.61 L368.53,641.61 L368.8,641.61 L369.06,641.6 L369.33,641.6 L369.59,641.6 L369.86,641.6 L370.12,641.6 L370.39,641.6 L370.65,641.6 L370.92,641.6 L371.19,641.69 L371.45,641.91 L371.72,642.24 L371.98,642.66 L372.25,643.17 L372.51,643.75 L372.78,644.4 L373.04,645.11 L373.31,645.87 L373.57,646.67 L373.84,647.51 L374.11,648.37 L374.37,649.26 L374.64,650.16 L374.9,651.06 L375.17,651.97 L375.43,652.88 L375.7,653.77 L375.96,654.66 L376.23,655.52 L376.5,656.37 L376.76,657.18 L377.03,657.98 L377.29,658.74 L377.56,659.47 L377.82,660.17 L378.09,660.84 L378.35,661.47 L378.62,662.07 L378.88,662.63 L379.15,663.16 L379.42,663.66 L379.68,664.12 L379.95,664.55 L380.21,664.95 L380.48,665.32 L380.74,665.66 L381.01,665.97 L381.27,666.26 L381.54,666.52 L381.81,666.76 L382.07,666.97 L382.34,667.17 L382.6,667.35 L382.87,667.51 L383.13,667.66 L383.4,667.79 L383.66,667.9 L383.93,668.01 L384.19,668.1 L384.46,668.19 L384.73,668.26 L384.99,668.32 L385.26,668.38 L385.52,668.43 L385.79,668.48 L386.05,668.52 L386.32,668.55 L386.58,668.58 L386.85,668.61 L387.12,668.63 L387.38,668.66 L387.65,668.67 L387.91,668.69 L388.18,668.7 L388.44,668.72 L388.71,668.73 L388.97,668.74 L389.24,668.74 L389.5,668.75 L389.77,668.76 L390.04,668.76 L390.3,668.77 L390.57,668.77 L390.83,668.78 L391.1,668.78 L391.36,668.79 L391.63,668.79 L391.89,668.79 L392.16,668.8 L394.28,668.82 L396.41,668.83 L398.53,668.85 L400.66,668.86 L402.78,668.88 L404.9,668.9 L407.03,668.91 L409.15,668.93 L411.28,668.94 L413.4,668.96 L415.52,668.98 L417.65,668.99 L419.77,669.01 L421.9,669.02 L424.02,669.04 L426.14,669.06 L428.27,669.07 L430.39,669.09 L432.52,669.1 L434.64,669.12" fill="none" stroke="#111" stroke-width="0.6" stroke-linejoin="round" />
<path d="M275.34,666.6 L305.08,667.2 L305.34,667.2 L305.61,667.2 L305.87,667.2 L306.14,667.2 L306.4,667.2 L306.67,667.2 L306.93,667.2 L307.2,667.2 L307.47,666.34 L307.73,665.52 L308,664.76 L308.26,664.04 L308.53,663.36 L308.79,662.72 L309.06,662.11 L309.32,661.54 L309.59,661 L309.85,660.5 L310.12,660.02 L310.39,659.57 L310.65,659.15 L310.92,658.75 L311.18,658.37 L311.45,658.02 L311.71,657.68 L311.98,657.37 L312.24,657.07 L312.51,656.79 L312.78,656.53 L313.04,656.28 L313.31,656.04 L313.57,655.82 L313.84,655.61 L314.1,655.42 L314.37,655.23 L314.63,655.06 L314.9,654.89 L315.16,654.74 L315.43,654.59 L315.7,654.45 L315.96,654.32 L316.23,654.2 L316.49,654.08 L316.76,653.97 L317.02,653.87 L317.29,653.77 L317.55,653.68 L317.82,653.59 L318.09,653.51 L318.35,653.43 L318.62,653.36 L318.88,653.29 L319.15,653.22 L319.41,653.16 L319.68,653.1 L319.94,653.05 L320.21,652.99 L320.47,652.95 L320.74,652.9 L321.01,652.85 L321.27,652.81 L321.54,652.77 L321.8,652.74 L322.07,652.7 L322.33,652.67 L322.6,652.64 L322.86,652.61 L323.13,652.58 L323.4,652.55 L323.66,652.53 L323.93,652.5 L324.19,652.48 L324.46,652.46 L324.72,652.44 L324.99,652.42 L325.25,652.4 L325.52,652.38 L325.78,652.36 L326.05,652.35 L326.32,652.33 L326.58,652.32 L326.85,652.3 L327.11,652.29 L327.38,652.28 L327.64,652.27 L327.91,652.26 L328.17,652.24 L328.44,652.23 L328.71,652.22 L328.97,652.21 L329.24,652.21 L329.5,652.2 L329.77,652.19 L330.03,652.18 L330.3,652.17 L330.56,652.16 L330.83,652.16 L331.09,652.15 L331.36,652.14 L331.63,652.14 L331.89,652.13 L332.16,652.12 L332.42,652.12 L332.69,652.11 L332.95,652.11 L333.22,652.1 L333.48,652.1 L333.75,652.09 L334.02,652.09 L334.28,652.08 L334.55,652.08 L334.81,652.07 L335.08,652.07 L335.34,652.06 L335.61,652.06 L335.87,652.06 L336.14,652.05 L336.4,652.05 L336.67,652.04 L336.94,652.04 L337.2,652.04 L337.47,652.03 L337.73,652.03 L338,652.03 L338.26,652.02 L338.53,652.02 L338.79,652.02 L339.06,652.01 L339.33,652.01 L339.59,652.01 L339.86,652 L340.12,652 L340.39,652 L340.65,651.99 L340.92,651.99 L341.18,651.99 L341.45,651.98 L341.71,651.98 L341.98,651.98 L342.25,651.97 L342.51,651.97 L342.78,651.97 L343.04,651.96 L343.31,651.96 L343.57,651.96 L343.84,651.96 L344.1,651.95 L344.37,651.95 L344.64,651.95 L344.9,651.94 L345.17,651.94 L345.43,651.94 L345.7,651.94 L345.96,651.93 L346.23,651.93 L346.49,651.93 L346.76,651.92 L347.02,651.92 L347.29,651.92 L347.56,651.92 L347.82,651.91 L348.09,651.91 L348.35,651.91 L348.62,651.91 L348.88,651.9 L349.15,651.9 L349.41,651.9 L349.68,651.89 L349.95,651.89 L350.21,651.89 L350.48,651.89 L350.74,651.88 L351.01,651.88 L351.27,651.88 L351.54,651.88 L351.8,651.87 L352.07,651.87 L352.33,651.87 L352.6,651.86 L352.87,651.86 L353.13,651.86 L353.4,651.86 L353.66,651.85 L353.93,651.85 L354.19,651.85 L354.46,651.85 L354.72,651.84 L354.99,651.84 L355.26,651.84 L355.52,651.83 L355.79,651.83 L356.05,651.83 L356.32,651.83 L356.58,651.82 L356.85,651.82 L357.11,651.82 L357.38,651.82 L357.64,651.81 L357.91,651.81 L358.18,651.81 L358.44,651.81 L358.71,651.8 L358.97,651.8 L359.24,651.8 L359.5,651.79 L359.77,651.79 L360.03,651.79 L360.3,651.79 L360.57,651.78 L360.83,651.78 L361.1,651.78 L361.36,651.78 L361.63,651.77 L361.89,651.77 L362.16,651.77 L362.42,651.77 L362.69,651.76 L362.95,651.76 L363.22,651.76 L363.49,651.75 L363.75,651.75 L364.02,651.75 L364.28,651.75 L364.55,651.74 L364.81,651.74 L365.08,651.74 L365.34,651.74 L365.61,651.73 L365.88,651.73 L366.14,651.73 L366.41,651.73 L366.67,651.72 L366.94,651.72 L367.2,651.72 L367.47,651.71 L367.73,651.71 L368,651.71 L368.26,651.71 L368.53,651.7 L368.8,651.7 L369.06,651.7 L369.33,651.7 L369.59,651.69 L369.86,651.69 L370.12,651.69 L370.39,651.69 L370.65,651.68 L370.92,651.68 L371.19,651.74 L371.45,651.88 L371.72,652.08 L371.98,652.35 L372.25,652.67 L372.51,653.03 L372.78,653.44 L373.04,653.89 L373.31,654.37 L373.57,654.87 L373.84,655.39 L374.11,655.94 L374.37,656.49 L374.64,657.06 L374.9,657.63 L375.17,658.2 L375.43,658.77 L375.7,659.33 L375.96,659.88 L376.23,660.43 L376.5,660.96 L376.76,661.47 L377.03,661.97 L377.29,662.45 L377.56,662.91 L377.82,663.35 L378.09,663.77 L378.35,664.16 L378.62,664.54 L378.88,664.89 L379.15,665.23 L379.42,665.54 L379.68,665.83 L379.95,666.1 L380.21,666.35 L380.48,666.58 L380.74,666.8 L381.01,666.99 L381.27,667.17 L381.54,667.34 L381.81,667.49 L382.07,667.63 L382.34,667.75 L382.6,667.86 L382.87,667.97 L383.13,668.06 L383.4,668.14 L383.66,668.21 L383.93,668.28 L384.19,668.34 L384.46,668.39 L384.73,668.44 L384.99,668.48 L385.26,668.52 L385.52,668.55 L385.79,668.58 L386.05,668.61 L386.32,668.63 L386.58,668.65 L386.85,668.67 L387.12,668.68 L387.38,668.7 L387.65,668.71 L387.91,668.72 L388.18,668.73 L388.44,668.74 L388.71,668.74 L388.97,668.75 L389.24,668.76 L389.5,668.76 L389.77,668.77 L390.04,668.77 L390.3,668.78 L390.57,668.78 L390.83,668.78 L391.1,668.79 L391.36,668.79 L391.63,668.79 L391.89,668.79 L392.16,668.8 L394.28,668.82 L396.41,668.83 L398.53,668.85 L400.66,668.86 L402.78,668.88 L404.9,668.9 L407.03,668.91 L409.15,668.93 L411.28,668.94 L413.4,668.96 L415.52,668.98 L417.65,668.99 L419.77,669.01 L421.9,669.02 L424.02,669.04 L426.14,669.06 L428.27,669.07 L430.39,669.09 L432.52,669.1 L434.64,669.12" fill="none" stroke="#111" stroke-width="0.6" stroke-linejoin="round" />
<path d="M275.34,666.6 L305.08,667.2 L305.34,667.2 L305.61,667.2 L305.87,667.2 L306.14,667.2 L306.4,667.2 L306.67,667.2 L306.93,667.2 L307.2,667.2 L307.47,666.84 L307.73,666.49 L308,666.16 L308.26,665.85 L308.53,665.55 L308.79,665.26 L309.06,664.98 L309.32,664.72 L309.59,664.47 L309.85,664.22 L310.12,663.99 L310.39,663.77 L310.65,663.56 L310.92,663.36 L311.18,663.17 L311.45,662.98 L311.71,662.8 L311.98,662.63 L312.24,662.47 L312.51,662.32 L312.78,662.17 L313.04,662.03 L313.31,661.89 L313.57,661.76 L313.84,661.63 L314.1,661.52 L314.37,661.4 L314.63,661.29 L314.9,661.19 L315.16,661.09 L315.43,660.99 L315.7,660.9 L315.96,660.81 L316.23,660.72 L316.49,660.64 L316.76,660.57 L317.02,660.49 L317.29,660.42 L317.55,660.35 L317.82,660.29 L318.09,660.22 L318.35,660.16 L318.62,660.1 L318.88,660.05 L319.15,659.99 L319.41,659.94 L319.68,659.89 L319.94,659.85 L320.21,659.8 L320.47,659.76 L320.74,659.72 L321.01,659.68 L321.27,659.64 L321.54,659.6 L321.8,659.56 L322.07,659.53 L322.33,659.5 L322.6,659.46 L322.86,659.43 L323.13,659.4 L323.4,659.37 L323.66,659.35 L323.93,659.32 L324.19,659.29 L324.46,659.27 L324.72,659.25 L324.99,659.22 L325.25,659.2 L325.52,659.18 L325.78,659.16 L326.05,659.14 L326.32,659.12 L326.58,659.1 L326.85,659.08 L327.11,659.06 L327.38,659.05 L327.64,659.03 L327.91,659.01 L328.17,659 L328.44,658.98 L328.71,658.97 L328.97,658.96 L329.24,658.94 L329.5,658.93 L329.77,658.91 L330.03,658.9 L330.3,658.89 L330.56,658.88 L330.83,658.87 L331.09,658.85 L331.36,658.84 L331.63,658.83 L331.89,658.82 L332.16,658.81 L332.42,658.8 L332.69,658.79 L332.95,658.78 L333.22,658.77 L333.48,658.76 L333.75,658.75 L334.02,658.74 L334.28,658.73 L334.55,658.72 L334.81,658.72 L335.08,658.71 L335.34,658.7 L335.61,658.69 L335.87,658.68 L336.14,658.68 L336.4,658.67 L336.67,658.66 L336.94,658.65 L337.2,658.64 L337.47,658.64 L337.73,658.63 L338,658.62 L338.26,658.62 L338.53,658.61 L338.79,658.6 L339.06,658.59 L339.33,658.59 L339.59,658.58 L339.86,658.57 L340.12,658.57 L340.39,658.56 L340.65,658.55 L340.92,658.55 L341.18,658.54 L341.45,658.53 L341.71,658.53 L341.98,658.52 L342.25,658.52 L342.51,658.51 L342.78,658.5 L343.04,658.5 L343.31,658.49 L343.57,658.49 L343.84,658.48 L344.1,658.47 L344.37,658.47 L344.64,658.46 L344.9,658.46 L345.17,658.45 L345.43,658.44 L345.7,658.44 L345.96,658.43 L346.23,658.43 L346.49,658.42 L346.76,658.41 L347.02,658.41 L347.29,658.4 L347.56,658.4 L347.82,658.39 L348.09,658.39 L348.35,658.38 L348.62,658.37 L348.88,658.37 L349.15,658.36 L349.41,658.36 L349.68,658.35 L349.95,658.35 L350.21,658.34 L350.48,658.34 L350.74,658.33 L351.01,658.32 L351.27,658.32 L351.54,658.31 L351.8,658.31 L352.07,658.3 L352.33,658.3 L352.6,658.29 L352.87,658.29 L353.13,658.28 L353.4,658.27 L353.66,658.27 L353.93,658.26 L354.19,658.26 L354.46,658.25 L354.72,658.25 L354.99,658.24 L355.26,658.24 L355.52,658.23 L355.79,658.23 L356.05,658.22 L356.32,658.22 L356.58,658.21 L356.85,658.2 L357.11,658.2 L357.38,658.19 L357.64,658.19 L357.91,658.18 L358.18,658.18 L358.44,658.17 L358.71,658.17 L358.97,658.16 L359.24,658.16 L359.5,658.15 L359.77,658.14 L360.03,658.14 L360.3,658.13 L360.57,658.13 L360.83,658.12 L361.1,658.12 L361.36,658.11 L361.63,658.11 L361.89,658.1 L362.16,658.1 L362.42,658.09 L362.69,658.09 L362.95,658.08 L363.22,658.08 L363.49,658.07 L363.75,658.06 L364.02,658.06 L364.28,658.05 L364.55,658.05 L364.81,658.04 L365.08,658.04 L365.34,658.03 L365.61,658.03 L365.88,658.02 L366.14,658.02 L366.41,658.01 L366.67,658.01 L366.94,658 L367.2,657.99 L367.47,657.99 L367.73,657.98 L368,657.98 L368.26,657.97 L368.53,657.97 L368.8,657.96 L369.06,657.96 L369.33,657.95 L369.59,657.95 L369.86,657.94 L370.12,657.94 L370.39,657.93 L370.65,657.93 L370.92,657.92 L371.19,657.96 L371.45,658.05 L371.72,658.18 L371.98,658.35 L372.25,658.55 L372.51,658.78 L372.78,659.04 L373.04,659.32 L373.31,659.62 L373.57,659.94 L373.84,660.28 L374.11,660.62 L374.37,660.97 L374.64,661.33 L374.9,661.69 L375.17,662.05 L375.43,662.41 L375.7,662.77 L375.96,663.12 L376.23,663.46 L376.5,663.8 L376.76,664.13 L377.03,664.44 L377.29,664.74 L377.56,665.04 L377.82,665.31 L378.09,665.58 L378.35,665.83 L378.62,666.07 L378.88,666.29 L379.15,666.51 L379.42,666.7 L379.68,666.89 L379.95,667.06 L380.21,667.22 L380.48,667.37 L380.74,667.5 L381.01,667.63 L381.27,667.74 L381.54,667.85 L381.81,667.94 L382.07,668.03 L382.34,668.11 L382.6,668.18 L382.87,668.25 L383.13,668.31 L383.4,668.36 L383.66,668.41 L383.93,668.45 L384.19,668.49 L384.46,668.52 L384.73,668.55 L384.99,668.58 L385.26,668.6 L385.52,668.62 L385.79,668.64 L386.05,668.66 L386.32,668.68 L386.58,668.69 L386.85,668.7 L387.12,668.71 L387.38,668.72 L387.65,668.73 L387.91,668.74 L388.18,668.74 L388.44,668.75 L388.71,668.76 L388.97,668.76 L389.24,668.76 L389.5,668.77 L389.77,668.77 L390.04,668.78 L390.3,668.78 L390.57,668.78 L390.83,668.79 L391.1,668.79 L391.36,668.79 L391.63,668.79 L391.89,668.8 L392.16,668.8 L394.28,668.82 L396.41,668.83 L398.53,668.85 L400.66,668.86 L402.78,668.88 L404.9,668.9 L407.03,668.91 L409.15,668.93 L411.28,668.94 L413.4,668.96 L415.52,668.98 L417.65,668.99 L419.77,669.01 L421.9,669.02 L424.02,669.04 L426.14,669.06 L428.27,669.07 L430.39,669.09 L432.52,669.1 L434.64,669.12" fill="none" stroke="#111" stroke-width="0.6" stroke-linejoin="round" />
<path d="M275.34,666.6 L305.08,667.2 L305.34,667.2 L305.61,667.2 L305.87,667.2 L306.14,667.2 L306.4,667.2 L306.67,667.2 L306.93,667.2 L307.2,667.2 L307.47,666.97 L307.73,666.76 L308,666.55 L308.26,666.36 L308.53,666.17 L308.79,665.99 L309.06,665.83 L309.32,665.66 L309.59,665.51 L309.85,665.37 L310.12,665.23 L310.39,665.1 L310.65,664.97 L310.92,664.85 L311.18,664.74 L311.45,664.63 L311.71,664.53 L311.98,664.43 L312.24,664.34 L312.51,664.25 L312.78,664.17 L313.04,664.09 L313.31,664.01 L313.57,663.94 L313.84,663.87 L314.1,663.81 L314.37,663.74 L314.63,663.69 L314.9,663.63 L315.16,663.58 L315.43,663.52 L315.7,663.48 L315.96,663.43 L316.23,663.38 L316.49,663.34 L316.76,663.3 L317.02,663.26 L317.29,663.23 L317.55,663.19 L317.82,663.16 L318.09,663.13 L318.35,663.1 L318.62,663.07 L318.88,663.04 L319.15,663.02 L319.41,662.99 L319.68,662.97 L319.94,662.95 L320.21,662.93 L320.47,662.91 L320.74,662.89 L321.01,662.87 L321.27,662.85 L321.54,662.84 L321.8,662.82 L322.07,662.8 L322.33,662.79 L322.6,662.78 L322.86,662.76 L323.13,662.75 L323.4,662.74 L323.66,662.73 L323.93,662.72 L324.19,662.71 L324.46,662.7 L324.72,662.69 L324.99,662.68 L325.25,662.67 L325.52,662.66 L325.78,662.65 L326.05,662.65 L326.32,662.64 L326.58,662.63 L326.85,662.63 L327.11,662.62 L327.38,662.61 L327.64,662.61 L327.91,662.6 L328.17,662.6 L328.44,662.59 L328.71,662.59 L328.97,662.58 L329.24,662.58 L329.5,662.57 L329.77,662.57 L330.03,662.57 L330.3,662.56 L330.56,662.56 L330.83,662.55 L331.09,662.55 L331.36,662.55 L331.63,662.55 L331.89,662.54 L332.16,662.54 L332.42,662.54 L332.69,662.53 L332.95,662.53 L333.22,662.53 L333.48,662.53 L333.75,662.52 L334.02,662.52 L334.28,662.52 L334.55,662.52 L334.81,662.52 L335.08,662.51 L335.34,662.51 L335.61,662.51 L335.87,662.51 L336.14,662.51 L336.4,662.51 L336.67,662.5 L336.94,662.5 L337.2,662.5 L337.47,662.5 L337.73,662.5 L338,662.5 L338.26,662.5 L338.53,662.49 L338.79,662.49 L339.06,662.49 L339.33,662.49 L339.59,662.49 L339.86,662.49 L340.12,662.49 L340.39,662.49 L340.65,662.48 L340.92,662.48 L341.18,662.48 L341.45,662.48 L341.71,662.48 L341.98,662.48 L342.25,662.48 L342.51,662.48 L342.78,662.48 L343.04,662.48 L343.31,662.47 L343.57,662.47 L343.84,662.47 L344.1,662.47 L344.37,662.47 L344.64,662.47 L344.9,662.47 L345.17,662.47 L345.43,662.47 L345.7,662.47 L345.96,662.47 L346.23,662.46 L346.49,662.46 L346.76,662.46 L347.02,662.46 L347.29,662.46 L347.56,662.46 L347.82,662.46 L348.09,662.46 L348.35,662.46 L348.62,662.46 L348.88,662.46 L349.15,662.46 L349.41,662.46 L349.68,662.45 L349.95,662.45 L350.21,662.45 L350.48,662.45 L350.74,662.45 L351.01,662.45 L351.27,662.45 L351.54,662.45 L351.8,662.45 L352.07,662.45 L352.33,662.45 L352.6,662.45 L352.87,662.45 L353.13,662.45 L353.4,662.44 L353.66,662.44 L353.93,662.44 L354.19,662.44 L354.46,662.44 L354.72,662.44 L354.99,662.44 L355.26,662.44 L355.52,662.44 L355.79,662.44 L356.05,662.44 L356.32,662.44 L356.58,662.44 L356.85,662.44 L357.11,662.44 L357.38,662.43 L357.64,662.43 L357.91,662.43 L358.18,662.43 L358.44,662.43 L358.71,662.43 L358.97,662.43 L359.24,662.43 L359.5,662.43 L359.77,662.43 L360.03,662.43 L360.3,662.43 L360.57,662.43 L360.83,662.43 L361.1,662.42 L361.36,662.42 L361.63,662.42 L361.89,662.42 L362.16,662.42 L362.42,662.42 L362.69,662.42 L362.95,662.42 L363.22,662.42 L363.49,662.42 L363.75,662.42 L364.02,662.42 L364.28,662.42 L364.55,662.42 L364.81,662.42 L365.08,662.41 L365.34,662.41 L365.61,662.41 L365.88,662.41 L366.14,662.41 L366.41,662.41 L366.67,662.41 L366.94,662.41 L367.2,662.41 L367.47,662.41 L367.73,662.41 L368,662.41 L368.26,662.41 L368.53,662.41 L368.8,662.41 L369.06,662.4 L369.33,662.4 L369.59,662.4 L369.86,662.4 L370.12,662.4 L370.39,662.4 L370.65,662.4 L370.92,662.4 L371.19,662.42 L371.45,662.47 L371.72,662.55 L371.98,662.65 L372.25,662.77 L372.51,662.91 L372.78,663.06 L373.04,663.22 L373.31,663.4 L373.57,663.59 L373.84,663.78 L374.11,663.98 L374.37,664.19 L374.64,664.4 L374.9,664.61 L375.17,664.82 L375.43,665.03 L375.7,665.24 L375.96,665.44 L376.23,665.64 L376.5,665.84 L376.76,666.03 L377.03,666.21 L377.29,666.39 L377.56,666.56 L377.82,666.73 L378.09,666.88 L378.35,667.03 L378.62,667.17 L378.88,667.3 L379.15,667.42 L379.42,667.54 L379.68,667.65 L379.95,667.75 L380.21,667.84 L380.48,667.93 L380.74,668.01 L381.01,668.08 L381.27,668.15 L381.54,668.21 L381.81,668.27 L382.07,668.32 L382.34,668.37 L382.6,668.41 L382.87,668.45 L383.13,668.48 L383.4,668.52 L383.66,668.54 L383.93,668.57 L384.19,668.59 L384.46,668.61 L384.73,668.63 L384.99,668.65 L385.26,668.66 L385.52,668.68 L385.79,668.69 L386.05,668.7 L386.32,668.71 L386.58,668.72 L386.85,668.73 L387.12,668.73 L387.38,668.74 L387.65,668.74 L387.91,668.75 L388.18,668.75 L388.44,668.76 L388.71,668.76 L388.97,668.77 L389.24,668.77 L389.5,668.77 L389.77,668.78 L390.04,668.78 L390.3,668.78 L390.57,668.78 L390.83,668.79 L391.1,668.79 L391.36,668.79 L391.63,668.79 L391.89,668.8 L392.16,668.8 L394.28,668.82 L396.41,668.83 L398.53,668.85 L400.66,668.86 L402.78,668.88 L404.9,668.9 L407.03,668.91 L409.15,668.93 L411.28,668.94 L413.4,668.96 L415.52,668.98 L417.65,668.99 L419.77,669.01 L421.9,669.02 L424.02,669.04 L426.14,669.06 L428.27,669.07 L430.39,669.09 L432.52,669.1 L434.64,669.12" fill="none" stroke="#111" stroke-width="0.6" stroke-linejoin="round" />
<line x1="275.3" y1="570.5" x2="275.3" y2="682.9" stroke="#000" stroke-width="1.2" />
<line x1="274.7" y1="682.3" x2="434.9" y2="682.3" stroke="#000" stroke-width="1.2" />
<line x1="271.3" y1="682.6" x2="275.3" y2="682.6" stroke="#000" stroke-width="1.2" />
<text x="270.1" y="685.5" font-size="8.2" text-anchor="end" font-weight="normal" font-style="normal" fill="#000" >-10</text>
<line x1="271.3" y1="666.6" x2="275.3" y2="666.6" stroke="#000" stroke-width="1.2" />
<text x="270.1" y="669.5" font-size="8.2" text-anchor="end" font-weight="normal" font-style="normal" fill="#000" >0</text>
<line x1="271.3" y1="650.6" x2="275.3" y2="650.6" stroke="#000" stroke-width="1.2" />
<text x="270.1" y="653.5" font-size="8.2" text-anchor="end" font-weight="normal" font-style="normal" fill="#000" >10</text>
<line x1="271.3" y1="634.6" x2="275.3" y2="634.6" stroke="#000" stroke-width="1.2" />
<text x="270.1" y="637.5" font-size="8.2" text-anchor="end" font-weight="normal" font-style="normal" fill="#000" >20</text>
<line x1="271.3" y1="618.6" x2="275.3" y2="618.6" stroke="#000" stroke-width="1.2" />
<text x="270.1" y="621.5" font-size="8.2" text-anchor="end" font-weight="normal" font-style="normal" fill="#000" >30</text>
<line x1="271.3" y1="602.6" x2="275.3" y2="602.6" stroke="#000" stroke-width="1.2" />
<text x="270.1" y="605.5" font-size="8.2" text-anchor="end" font-weight="normal" font-style="normal" fill="#000" >40</text>
<line x1="271.3" y1="586.6" x2="275.3" y2="586.6" stroke="#000" stroke-width="1.2" />
<text x="270.1" y="589.5" font-size="8.2" text-anchor="end" font-weight="normal" font-style="normal" fill="#000" >50</text>
<line x1="271.3" y1="570.6" x2="275.3" y2="570.6" stroke="#000" stroke-width="1.2" />
<text x="270.1" y="573.5" font-size="8.2" text-anchor="end" font-weight="normal" font-style="normal" fill="#000" >60</text>
<line x1="275.34" y1="682.3" x2="275.34" y2="686.3" stroke="#000" stroke-width="1.2" />
<text x="275.34" y="695.6" font-size="8.2" text-anchor="middle" font-weight="normal" font-style="normal" fill="#000" >-30</text>
<line x1="291.27" y1="682.3" x2="291.27" y2="684.8" stroke="#000" stroke-width="1.1" />
<line x1="307.2" y1="682.3" x2="307.2" y2="686.3" stroke="#000" stroke-width="1.2" />
<text x="307.2" y="695.6" font-size="8.2" text-anchor="middle" font-weight="normal" font-style="normal" fill="#000" >0</text>
<line x1="323.13" y1="682.3" x2="323.13" y2="684.8" stroke="#000" stroke-width="1.1" />
<line x1="339.06" y1="682.3" x2="339.06" y2="686.3" stroke="#000" stroke-width="1.2" />
<text x="339.06" y="695.6" font-size="8.2" text-anchor="middle" font-weight="normal" font-style="normal" fill="#000" >30</text>
<line x1="354.99" y1="682.3" x2="354.99" y2="684.8" stroke="#000" stroke-width="1.1" />
<line x1="370.92" y1="682.3" x2="370.92" y2="686.3" stroke="#000" stroke-width="1.2" />
<text x="370.92" y="695.6" font-size="8.2" text-anchor="middle" font-weight="normal" font-style="normal" fill="#000" >60</text>
<line x1="386.85" y1="682.3" x2="386.85" y2="684.8" stroke="#000" stroke-width="1.1" />
<line x1="402.78" y1="682.3" x2="402.78" y2="686.3" stroke="#000" stroke-width="1.2" />
<text x="402.78" y="695.6" font-size="8.2" text-anchor="middle" font-weight="normal" font-style="normal" fill="#000" >90</text>
<line x1="418.71" y1="682.3" x2="418.71" y2="684.8" stroke="#000" stroke-width="1.1" />
<line x1="434.64" y1="682.3" x2="434.64" y2="686.3" stroke="#000" stroke-width="1.2" />
<text x="434.64" y="695.6" font-size="8.2" text-anchor="middle" font-weight="normal" font-style="normal" fill="#000" >120</text>
<text x="355" y="709.2" font-size="8.8" text-anchor="middle" font-weight="bold" font-style="normal" fill="#000" >Time (s)</text>
<text transform="translate(254.3,626.5) rotate(-90)" x="0" y="0" font-size="9.2" text-anchor="middle" font-weight="bold" fill="#000" >Response units (RU)</text>
<text x="472.6" y="531" font-size="19" text-anchor="start" font-weight="bold" font-style="normal" fill="#000" >g</text>
<circle cx="506.83" cy="668.38" r="1.3" fill="#10a010"/>
<circle cx="508.06" cy="661.8" r="1.3" fill="#ff9a40"/>
<circle cx="510.51" cy="650.52" r="1.3" fill="#3a3aff"/>
<circle cx="515.44" cy="633.6" r="1.3" fill="#a040e0"/>
<circle cx="525.29" cy="618.56" r="1.3" fill="#e8e020"/>
<circle cx="544.98" cy="604.46" r="1.3" fill="#ff2020"/>
<circle cx="584.35" cy="594.12" r="1.3" fill="#a02020"/>
<circle cx="663.1" cy="586.22" r="1.3" fill="#30e0f0"/>
<path d="M505.6,680.6 L505.92,678.25 L506.23,676.01 L506.55,673.86 L506.86,671.81 L507.18,669.84 L507.49,667.96 L507.81,666.15 L508.12,664.41 L508.44,662.75 L508.75,661.14 L509.06,659.59 L509.38,658.11 L509.7,656.67 L510.01,655.29 L510.33,653.95 L510.64,652.66 L510.96,651.42 L511.27,650.21 L511.59,649.05 L511.9,647.92 L512.22,646.82 L512.53,645.77 L512.85,644.74 L513.16,643.74 L513.48,642.78 L513.79,641.84 L514.11,640.93 L514.42,640.04 L514.74,639.18 L515.05,638.35 L515.37,637.53 L515.68,636.74 L516,635.97 L516.31,635.22 L516.62,634.49 L516.94,633.78 L517.25,633.08 L517.57,632.4 L517.88,631.74 L518.2,631.1 L518.51,630.47 L518.83,629.86 L519.14,629.26 L519.46,628.67 L519.77,628.1 L520.09,627.54 L520.4,626.99 L520.72,626.46 L521.03,625.93 L521.35,625.42 L521.66,624.92 L521.98,624.43 L522.29,623.95 L522.61,623.48 L522.92,623.02 L523.24,622.57 L523.56,622.13 L523.87,621.69 L524.19,621.27 L524.5,620.85 L524.82,620.44 L526.39,618.51 L527.97,616.76 L529.54,615.15 L531.12,613.67 L532.69,612.3 L534.26,611.04 L535.84,609.87 L537.41,608.78 L538.99,607.76 L540.57,606.81 L542.14,605.92 L543.72,605.09 L545.29,604.3 L546.87,603.56 L548.44,602.86 L550.01,602.2 L551.59,601.58 L553.16,600.98 L554.74,600.42 L556.32,599.89 L557.89,599.38 L559.47,598.89 L561.04,598.43 L562.62,597.98 L564.19,597.56 L565.76,597.15 L567.34,596.76 L568.91,596.39 L570.49,596.03 L572.07,595.69 L573.64,595.36 L575.22,595.04 L576.79,594.74 L578.37,594.44 L579.94,594.16 L581.51,593.88 L583.09,593.62 L584.66,593.36 L586.24,593.12 L587.82,592.88 L589.39,592.65 L590.97,592.42 L592.54,592.21 L594.12,592 L595.69,591.79 L597.26,591.6 L598.84,591.41 L600.41,591.22 L601.99,591.04 L603.57,590.86 L605.14,590.69 L606.72,590.53 L608.29,590.36 L609.87,590.21 L611.44,590.05 L613.01,589.91 L614.59,589.76 L616.16,589.62 L617.74,589.48 L619.32,589.35 L620.89,589.22 L622.47,589.09 L624.04,588.96 L625.62,588.84 L627.19,588.72 L628.76,588.6 L630.34,588.49 L631.91,588.38 L633.49,588.27 L635.07,588.16 L636.64,588.06 L638.22,587.96 L639.79,587.86 L641.37,587.76 L642.94,587.67 L644.51,587.57 L646.09,587.48 L647.66,587.39 L649.24,587.3 L650.82,587.22 L652.39,587.13 L653.97,587.05 L655.54,586.97 L657.12,586.89 L658.69,586.81 L660.26,586.73 L661.84,586.66" fill="none" stroke="#111" stroke-width="1.4" stroke-linejoin="round" />
<line x1="505.6" y1="567.8" x2="505.6" y2="681.2" stroke="#000" stroke-width="1.3" />
<line x1="505" y1="680.6" x2="663.4" y2="680.6" stroke="#000" stroke-width="1.3" />
<line x1="501.1" y1="680.6" x2="505.6" y2="680.6" stroke="#000" stroke-width="1.2" />
<text x="500.1" y="683.6" font-size="8.4" text-anchor="end" font-weight="bold" font-style="normal" fill="#000" >0</text>
<line x1="501.1" y1="661.8" x2="505.6" y2="661.8" stroke="#000" stroke-width="1.2" />
<text x="500.1" y="664.8" font-size="8.4" text-anchor="end" font-weight="bold" font-style="normal" fill="#000" >10</text>
<line x1="501.1" y1="643" x2="505.6" y2="643" stroke="#000" stroke-width="1.2" />
<text x="500.1" y="646" font-size="8.4" text-anchor="end" font-weight="bold" font-style="normal" fill="#000" >20</text>
<line x1="501.1" y1="624.2" x2="505.6" y2="624.2" stroke="#000" stroke-width="1.2" />
<text x="500.1" y="627.2" font-size="8.4" text-anchor="end" font-weight="bold" font-style="normal" fill="#000" >30</text>
<line x1="501.1" y1="605.4" x2="505.6" y2="605.4" stroke="#000" stroke-width="1.2" />
<text x="500.1" y="608.4" font-size="8.4" text-anchor="end" font-weight="bold" font-style="normal" fill="#000" >40</text>
<line x1="501.1" y1="586.6" x2="505.6" y2="586.6" stroke="#000" stroke-width="1.2" />
<text x="500.1" y="589.6" font-size="8.4" text-anchor="end" font-weight="bold" font-style="normal" fill="#000" >50</text>
<line x1="501.1" y1="567.8" x2="505.6" y2="567.8" stroke="#000" stroke-width="1.2" />
<text x="500.1" y="570.8" font-size="8.4" text-anchor="end" font-weight="bold" font-style="normal" fill="#000" >60</text>
<line x1="505.6" y1="680.6" x2="505.6" y2="685.1" stroke="#000" stroke-width="1.2" />
<text x="505.6" y="695.2" font-size="8.4" text-anchor="middle" font-weight="bold" font-style="normal" fill="#000" >0</text>
<line x1="521.35" y1="680.6" x2="521.35" y2="683.2" stroke="#000" stroke-width="1.1" />
<line x1="537.1" y1="680.6" x2="537.1" y2="685.1" stroke="#000" stroke-width="1.2" />
<text x="537.1" y="695.2" font-size="8.4" text-anchor="middle" font-weight="bold" font-style="normal" fill="#000" >5</text>
<line x1="552.85" y1="680.6" x2="552.85" y2="683.2" stroke="#000" stroke-width="1.1" />
<line x1="568.6" y1="680.6" x2="568.6" y2="685.1" stroke="#000" stroke-width="1.2" />
<text x="568.6" y="695.2" font-size="8.4" text-anchor="middle" font-weight="bold" font-style="normal" fill="#000" >10</text>
<line x1="584.35" y1="680.6" x2="584.35" y2="683.2" stroke="#000" stroke-width="1.1" />
<line x1="600.1" y1="680.6" x2="600.1" y2="685.1" stroke="#000" stroke-width="1.2" />
<text x="600.1" y="695.2" font-size="8.4" text-anchor="middle" font-weight="bold" font-style="normal" fill="#000" >15</text>
<line x1="615.85" y1="680.6" x2="615.85" y2="683.2" stroke="#000" stroke-width="1.1" />
<line x1="631.6" y1="680.6" x2="631.6" y2="685.1" stroke="#000" stroke-width="1.2" />
<text x="631.6" y="695.2" font-size="8.4" text-anchor="middle" font-weight="bold" font-style="normal" fill="#000" >20</text>
<line x1="647.35" y1="680.6" x2="647.35" y2="683.2" stroke="#000" stroke-width="1.1" />
<line x1="663.1" y1="680.6" x2="663.1" y2="685.1" stroke="#000" stroke-width="1.2" />
<text x="663.1" y="695.2" font-size="8.4" text-anchor="middle" font-weight="bold" font-style="normal" fill="#000" >25</text>
<text x="584.5" y="707.6" font-size="8.0" text-anchor="middle" font-weight="bold" font-style="normal" fill="#000" >Concentration (μM)</text>
<text transform="translate(481.3,624.5) rotate(-90)" x="0" y="0" font-size="9.45" text-anchor="middle" font-weight="bold" fill="#000" >Response units (RU)</text>
<text x="8.6" y="755.6" font-size="19" text-anchor="start" font-weight="bold" font-style="normal" fill="#000" >h</text>
<line x1="91.1" y1="888.4" x2="261.8" y2="815.5" stroke="#ff2a2a" stroke-width="1.0" />
<line x1="91.1" y1="923.3" x2="261.8" y2="848.1" stroke="#2a2aff" stroke-width="1.0" />
<line x1="91.1" y1="887.8" x2="91.1" y2="894.2" stroke="#ff1a1a" stroke-width="1.3" />
<line x1="88.9" y1="887.8" x2="93.3" y2="887.8" stroke="#ff1a1a" stroke-width="1.3" />
<line x1="88.9" y1="894.2" x2="93.3" y2="894.2" stroke="#ff1a1a" stroke-width="1.3" />
<circle cx="91.1" cy="891" r="1.5" fill="#ff1a1a"/>
<line x1="112.1" y1="874.5" x2="112.1" y2="880.9" stroke="#ff1a1a" stroke-width="1.3" />
<line x1="109.9" y1="874.5" x2="114.3" y2="874.5" stroke="#ff1a1a" stroke-width="1.3" />
<line x1="109.9" y1="880.9" x2="114.3" y2="880.9" stroke="#ff1a1a" stroke-width="1.3" />
<circle cx="112.1" cy="877.7" r="1.5" fill="#ff1a1a"/>
<line x1="133.9" y1="865.7" x2="133.9" y2="872.1" stroke="#ff1a1a" stroke-width="1.3" />
<line x1="131.7" y1="865.7" x2="136.1" y2="865.7" stroke="#ff1a1a" stroke-width="1.3" />
<line x1="131.7" y1="872.1" x2="136.1" y2="872.1" stroke="#ff1a1a" stroke-width="1.3" />
<circle cx="133.9" cy="868.9" r="1.5" fill="#ff1a1a"/>
<line x1="161.5" y1="852.8" x2="161.5" y2="859.2" stroke="#ff1a1a" stroke-width="1.3" />
<line x1="159.3" y1="852.8" x2="163.7" y2="852.8" stroke="#ff1a1a" stroke-width="1.3" />
<line x1="159.3" y1="859.2" x2="163.7" y2="859.2" stroke="#ff1a1a" stroke-width="1.3" />
<circle cx="161.5" cy="856" r="1.5" fill="#ff1a1a"/>
<line x1="189.9" y1="837.7" x2="189.9" y2="844.1" stroke="#ff1a1a" stroke-width="1.3" />
<line x1="187.7" y1="837.7" x2="192.1" y2="837.7" stroke="#ff1a1a" stroke-width="1.3" />
<line x1="187.7" y1="844.1" x2="192.1" y2="844.1" stroke="#ff1a1a" stroke-width="1.3" />
<circle cx="189.9" cy="840.9" r="1.5" fill="#ff1a1a"/>
<line x1="219.1" y1="829.1" x2="219.1" y2="835.5" stroke="#ff1a1a" stroke-width="1.3" />
<line x1="216.9" y1="829.1" x2="221.3" y2="829.1" stroke="#ff1a1a" stroke-width="1.3" />
<line x1="216.9" y1="835.5" x2="221.3" y2="835.5" stroke="#ff1a1a" stroke-width="1.3" />
<circle cx="219.1" cy="832.3" r="1.5" fill="#ff1a1a"/>
<line x1="261.8" y1="812.5" x2="261.8" y2="818.9" stroke="#ff1a1a" stroke-width="1.3" />
<line x1="259.6" y1="812.5" x2="264" y2="812.5" stroke="#ff1a1a" stroke-width="1.3" />
<line x1="259.6" y1="818.9" x2="264" y2="818.9" stroke="#ff1a1a" stroke-width="1.3" />
<circle cx="261.8" cy="815.7" r="1.5" fill="#ff1a1a"/>
<line x1="91.1" y1="923.5" x2="91.1" y2="929.9" stroke="#1a1aff" stroke-width="1.3" />
<line x1="88.9" y1="923.5" x2="93.3" y2="923.5" stroke="#1a1aff" stroke-width="1.3" />
<line x1="88.9" y1="929.9" x2="93.3" y2="929.9" stroke="#1a1aff" stroke-width="1.3" />
<circle cx="91.1" cy="926.7" r="1.5" fill="#1a1aff"/>
<line x1="112.1" y1="912" x2="112.1" y2="918.4" stroke="#1a1aff" stroke-width="1.3" />
<line x1="109.9" y1="912" x2="114.3" y2="912" stroke="#1a1aff" stroke-width="1.3" />
<line x1="109.9" y1="918.4" x2="114.3" y2="918.4" stroke="#1a1aff" stroke-width="1.3" />
<circle cx="112.1" cy="915.2" r="1.5" fill="#1a1aff"/>
<line x1="133.9" y1="900.4" x2="133.9" y2="906.8" stroke="#1a1aff" stroke-width="1.3" />
<line x1="131.7" y1="900.4" x2="136.1" y2="900.4" stroke="#1a1aff" stroke-width="1.3" />
<line x1="131.7" y1="906.8" x2="136.1" y2="906.8" stroke="#1a1aff" stroke-width="1.3" />
<circle cx="133.9" cy="903.6" r="1.5" fill="#1a1aff"/>
<line x1="161.5" y1="885.8" x2="161.5" y2="892.2" stroke="#1a1aff" stroke-width="1.3" />
<line x1="159.3" y1="885.8" x2="163.7" y2="885.8" stroke="#1a1aff" stroke-width="1.3" />
<line x1="159.3" y1="892.2" x2="163.7" y2="892.2" stroke="#1a1aff" stroke-width="1.3" />
<circle cx="161.5" cy="889" r="1.5" fill="#1a1aff"/>
<circle cx="189.9" cy="874.4" r="1.5" fill="#1a1aff"/>
<line x1="219.1" y1="862.2" x2="219.1" y2="868.6" stroke="#1a1aff" stroke-width="1.3" />
<line x1="216.9" y1="862.2" x2="221.3" y2="862.2" stroke="#1a1aff" stroke-width="1.3" />
<line x1="216.9" y1="868.6" x2="221.3" y2="868.6" stroke="#1a1aff" stroke-width="1.3" />
<circle cx="219.1" cy="865.4" r="1.5" fill="#1a1aff"/>
<line x1="261.8" y1="845.2" x2="261.8" y2="851.6" stroke="#1a1aff" stroke-width="1.3" />
<line x1="259.6" y1="845.2" x2="264" y2="845.2" stroke="#1a1aff" stroke-width="1.3" />
<line x1="259.6" y1="851.6" x2="264" y2="851.6" stroke="#1a1aff" stroke-width="1.3" />
<circle cx="261.8" cy="848.4" r="1.5" fill="#1a1aff"/>
<line x1="59.7" y1="794.6" x2="59.7" y2="938.6" stroke="#000" stroke-width="1.4" />
<line x1="59.1" y1="938" x2="283.6" y2="938" stroke="#000" stroke-width="1.4" />
<line x1="53.3" y1="938" x2="59.7" y2="938" stroke="#000" stroke-width="1.3" />
<text x="51" y="942.3" font-size="11.0" text-anchor="end" font-weight="bold" font-style="normal" fill="#000" >11.5</text>
<line x1="56" y1="926.09" x2="59.7" y2="926.09" stroke="#000" stroke-width="1.2" />
<line x1="53.3" y1="914.17" x2="59.7" y2="914.17" stroke="#000" stroke-width="1.3" />
<text x="51" y="918.47" font-size="11.0" text-anchor="end" font-weight="bold" font-style="normal" fill="#000" >12.0</text>
<line x1="56" y1="902.26" x2="59.7" y2="902.26" stroke="#000" stroke-width="1.2" />
<line x1="53.3" y1="890.35" x2="59.7" y2="890.35" stroke="#000" stroke-width="1.3" />
<text x="51" y="894.65" font-size="11.0" text-anchor="end" font-weight="bold" font-style="normal" fill="#000" >12.5</text>
<line x1="56" y1="878.44" x2="59.7" y2="878.44" stroke="#000" stroke-width="1.2" />
<line x1="53.3" y1="866.52" x2="59.7" y2="866.52" stroke="#000" stroke-width="1.3" />
<text x="51" y="870.82" font-size="11.0" text-anchor="end" font-weight="bold" font-style="normal" fill="#000" >13.0</text>
<line x1="56" y1="854.61" x2="59.7" y2="854.61" stroke="#000" stroke-width="1.2" />
<line x1="53.3" y1="842.7" x2="59.7" y2="842.7" stroke="#000" stroke-width="1.3" />
<text x="51" y="847" font-size="11.0" text-anchor="end" font-weight="bold" font-style="normal" fill="#000" >13.5</text>
<line x1="56" y1="830.79" x2="59.7" y2="830.79" stroke="#000" stroke-width="1.2" />
<line x1="53.3" y1="818.88" x2="59.7" y2="818.88" stroke="#000" stroke-width="1.3" />
<text x="51" y="823.17" font-size="11.0" text-anchor="end" font-weight="bold" font-style="normal" fill="#000" >14.0</text>
<line x1="56" y1="806.96" x2="59.7" y2="806.96" stroke="#000" stroke-width="1.2" />
<line x1="53.3" y1="795.05" x2="59.7" y2="795.05" stroke="#000" stroke-width="1.3" />
<text x="51" y="799.35" font-size="11.0" text-anchor="end" font-weight="bold" font-style="normal" fill="#000" >14.5</text>
<line x1="84" y1="938" x2="84" y2="944" stroke="#000" stroke-width="1.3" />
<text x="84" y="957" font-size="10.9" text-anchor="middle" font-weight="bold" font-style="normal" fill="#000" >0.0032</text>
<line x1="133.9" y1="938" x2="133.9" y2="944" stroke="#000" stroke-width="1.3" />
<text x="133.9" y="957" font-size="10.9" text-anchor="middle" font-weight="bold" font-style="normal" fill="#000" >0.0033</text>
<line x1="183.8" y1="938" x2="183.8" y2="944" stroke="#000" stroke-width="1.3" />
<text x="183.8" y="957" font-size="10.9" text-anchor="middle" font-weight="bold" font-style="normal" fill="#000" >0.0034</text>
<line x1="233.7" y1="938" x2="233.7" y2="944" stroke="#000" stroke-width="1.3" />
<text x="233.7" y="957" font-size="10.9" text-anchor="middle" font-weight="bold" font-style="normal" fill="#000" >0.0035</text>
<line x1="283.6" y1="938" x2="283.6" y2="944" stroke="#000" stroke-width="1.3" />
<text x="283.6" y="957" font-size="10.9" text-anchor="middle" font-weight="bold" font-style="normal" fill="#000" >0.0036</text>
<text x="171" y="975.6" font-size="11.9" text-anchor="middle" font-weight="bold" font-style="normal" fill="#000" >1/T (1/K)</text>
<text transform="translate(20.5,866.3) rotate(-90)" x="0" y="0" font-size="12.9" text-anchor="middle" font-weight="normal" fill="#000" >ln <tspan font-style="italic">K</tspan><tspan font-size="9" dy="2.8">A</tspan></text>
<line x1="67" y1="802.4" x2="82.7" y2="802.4" stroke="#2a2aff" stroke-width="1.0" />
<circle cx="75" cy="802.4" r="1.5" fill="#2a2aff"/>
<text x="91.8" y="806.7" font-size="12.4" text-anchor="start" font-weight="normal" font-style="normal" fill="#111" >compound <tspan font-weight="bold">7</tspan></text>
<line x1="67" y1="819" x2="82.7" y2="819" stroke="#ff2a2a" stroke-width="1.0" />
<circle cx="75" cy="819" r="1.5" fill="#ff2a2a"/>
<text x="91.8" y="823.3" font-size="12.4" text-anchor="start" font-weight="normal" font-style="normal" fill="#111" >compound <tspan font-weight="bold">8</tspan></text>
<text x="334.8" y="755.8" font-size="19" text-anchor="start" font-weight="bold" font-style="normal" fill="#000" >i</text>
<rect x="391.9" y="837.9" width="19.5" height="59.69" fill="#7b7bf9" stroke="#0a0aff" stroke-width="2.3"/>
<line x1="401.65" y1="888.31" x2="401.65" y2="911.11" stroke="#0a0aff" stroke-width="1.0" />
<line x1="396.45" y1="888.31" x2="406.85" y2="888.31" stroke="#0a0aff" stroke-width="1.2" />
<line x1="396.45" y1="911.11" x2="406.85" y2="911.11" stroke="#0a0aff" stroke-width="1.2" />
<circle cx="401.65" cy="900.32" r="2.3" fill="#0a0aff"/>
<rect x="424.1" y="820.39" width="19.8" height="15.31" fill="#ff8c8c" stroke="#ff1010" stroke-width="2.3"/>
<line x1="434" y1="829.67" x2="434" y2="807.28" stroke="#ff1010" stroke-width="1.0" />
<line x1="428.8" y1="829.67" x2="439.2" y2="829.67" stroke="#ff1010" stroke-width="1.2" />
<line x1="428.8" y1="807.28" x2="439.2" y2="807.28" stroke="#ff1010" stroke-width="1.2" />
<circle cx="434" cy="818.48" r="2.3" fill="#ff1010"/>
<rect x="457.5" y="837.9" width="19.4" height="78.63" fill="#7ddd7d" stroke="#10bb10" stroke-width="2.3"/>
<line x1="467.2" y1="915.39" x2="467.2" y2="920.89" stroke="#10bb10" stroke-width="1.0" />
<line x1="462" y1="915.39" x2="472.4" y2="915.39" stroke="#10bb10" stroke-width="1.2" />
<line x1="462" y1="920.89" x2="472.4" y2="920.89" stroke="#10bb10" stroke-width="1.2" />
<circle cx="467.2" cy="918.65" r="2.3" fill="#10bb10"/>
<rect x="379.7" y="795.9" width="110.1" height="162.9" fill="none" stroke="#000" stroke-width="1.5"/>
<line x1="379.7" y1="836.8" x2="489.8" y2="836.8" stroke="#000" stroke-width="1.6" />
<line x1="373.2" y1="796.08" x2="379.7" y2="796.08" stroke="#000" stroke-width="1.4" />
<text x="370.3" y="800.08" font-size="11.2" text-anchor="end" font-weight="bold" font-style="normal" fill="#000" >20</text>
<line x1="373.2" y1="816.44" x2="379.7" y2="816.44" stroke="#000" stroke-width="1.4" />
<text x="370.3" y="820.44" font-size="11.2" text-anchor="end" font-weight="bold" font-style="normal" fill="#000" >10</text>
<line x1="373.2" y1="836.8" x2="379.7" y2="836.8" stroke="#000" stroke-width="1.4" />
<text x="370.3" y="840.8" font-size="11.2" text-anchor="end" font-weight="bold" font-style="normal" fill="#000" >0</text>
<line x1="373.2" y1="857.16" x2="379.7" y2="857.16" stroke="#000" stroke-width="1.4" />
<text x="370.3" y="861.16" font-size="11.2" text-anchor="end" font-weight="bold" font-style="normal" fill="#000" >-10</text>
<line x1="373.2" y1="877.52" x2="379.7" y2="877.52" stroke="#000" stroke-width="1.4" />
<text x="370.3" y="881.52" font-size="11.2" text-anchor="end" font-weight="bold" font-style="normal" fill="#000" >-20</text>
<line x1="373.2" y1="897.88" x2="379.7" y2="897.88" stroke="#000" stroke-width="1.4" />
<text x="370.3" y="901.88" font-size="11.2" text-anchor="end" font-weight="bold" font-style="normal" fill="#000" >-30</text>
<line x1="373.2" y1="918.24" x2="379.7" y2="918.24" stroke="#000" stroke-width="1.4" />
<text x="370.3" y="922.24" font-size="11.2" text-anchor="end" font-weight="bold" font-style="normal" fill="#000" >-40</text>
<line x1="373.2" y1="938.6" x2="379.7" y2="938.6" stroke="#000" stroke-width="1.4" />
<text x="370.3" y="942.6" font-size="11.2" text-anchor="end" font-weight="bold" font-style="normal" fill="#000" >-50</text>
<line x1="373.2" y1="958.96" x2="379.7" y2="958.96" stroke="#000" stroke-width="1.4" />
<text x="370.3" y="962.96" font-size="11.2" text-anchor="end" font-weight="bold" font-style="normal" fill="#000" >-60</text>
<text x="401.65" y="946.3" font-size="11.2" text-anchor="middle" font-weight="bold" font-style="normal" fill="#2222ff" >Δ<tspan font-style="italic">G</tspan></text>
<text x="434" y="946.3" font-size="11.2" text-anchor="middle" font-weight="bold" font-style="normal" fill="#ff2222" >-TΔ<tspan font-style="italic">S</tspan></text>
<text x="467.2" y="946.3" font-size="11.2" text-anchor="middle" font-weight="bold" font-style="normal" fill="#1fbf1f" >Δ<tspan font-style="italic">H</tspan></text>
<text transform="translate(345,876.2) rotate(-90) scale(0.97,1)" x="0" y="0" font-size="14.0" text-anchor="middle" font-weight="bold" fill="#000" >Molar reaction energy (kJ mol<tspan font-size="9" dy="-5.3">-1</tspan><tspan dy="5.3">)</tspan></text>
<text x="522.5" y="755.8" font-size="19" text-anchor="start" font-weight="bold" font-style="normal" fill="#000" >j</text>
<rect x="577" y="839.3" width="19.8" height="63.65" fill="#7b7bf9" stroke="#0a0aff" stroke-width="2.3"/>
<line x1="586.9" y1="893.08" x2="586.9" y2="916.45" stroke="#0a0aff" stroke-width="1.0" />
<line x1="581.7" y1="893.08" x2="592.1" y2="893.08" stroke="#0a0aff" stroke-width="1.2" />
<line x1="581.7" y1="916.45" x2="592.1" y2="916.45" stroke="#0a0aff" stroke-width="1.2" />
<circle cx="586.9" cy="905.48" r="2.3" fill="#0a0aff"/>
<rect x="609.7" y="829.14" width="19.8" height="7.96" fill="#ff8c8c" stroke="#ff1010" stroke-width="2.3"/>
<line x1="619.6" y1="836.57" x2="619.6" y2="816.25" stroke="#ff1010" stroke-width="1.0" />
<line x1="614.4" y1="836.57" x2="624.8" y2="836.57" stroke="#ff1010" stroke-width="1.2" />
<line x1="614.4" y1="816.25" x2="624.8" y2="816.25" stroke="#ff1010" stroke-width="1.2" />
<circle cx="619.6" cy="826.82" r="2.3" fill="#ff1010"/>
<rect x="643.2" y="839.3" width="18.8" height="74.02" fill="#7ddd7d" stroke="#10bb10" stroke-width="2.3"/>
<line x1="652.6" y1="912.59" x2="652.6" y2="917.87" stroke="#10bb10" stroke-width="1.0" />
<line x1="647.4" y1="912.59" x2="657.8" y2="912.59" stroke="#10bb10" stroke-width="1.2" />
<line x1="647.4" y1="917.87" x2="657.8" y2="917.87" stroke="#10bb10" stroke-width="1.2" />
<circle cx="652.6" cy="916.04" r="2.3" fill="#10bb10"/>
<rect x="565.3" y="797.4" width="109.5" height="162.6" fill="none" stroke="#000" stroke-width="1.5"/>
<line x1="565.3" y1="838.2" x2="674.8" y2="838.2" stroke="#000" stroke-width="1.6" />
<line x1="558.8" y1="797.55" x2="565.3" y2="797.55" stroke="#000" stroke-width="1.4" />
<text x="555.9" y="801.55" font-size="11.2" text-anchor="end" font-weight="bold" font-style="normal" fill="#000" >20</text>
<line x1="558.8" y1="817.88" x2="565.3" y2="817.88" stroke="#000" stroke-width="1.4" />
<text x="555.9" y="821.88" font-size="11.2" text-anchor="end" font-weight="bold" font-style="normal" fill="#000" >10</text>
<line x1="558.8" y1="838.2" x2="565.3" y2="838.2" stroke="#000" stroke-width="1.4" />
<text x="555.9" y="842.2" font-size="11.2" text-anchor="end" font-weight="bold" font-style="normal" fill="#000" >0</text>
<line x1="558.8" y1="858.53" x2="565.3" y2="858.53" stroke="#000" stroke-width="1.4" />
<text x="555.9" y="862.53" font-size="11.2" text-anchor="end" font-weight="bold" font-style="normal" fill="#000" >-10</text>
<line x1="558.8" y1="878.85" x2="565.3" y2="878.85" stroke="#000" stroke-width="1.4" />
<text x="555.9" y="882.85" font-size="11.2" text-anchor="end" font-weight="bold" font-style="normal" fill="#000" >-20</text>
<line x1="558.8" y1="899.18" x2="565.3" y2="899.18" stroke="#000" stroke-width="1.4" />
<text x="555.9" y="903.18" font-size="11.2" text-anchor="end" font-weight="bold" font-style="normal" fill="#000" >-30</text>
<line x1="558.8" y1="919.5" x2="565.3" y2="919.5" stroke="#000" stroke-width="1.4" />
<text x="555.9" y="923.5" font-size="11.2" text-anchor="end" font-weight="bold" font-style="normal" fill="#000" >-40</text>
<line x1="558.8" y1="939.83" x2="565.3" y2="939.83" stroke="#000" stroke-width="1.4" />
<text x="555.9" y="943.83" font-size="11.2" text-anchor="end" font-weight="bold" font-style="normal" fill="#000" >-50</text>
<line x1="558.8" y1="960.15" x2="565.3" y2="960.15" stroke="#000" stroke-width="1.4" />
<text x="555.9" y="964.15" font-size="11.2" text-anchor="end" font-weight="bold" font-style="normal" fill="#000" >-60</text>
<text x="586.9" y="947.8" font-size="11.2" text-anchor="middle" font-weight="bold" font-style="normal" fill="#2222ff" >Δ<tspan font-style="italic">G</tspan></text>
<text x="619.6" y="947.8" font-size="11.2" text-anchor="middle" font-weight="bold" font-style="normal" fill="#ff2222" >-TΔ<tspan font-style="italic">S</tspan></text>
<text x="652.6" y="947.8" font-size="11.2" text-anchor="middle" font-weight="bold" font-style="normal" fill="#1fbf1f" >Δ<tspan font-style="italic">H</tspan></text>
<text transform="translate(531,878.4) rotate(-90) scale(0.97,1)" x="0" y="0" font-size="14.0" text-anchor="middle" font-weight="bold" fill="#000" >Molar reaction energy (kJ mol<tspan font-size="9" dy="-5.3">-1</tspan><tspan dy="5.3">)</tspan></text>
</svg></body></html>
